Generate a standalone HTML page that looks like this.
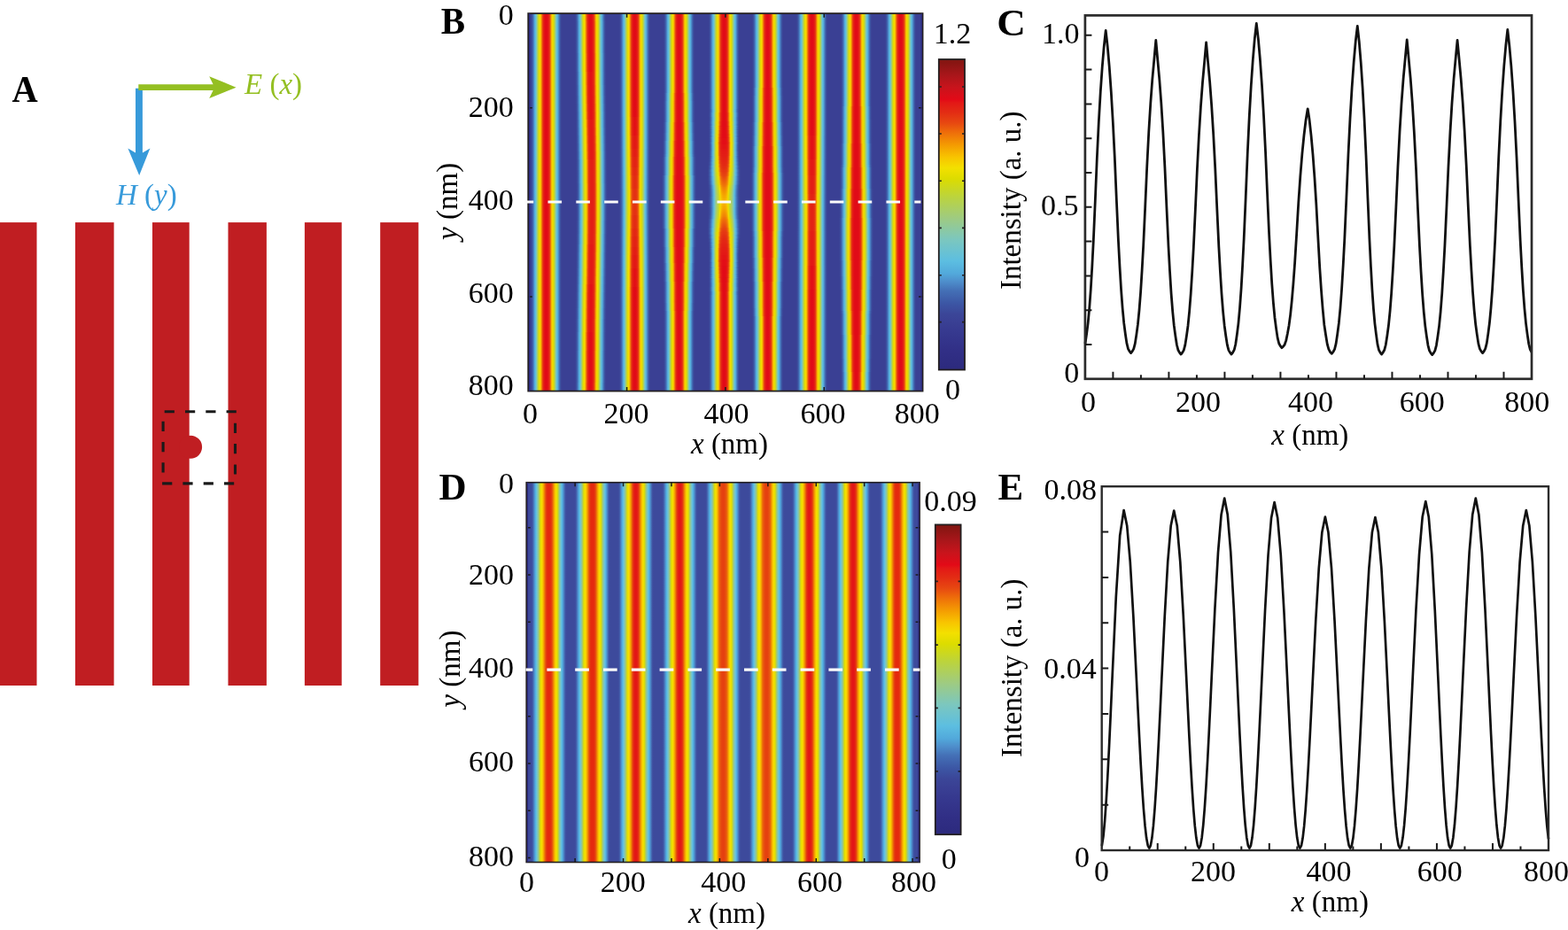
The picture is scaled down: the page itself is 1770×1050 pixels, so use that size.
<!DOCTYPE html>
<html><head><meta charset="utf-8"><title>Figure</title>
<style>html,body{margin:0;padding:0;background:#fff;width:1770px;height:1050px;overflow:hidden}
svg{display:block}
text{font-family:"Liberation Serif","Times New Roman",serif}</style></head>
<body><svg width="1770" height="1050" viewBox="0 0 1770 1050">
<defs><linearGradient id="b0"><stop offset="0.000" stop-color="#3a4094"/><stop offset="0.033" stop-color="#3b4597"/><stop offset="0.067" stop-color="#3c58a5"/><stop offset="0.100" stop-color="#4779bd"/><stop offset="0.133" stop-color="#52a7da"/><stop offset="0.167" stop-color="#61bfdc"/><stop offset="0.200" stop-color="#88c8a8"/><stop offset="0.233" stop-color="#b2d153"/><stop offset="0.267" stop-color="#d9db05"/><stop offset="0.300" stop-color="#f4dd00"/><stop offset="0.333" stop-color="#f7ba00"/><stop offset="0.367" stop-color="#ee6b0a"/><stop offset="0.400" stop-color="#e32d14"/><stop offset="0.433" stop-color="#e31916"/><stop offset="0.467" stop-color="#e30a17"/><stop offset="0.500" stop-color="#e00b18"/><stop offset="0.533" stop-color="#e30a17"/><stop offset="0.567" stop-color="#e31916"/><stop offset="0.600" stop-color="#e32d14"/><stop offset="0.633" stop-color="#ee6b0a"/><stop offset="0.667" stop-color="#f7ba00"/><stop offset="0.700" stop-color="#f4dd00"/><stop offset="0.733" stop-color="#d9db05"/><stop offset="0.767" stop-color="#b2d153"/><stop offset="0.800" stop-color="#88c8a8"/><stop offset="0.833" stop-color="#61bfdc"/><stop offset="0.867" stop-color="#52a7da"/><stop offset="0.900" stop-color="#4779bd"/><stop offset="0.933" stop-color="#3c58a5"/><stop offset="0.967" stop-color="#3b4597"/><stop offset="1.000" stop-color="#3a4094"/></linearGradient><linearGradient id="b1"><stop offset="0.000" stop-color="#3a4094"/><stop offset="0.033" stop-color="#3b4597"/><stop offset="0.067" stop-color="#3c57a5"/><stop offset="0.100" stop-color="#4778bc"/><stop offset="0.133" stop-color="#51a5d9"/><stop offset="0.167" stop-color="#60bfdd"/><stop offset="0.200" stop-color="#87c8aa"/><stop offset="0.233" stop-color="#b1d057"/><stop offset="0.267" stop-color="#d7db0a"/><stop offset="0.300" stop-color="#f2e000"/><stop offset="0.333" stop-color="#f8bf00"/><stop offset="0.367" stop-color="#ef7209"/><stop offset="0.400" stop-color="#e43213"/><stop offset="0.433" stop-color="#e31d15"/><stop offset="0.467" stop-color="#e31316"/><stop offset="0.500" stop-color="#e30d17"/><stop offset="0.533" stop-color="#e31316"/><stop offset="0.567" stop-color="#e31d15"/><stop offset="0.600" stop-color="#e43213"/><stop offset="0.633" stop-color="#ef7209"/><stop offset="0.667" stop-color="#f8bf00"/><stop offset="0.700" stop-color="#f2e000"/><stop offset="0.733" stop-color="#d7db0a"/><stop offset="0.767" stop-color="#b1d057"/><stop offset="0.800" stop-color="#87c8aa"/><stop offset="0.833" stop-color="#60bfdd"/><stop offset="0.867" stop-color="#51a5d9"/><stop offset="0.900" stop-color="#4778bc"/><stop offset="0.933" stop-color="#3c57a5"/><stop offset="0.967" stop-color="#3b4597"/><stop offset="1.000" stop-color="#3a4094"/></linearGradient><linearGradient id="b2"><stop offset="0.000" stop-color="#3a4094"/><stop offset="0.033" stop-color="#3b4597"/><stop offset="0.067" stop-color="#3c57a5"/><stop offset="0.100" stop-color="#4677bb"/><stop offset="0.133" stop-color="#51a4d8"/><stop offset="0.167" stop-color="#5fbfde"/><stop offset="0.200" stop-color="#86c8ad"/><stop offset="0.233" stop-color="#afd05b"/><stop offset="0.267" stop-color="#d4da0f"/><stop offset="0.300" stop-color="#efdf00"/><stop offset="0.333" stop-color="#f8c500"/><stop offset="0.367" stop-color="#f07908"/><stop offset="0.400" stop-color="#e53813"/><stop offset="0.433" stop-color="#e32215"/><stop offset="0.467" stop-color="#e31a16"/><stop offset="0.500" stop-color="#e31716"/><stop offset="0.533" stop-color="#e31a16"/><stop offset="0.567" stop-color="#e32215"/><stop offset="0.600" stop-color="#e53813"/><stop offset="0.633" stop-color="#f07908"/><stop offset="0.667" stop-color="#f8c500"/><stop offset="0.700" stop-color="#efdf00"/><stop offset="0.733" stop-color="#d4da0f"/><stop offset="0.767" stop-color="#afd05b"/><stop offset="0.800" stop-color="#86c8ad"/><stop offset="0.833" stop-color="#5fbfde"/><stop offset="0.867" stop-color="#51a4d8"/><stop offset="0.900" stop-color="#4677bb"/><stop offset="0.933" stop-color="#3c57a5"/><stop offset="0.967" stop-color="#3b4597"/><stop offset="1.000" stop-color="#3a4094"/></linearGradient><linearGradient id="b3"><stop offset="0.000" stop-color="#3a4094"/><stop offset="0.033" stop-color="#3b4597"/><stop offset="0.067" stop-color="#3c57a5"/><stop offset="0.100" stop-color="#4676ba"/><stop offset="0.133" stop-color="#51a2d7"/><stop offset="0.167" stop-color="#5ebedf"/><stop offset="0.200" stop-color="#84c8b0"/><stop offset="0.233" stop-color="#adcf5e"/><stop offset="0.267" stop-color="#d1d914"/><stop offset="0.300" stop-color="#ecdf00"/><stop offset="0.333" stop-color="#f7c900"/><stop offset="0.367" stop-color="#f07f07"/><stop offset="0.400" stop-color="#e53d12"/><stop offset="0.433" stop-color="#e32715"/><stop offset="0.467" stop-color="#e31f15"/><stop offset="0.500" stop-color="#e31c16"/><stop offset="0.533" stop-color="#e31f15"/><stop offset="0.567" stop-color="#e32715"/><stop offset="0.600" stop-color="#e53d12"/><stop offset="0.633" stop-color="#f07f07"/><stop offset="0.667" stop-color="#f7c900"/><stop offset="0.700" stop-color="#ecdf00"/><stop offset="0.733" stop-color="#d1d914"/><stop offset="0.767" stop-color="#adcf5e"/><stop offset="0.800" stop-color="#84c8b0"/><stop offset="0.833" stop-color="#5ebedf"/><stop offset="0.867" stop-color="#51a2d7"/><stop offset="0.900" stop-color="#4676ba"/><stop offset="0.933" stop-color="#3c57a5"/><stop offset="0.967" stop-color="#3b4597"/><stop offset="1.000" stop-color="#3a4094"/></linearGradient><linearGradient id="b4"><stop offset="0.000" stop-color="#3a4094"/><stop offset="0.033" stop-color="#3b4597"/><stop offset="0.067" stop-color="#3c56a4"/><stop offset="0.100" stop-color="#4675b9"/><stop offset="0.133" stop-color="#51a1d6"/><stop offset="0.167" stop-color="#5dbee0"/><stop offset="0.200" stop-color="#83c8b2"/><stop offset="0.233" stop-color="#accf62"/><stop offset="0.267" stop-color="#cfd918"/><stop offset="0.300" stop-color="#e9de00"/><stop offset="0.333" stop-color="#f6cd00"/><stop offset="0.367" stop-color="#f18606"/><stop offset="0.400" stop-color="#e64212"/><stop offset="0.433" stop-color="#e32b14"/><stop offset="0.467" stop-color="#e32415"/><stop offset="0.500" stop-color="#e32115"/><stop offset="0.533" stop-color="#e32415"/><stop offset="0.567" stop-color="#e32b14"/><stop offset="0.600" stop-color="#e64212"/><stop offset="0.633" stop-color="#f18606"/><stop offset="0.667" stop-color="#f6cd00"/><stop offset="0.700" stop-color="#e9de00"/><stop offset="0.733" stop-color="#cfd918"/><stop offset="0.767" stop-color="#accf62"/><stop offset="0.800" stop-color="#83c8b2"/><stop offset="0.833" stop-color="#5dbee0"/><stop offset="0.867" stop-color="#51a1d6"/><stop offset="0.900" stop-color="#4675b9"/><stop offset="0.933" stop-color="#3c56a4"/><stop offset="0.967" stop-color="#3b4597"/><stop offset="1.000" stop-color="#3a4094"/></linearGradient><linearGradient id="b5"><stop offset="0.000" stop-color="#3a4094"/><stop offset="0.033" stop-color="#3b4597"/><stop offset="0.067" stop-color="#3c56a4"/><stop offset="0.100" stop-color="#4574b9"/><stop offset="0.133" stop-color="#509fd5"/><stop offset="0.167" stop-color="#5cbee1"/><stop offset="0.200" stop-color="#81c8b5"/><stop offset="0.233" stop-color="#aace66"/><stop offset="0.267" stop-color="#ccd81d"/><stop offset="0.300" stop-color="#e5de00"/><stop offset="0.333" stop-color="#f6d200"/><stop offset="0.367" stop-color="#f28d04"/><stop offset="0.400" stop-color="#e74811"/><stop offset="0.433" stop-color="#e43113"/><stop offset="0.467" stop-color="#e32914"/><stop offset="0.500" stop-color="#e32615"/><stop offset="0.533" stop-color="#e32914"/><stop offset="0.567" stop-color="#e43113"/><stop offset="0.600" stop-color="#e74811"/><stop offset="0.633" stop-color="#f28d04"/><stop offset="0.667" stop-color="#f6d200"/><stop offset="0.700" stop-color="#e5de00"/><stop offset="0.733" stop-color="#ccd81d"/><stop offset="0.767" stop-color="#aace66"/><stop offset="0.800" stop-color="#81c8b5"/><stop offset="0.833" stop-color="#5cbee1"/><stop offset="0.867" stop-color="#509fd5"/><stop offset="0.900" stop-color="#4574b9"/><stop offset="0.933" stop-color="#3c56a4"/><stop offset="0.967" stop-color="#3b4597"/><stop offset="1.000" stop-color="#3a4094"/></linearGradient><linearGradient id="b6"><stop offset="0.000" stop-color="#3a4094"/><stop offset="0.033" stop-color="#3b4597"/><stop offset="0.067" stop-color="#3c56a4"/><stop offset="0.100" stop-color="#4573b8"/><stop offset="0.133" stop-color="#509dd4"/><stop offset="0.167" stop-color="#5bbde1"/><stop offset="0.200" stop-color="#80c7b7"/><stop offset="0.233" stop-color="#a9ce6a"/><stop offset="0.267" stop-color="#cad722"/><stop offset="0.300" stop-color="#e2dd00"/><stop offset="0.333" stop-color="#f5d600"/><stop offset="0.367" stop-color="#f39403"/><stop offset="0.400" stop-color="#e9500f"/><stop offset="0.433" stop-color="#e53713"/><stop offset="0.467" stop-color="#e32e14"/><stop offset="0.500" stop-color="#e32b14"/><stop offset="0.533" stop-color="#e32e14"/><stop offset="0.567" stop-color="#e53713"/><stop offset="0.600" stop-color="#e9500f"/><stop offset="0.633" stop-color="#f39403"/><stop offset="0.667" stop-color="#f5d600"/><stop offset="0.700" stop-color="#e2dd00"/><stop offset="0.733" stop-color="#cad722"/><stop offset="0.767" stop-color="#a9ce6a"/><stop offset="0.800" stop-color="#80c7b7"/><stop offset="0.833" stop-color="#5bbde1"/><stop offset="0.867" stop-color="#509dd4"/><stop offset="0.900" stop-color="#4573b8"/><stop offset="0.933" stop-color="#3c56a4"/><stop offset="0.967" stop-color="#3b4597"/><stop offset="1.000" stop-color="#3a4094"/></linearGradient><linearGradient id="b7"><stop offset="0.000" stop-color="#3a4094"/><stop offset="0.033" stop-color="#3b4597"/><stop offset="0.067" stop-color="#3c55a4"/><stop offset="0.100" stop-color="#4471b7"/><stop offset="0.133" stop-color="#509cd3"/><stop offset="0.167" stop-color="#5bbce0"/><stop offset="0.200" stop-color="#7ec7ba"/><stop offset="0.233" stop-color="#a7cd6e"/><stop offset="0.267" stop-color="#c7d727"/><stop offset="0.300" stop-color="#dfdc00"/><stop offset="0.333" stop-color="#f4da00"/><stop offset="0.367" stop-color="#f49b02"/><stop offset="0.400" stop-color="#ea580e"/><stop offset="0.433" stop-color="#e53c12"/><stop offset="0.467" stop-color="#e43413"/><stop offset="0.500" stop-color="#e43014"/><stop offset="0.533" stop-color="#e43413"/><stop offset="0.567" stop-color="#e53c12"/><stop offset="0.600" stop-color="#ea580e"/><stop offset="0.633" stop-color="#f49b02"/><stop offset="0.667" stop-color="#f4da00"/><stop offset="0.700" stop-color="#dfdc00"/><stop offset="0.733" stop-color="#c7d727"/><stop offset="0.767" stop-color="#a7cd6e"/><stop offset="0.800" stop-color="#7ec7ba"/><stop offset="0.833" stop-color="#5bbce0"/><stop offset="0.867" stop-color="#509cd3"/><stop offset="0.900" stop-color="#4471b7"/><stop offset="0.933" stop-color="#3c55a4"/><stop offset="0.967" stop-color="#3b4597"/><stop offset="1.000" stop-color="#3a4094"/></linearGradient><linearGradient id="b8"><stop offset="0.000" stop-color="#3a4094"/><stop offset="0.033" stop-color="#3b4597"/><stop offset="0.067" stop-color="#3c58a6"/><stop offset="0.100" stop-color="#487bbe"/><stop offset="0.133" stop-color="#52a9db"/><stop offset="0.167" stop-color="#63c0d9"/><stop offset="0.200" stop-color="#8cc9a1"/><stop offset="0.233" stop-color="#b6d24a"/><stop offset="0.267" stop-color="#dddc00"/><stop offset="0.300" stop-color="#f4d900"/><stop offset="0.333" stop-color="#f6af01"/><stop offset="0.367" stop-color="#eb5d0d"/><stop offset="0.400" stop-color="#e32814"/><stop offset="0.433" stop-color="#e31516"/><stop offset="0.467" stop-color="#e20b17"/><stop offset="0.500" stop-color="#e00b18"/><stop offset="0.533" stop-color="#e20b17"/><stop offset="0.567" stop-color="#e31516"/><stop offset="0.600" stop-color="#e32814"/><stop offset="0.633" stop-color="#eb5d0d"/><stop offset="0.667" stop-color="#f6af01"/><stop offset="0.700" stop-color="#f4d900"/><stop offset="0.733" stop-color="#dddc00"/><stop offset="0.767" stop-color="#b6d24a"/><stop offset="0.800" stop-color="#8cc9a1"/><stop offset="0.833" stop-color="#63c0d9"/><stop offset="0.867" stop-color="#52a9db"/><stop offset="0.900" stop-color="#487bbe"/><stop offset="0.933" stop-color="#3c58a6"/><stop offset="0.967" stop-color="#3b4597"/><stop offset="1.000" stop-color="#3a4094"/></linearGradient><linearGradient id="b9"><stop offset="0.000" stop-color="#3a4094"/><stop offset="0.033" stop-color="#3b4597"/><stop offset="0.067" stop-color="#3c58a6"/><stop offset="0.100" stop-color="#487bbe"/><stop offset="0.133" stop-color="#52a9db"/><stop offset="0.167" stop-color="#63c0d9"/><stop offset="0.200" stop-color="#8cc9a1"/><stop offset="0.233" stop-color="#b6d24a"/><stop offset="0.267" stop-color="#dddc00"/><stop offset="0.300" stop-color="#f4d900"/><stop offset="0.333" stop-color="#f6af01"/><stop offset="0.367" stop-color="#eb5d0d"/><stop offset="0.400" stop-color="#e32814"/><stop offset="0.433" stop-color="#e31516"/><stop offset="0.467" stop-color="#e20b17"/><stop offset="0.500" stop-color="#e00b18"/><stop offset="0.533" stop-color="#e20b17"/><stop offset="0.567" stop-color="#e31516"/><stop offset="0.600" stop-color="#e32814"/><stop offset="0.633" stop-color="#eb5d0d"/><stop offset="0.667" stop-color="#f6af01"/><stop offset="0.700" stop-color="#f4d900"/><stop offset="0.733" stop-color="#dddc00"/><stop offset="0.767" stop-color="#b6d24a"/><stop offset="0.800" stop-color="#8cc9a1"/><stop offset="0.833" stop-color="#63c0d9"/><stop offset="0.867" stop-color="#52a9db"/><stop offset="0.900" stop-color="#487bbe"/><stop offset="0.933" stop-color="#3c58a6"/><stop offset="0.967" stop-color="#3b4597"/><stop offset="1.000" stop-color="#3a4094"/></linearGradient><linearGradient id="b10"><stop offset="0.000" stop-color="#3a4094"/><stop offset="0.033" stop-color="#3b4598"/><stop offset="0.067" stop-color="#3d59a7"/><stop offset="0.100" stop-color="#487dc0"/><stop offset="0.133" stop-color="#53aadb"/><stop offset="0.167" stop-color="#66c1d6"/><stop offset="0.200" stop-color="#90c99b"/><stop offset="0.233" stop-color="#bad342"/><stop offset="0.267" stop-color="#e1dd00"/><stop offset="0.300" stop-color="#f5d500"/><stop offset="0.333" stop-color="#f5a501"/><stop offset="0.367" stop-color="#e85010"/><stop offset="0.400" stop-color="#e32315"/><stop offset="0.433" stop-color="#e31117"/><stop offset="0.467" stop-color="#e10b17"/><stop offset="0.500" stop-color="#e00b18"/><stop offset="0.533" stop-color="#e10b17"/><stop offset="0.567" stop-color="#e31117"/><stop offset="0.600" stop-color="#e32315"/><stop offset="0.633" stop-color="#e85010"/><stop offset="0.667" stop-color="#f5a501"/><stop offset="0.700" stop-color="#f5d500"/><stop offset="0.733" stop-color="#e1dd00"/><stop offset="0.767" stop-color="#bad342"/><stop offset="0.800" stop-color="#90c99b"/><stop offset="0.833" stop-color="#66c1d6"/><stop offset="0.867" stop-color="#53aadb"/><stop offset="0.900" stop-color="#487dc0"/><stop offset="0.933" stop-color="#3d59a7"/><stop offset="0.967" stop-color="#3b4598"/><stop offset="1.000" stop-color="#3a4094"/></linearGradient><linearGradient id="b11"><stop offset="0.000" stop-color="#3a4094"/><stop offset="0.033" stop-color="#3b4598"/><stop offset="0.067" stop-color="#3d59a7"/><stop offset="0.100" stop-color="#487dbf"/><stop offset="0.133" stop-color="#53aadb"/><stop offset="0.167" stop-color="#66c1d6"/><stop offset="0.200" stop-color="#90c99b"/><stop offset="0.233" stop-color="#bad342"/><stop offset="0.267" stop-color="#e1dd00"/><stop offset="0.300" stop-color="#f5d500"/><stop offset="0.333" stop-color="#f5a501"/><stop offset="0.367" stop-color="#e9500f"/><stop offset="0.400" stop-color="#e32415"/><stop offset="0.433" stop-color="#e31117"/><stop offset="0.467" stop-color="#e10b17"/><stop offset="0.500" stop-color="#e00b18"/><stop offset="0.533" stop-color="#e10b17"/><stop offset="0.567" stop-color="#e31117"/><stop offset="0.600" stop-color="#e32415"/><stop offset="0.633" stop-color="#e9500f"/><stop offset="0.667" stop-color="#f5a501"/><stop offset="0.700" stop-color="#f5d500"/><stop offset="0.733" stop-color="#e1dd00"/><stop offset="0.767" stop-color="#bad342"/><stop offset="0.800" stop-color="#90c99b"/><stop offset="0.833" stop-color="#66c1d6"/><stop offset="0.867" stop-color="#53aadb"/><stop offset="0.900" stop-color="#487dbf"/><stop offset="0.933" stop-color="#3d59a7"/><stop offset="0.967" stop-color="#3b4598"/><stop offset="1.000" stop-color="#3a4094"/></linearGradient><linearGradient id="b12"><stop offset="0.000" stop-color="#3a4094"/><stop offset="0.033" stop-color="#3b4598"/><stop offset="0.067" stop-color="#3d5aa7"/><stop offset="0.100" stop-color="#497fc1"/><stop offset="0.133" stop-color="#53acdc"/><stop offset="0.167" stop-color="#68c1d3"/><stop offset="0.200" stop-color="#94ca94"/><stop offset="0.233" stop-color="#bdd439"/><stop offset="0.267" stop-color="#e6de00"/><stop offset="0.300" stop-color="#f6d100"/><stop offset="0.333" stop-color="#f49b02"/><stop offset="0.367" stop-color="#e74511"/><stop offset="0.400" stop-color="#e31f15"/><stop offset="0.433" stop-color="#e30f17"/><stop offset="0.467" stop-color="#e10b17"/><stop offset="0.500" stop-color="#e00b18"/><stop offset="0.533" stop-color="#e10b17"/><stop offset="0.567" stop-color="#e30f17"/><stop offset="0.600" stop-color="#e31f15"/><stop offset="0.633" stop-color="#e74511"/><stop offset="0.667" stop-color="#f49b02"/><stop offset="0.700" stop-color="#f6d100"/><stop offset="0.733" stop-color="#e6de00"/><stop offset="0.767" stop-color="#bdd439"/><stop offset="0.800" stop-color="#94ca94"/><stop offset="0.833" stop-color="#68c1d3"/><stop offset="0.867" stop-color="#53acdc"/><stop offset="0.900" stop-color="#497fc1"/><stop offset="0.933" stop-color="#3d5aa7"/><stop offset="0.967" stop-color="#3b4598"/><stop offset="1.000" stop-color="#3a4094"/></linearGradient><linearGradient id="b13"><stop offset="0.000" stop-color="#3a4094"/><stop offset="0.033" stop-color="#3b4598"/><stop offset="0.067" stop-color="#3d5aa7"/><stop offset="0.100" stop-color="#497fc1"/><stop offset="0.133" stop-color="#53acdc"/><stop offset="0.167" stop-color="#68c1d4"/><stop offset="0.200" stop-color="#93ca95"/><stop offset="0.233" stop-color="#bdd439"/><stop offset="0.267" stop-color="#e5de00"/><stop offset="0.300" stop-color="#f6d100"/><stop offset="0.333" stop-color="#f49b02"/><stop offset="0.367" stop-color="#e74511"/><stop offset="0.400" stop-color="#e31f15"/><stop offset="0.433" stop-color="#e30f17"/><stop offset="0.467" stop-color="#e10b17"/><stop offset="0.500" stop-color="#e00b18"/><stop offset="0.533" stop-color="#e10b17"/><stop offset="0.567" stop-color="#e30f17"/><stop offset="0.600" stop-color="#e31f15"/><stop offset="0.633" stop-color="#e74511"/><stop offset="0.667" stop-color="#f49b02"/><stop offset="0.700" stop-color="#f6d100"/><stop offset="0.733" stop-color="#e5de00"/><stop offset="0.767" stop-color="#bdd439"/><stop offset="0.800" stop-color="#93ca95"/><stop offset="0.833" stop-color="#68c1d4"/><stop offset="0.867" stop-color="#53acdc"/><stop offset="0.900" stop-color="#497fc1"/><stop offset="0.933" stop-color="#3d5aa7"/><stop offset="0.967" stop-color="#3b4598"/><stop offset="1.000" stop-color="#3a4094"/></linearGradient><linearGradient id="b14"><stop offset="0.000" stop-color="#3a4094"/><stop offset="0.033" stop-color="#3b4698"/><stop offset="0.067" stop-color="#3d5ba8"/><stop offset="0.100" stop-color="#4a81c2"/><stop offset="0.133" stop-color="#54addc"/><stop offset="0.167" stop-color="#6bc2d1"/><stop offset="0.200" stop-color="#97ca8e"/><stop offset="0.233" stop-color="#c2d531"/><stop offset="0.267" stop-color="#e8de00"/><stop offset="0.300" stop-color="#f6cd00"/><stop offset="0.333" stop-color="#f39004"/><stop offset="0.367" stop-color="#e53c12"/><stop offset="0.400" stop-color="#e31d16"/><stop offset="0.433" stop-color="#e30d17"/><stop offset="0.467" stop-color="#e00b18"/><stop offset="0.500" stop-color="#e00b18"/><stop offset="0.533" stop-color="#e00b18"/><stop offset="0.567" stop-color="#e30d17"/><stop offset="0.600" stop-color="#e31d16"/><stop offset="0.633" stop-color="#e53c12"/><stop offset="0.667" stop-color="#f39004"/><stop offset="0.700" stop-color="#f6cd00"/><stop offset="0.733" stop-color="#e8de00"/><stop offset="0.767" stop-color="#c2d531"/><stop offset="0.800" stop-color="#97ca8e"/><stop offset="0.833" stop-color="#6bc2d1"/><stop offset="0.867" stop-color="#54addc"/><stop offset="0.900" stop-color="#4a81c2"/><stop offset="0.933" stop-color="#3d5ba8"/><stop offset="0.967" stop-color="#3b4698"/><stop offset="1.000" stop-color="#3a4094"/></linearGradient><linearGradient id="b15"><stop offset="0.000" stop-color="#3a4094"/><stop offset="0.033" stop-color="#3b4698"/><stop offset="0.067" stop-color="#3d5ca8"/><stop offset="0.100" stop-color="#4a83c4"/><stop offset="0.133" stop-color="#55aedd"/><stop offset="0.167" stop-color="#6dc3ce"/><stop offset="0.200" stop-color="#9bca88"/><stop offset="0.233" stop-color="#c7d628"/><stop offset="0.267" stop-color="#ebdf00"/><stop offset="0.300" stop-color="#f7c900"/><stop offset="0.333" stop-color="#f18606"/><stop offset="0.367" stop-color="#e43613"/><stop offset="0.400" stop-color="#e31b16"/><stop offset="0.433" stop-color="#e30b17"/><stop offset="0.467" stop-color="#e00b18"/><stop offset="0.500" stop-color="#e00b18"/><stop offset="0.533" stop-color="#e00b18"/><stop offset="0.567" stop-color="#e30b17"/><stop offset="0.600" stop-color="#e31b16"/><stop offset="0.633" stop-color="#e43613"/><stop offset="0.667" stop-color="#f18606"/><stop offset="0.700" stop-color="#f7c900"/><stop offset="0.733" stop-color="#ebdf00"/><stop offset="0.767" stop-color="#c7d628"/><stop offset="0.800" stop-color="#9bca88"/><stop offset="0.833" stop-color="#6dc3ce"/><stop offset="0.867" stop-color="#55aedd"/><stop offset="0.900" stop-color="#4a83c4"/><stop offset="0.933" stop-color="#3d5ca8"/><stop offset="0.967" stop-color="#3b4698"/><stop offset="1.000" stop-color="#3a4094"/></linearGradient><linearGradient id="b16"><stop offset="0.000" stop-color="#3a4094"/><stop offset="0.033" stop-color="#3b4597"/><stop offset="0.067" stop-color="#3c58a5"/><stop offset="0.100" stop-color="#4779bd"/><stop offset="0.133" stop-color="#52a7da"/><stop offset="0.167" stop-color="#61bfdc"/><stop offset="0.200" stop-color="#88c8a8"/><stop offset="0.233" stop-color="#b2d153"/><stop offset="0.267" stop-color="#d9db05"/><stop offset="0.300" stop-color="#f4dd00"/><stop offset="0.333" stop-color="#f7ba00"/><stop offset="0.367" stop-color="#ee6b0a"/><stop offset="0.400" stop-color="#e32d14"/><stop offset="0.433" stop-color="#e31916"/><stop offset="0.467" stop-color="#e30a17"/><stop offset="0.500" stop-color="#e00b18"/><stop offset="0.533" stop-color="#e30a17"/><stop offset="0.567" stop-color="#e31916"/><stop offset="0.600" stop-color="#e32d14"/><stop offset="0.633" stop-color="#ee6b0a"/><stop offset="0.667" stop-color="#f7b901"/><stop offset="0.700" stop-color="#f4dd00"/><stop offset="0.733" stop-color="#d9db05"/><stop offset="0.767" stop-color="#b2d153"/><stop offset="0.800" stop-color="#88c8a8"/><stop offset="0.833" stop-color="#61bfdc"/><stop offset="0.867" stop-color="#52a7da"/><stop offset="0.900" stop-color="#4779bd"/><stop offset="0.933" stop-color="#3c58a5"/><stop offset="0.967" stop-color="#3b4597"/><stop offset="1.000" stop-color="#3a4094"/></linearGradient><linearGradient id="b17"><stop offset="0.000" stop-color="#3a4094"/><stop offset="0.033" stop-color="#3b4597"/><stop offset="0.067" stop-color="#3c58a6"/><stop offset="0.100" stop-color="#487bbe"/><stop offset="0.133" stop-color="#52a9db"/><stop offset="0.167" stop-color="#63c0d9"/><stop offset="0.200" stop-color="#8cc9a1"/><stop offset="0.233" stop-color="#b6d24a"/><stop offset="0.267" stop-color="#dddc00"/><stop offset="0.300" stop-color="#f4d900"/><stop offset="0.333" stop-color="#f6af01"/><stop offset="0.367" stop-color="#eb5d0d"/><stop offset="0.400" stop-color="#e32814"/><stop offset="0.433" stop-color="#e31516"/><stop offset="0.467" stop-color="#e20b17"/><stop offset="0.500" stop-color="#e00b18"/><stop offset="0.533" stop-color="#e20b17"/><stop offset="0.567" stop-color="#e31516"/><stop offset="0.600" stop-color="#e32814"/><stop offset="0.633" stop-color="#eb5d0d"/><stop offset="0.667" stop-color="#f6af01"/><stop offset="0.700" stop-color="#f4d900"/><stop offset="0.733" stop-color="#dddc00"/><stop offset="0.767" stop-color="#b6d24a"/><stop offset="0.800" stop-color="#8cc9a1"/><stop offset="0.833" stop-color="#63c0d9"/><stop offset="0.867" stop-color="#52a9db"/><stop offset="0.900" stop-color="#487bbe"/><stop offset="0.933" stop-color="#3c58a6"/><stop offset="0.967" stop-color="#3b4597"/><stop offset="1.000" stop-color="#3a4094"/></linearGradient><linearGradient id="b18"><stop offset="0.000" stop-color="#3a4094"/><stop offset="0.033" stop-color="#3b4597"/><stop offset="0.067" stop-color="#3c58a6"/><stop offset="0.100" stop-color="#487bbe"/><stop offset="0.133" stop-color="#52a9db"/><stop offset="0.167" stop-color="#63c0d9"/><stop offset="0.200" stop-color="#8cc9a1"/><stop offset="0.233" stop-color="#b6d24a"/><stop offset="0.267" stop-color="#dddc00"/><stop offset="0.300" stop-color="#f4d900"/><stop offset="0.333" stop-color="#f6af01"/><stop offset="0.367" stop-color="#eb5d0d"/><stop offset="0.400" stop-color="#e32814"/><stop offset="0.433" stop-color="#e31516"/><stop offset="0.467" stop-color="#e20b17"/><stop offset="0.500" stop-color="#e00b18"/><stop offset="0.533" stop-color="#e20b17"/><stop offset="0.567" stop-color="#e31516"/><stop offset="0.600" stop-color="#e32814"/><stop offset="0.633" stop-color="#eb5d0d"/><stop offset="0.667" stop-color="#f6af01"/><stop offset="0.700" stop-color="#f4d900"/><stop offset="0.733" stop-color="#dddc00"/><stop offset="0.767" stop-color="#b6d24a"/><stop offset="0.800" stop-color="#8cc9a1"/><stop offset="0.833" stop-color="#63c0d9"/><stop offset="0.867" stop-color="#52a9db"/><stop offset="0.900" stop-color="#487bbe"/><stop offset="0.933" stop-color="#3c58a6"/><stop offset="0.967" stop-color="#3b4597"/><stop offset="1.000" stop-color="#3a4094"/></linearGradient><linearGradient id="b19"><stop offset="0.000" stop-color="#3a4094"/><stop offset="0.033" stop-color="#3b4598"/><stop offset="0.067" stop-color="#3d59a7"/><stop offset="0.100" stop-color="#487ec0"/><stop offset="0.133" stop-color="#53aadb"/><stop offset="0.167" stop-color="#66c1d6"/><stop offset="0.200" stop-color="#90c99a"/><stop offset="0.233" stop-color="#bad341"/><stop offset="0.267" stop-color="#e2dd00"/><stop offset="0.300" stop-color="#f5d500"/><stop offset="0.333" stop-color="#f5a402"/><stop offset="0.367" stop-color="#e84f10"/><stop offset="0.400" stop-color="#e32315"/><stop offset="0.433" stop-color="#e31117"/><stop offset="0.467" stop-color="#e10b17"/><stop offset="0.500" stop-color="#e00b18"/><stop offset="0.533" stop-color="#e10b17"/><stop offset="0.567" stop-color="#e31117"/><stop offset="0.600" stop-color="#e32315"/><stop offset="0.633" stop-color="#e84f10"/><stop offset="0.667" stop-color="#f5a402"/><stop offset="0.700" stop-color="#f5d500"/><stop offset="0.733" stop-color="#e2dd00"/><stop offset="0.767" stop-color="#bad341"/><stop offset="0.800" stop-color="#90c99a"/><stop offset="0.833" stop-color="#66c1d6"/><stop offset="0.867" stop-color="#53aadb"/><stop offset="0.900" stop-color="#487ec0"/><stop offset="0.933" stop-color="#3d59a7"/><stop offset="0.967" stop-color="#3b4598"/><stop offset="1.000" stop-color="#3a4094"/></linearGradient><linearGradient id="b20"><stop offset="0.000" stop-color="#3a4094"/><stop offset="0.033" stop-color="#3b4598"/><stop offset="0.067" stop-color="#3d59a7"/><stop offset="0.100" stop-color="#487ec0"/><stop offset="0.133" stop-color="#53abdb"/><stop offset="0.167" stop-color="#66c1d6"/><stop offset="0.200" stop-color="#90c99a"/><stop offset="0.233" stop-color="#bad341"/><stop offset="0.267" stop-color="#e2dd00"/><stop offset="0.300" stop-color="#f5d500"/><stop offset="0.333" stop-color="#f5a402"/><stop offset="0.367" stop-color="#e84e10"/><stop offset="0.400" stop-color="#e32315"/><stop offset="0.433" stop-color="#e31017"/><stop offset="0.467" stop-color="#e10b17"/><stop offset="0.500" stop-color="#e00b18"/><stop offset="0.533" stop-color="#e10b17"/><stop offset="0.567" stop-color="#e31017"/><stop offset="0.600" stop-color="#e32315"/><stop offset="0.633" stop-color="#e84e10"/><stop offset="0.667" stop-color="#f5a402"/><stop offset="0.700" stop-color="#f5d500"/><stop offset="0.733" stop-color="#e2dd00"/><stop offset="0.767" stop-color="#bad341"/><stop offset="0.800" stop-color="#90c99a"/><stop offset="0.833" stop-color="#66c1d6"/><stop offset="0.867" stop-color="#53abdb"/><stop offset="0.900" stop-color="#487ec0"/><stop offset="0.933" stop-color="#3d59a7"/><stop offset="0.967" stop-color="#3b4598"/><stop offset="1.000" stop-color="#3a4094"/></linearGradient><linearGradient id="b21"><stop offset="0.000" stop-color="#3a4094"/><stop offset="0.033" stop-color="#3b4598"/><stop offset="0.067" stop-color="#3d5aa7"/><stop offset="0.100" stop-color="#4980c1"/><stop offset="0.133" stop-color="#53acdc"/><stop offset="0.167" stop-color="#69c2d3"/><stop offset="0.200" stop-color="#94ca93"/><stop offset="0.233" stop-color="#bed438"/><stop offset="0.267" stop-color="#e6de00"/><stop offset="0.300" stop-color="#f6d000"/><stop offset="0.333" stop-color="#f49902"/><stop offset="0.367" stop-color="#e64312"/><stop offset="0.400" stop-color="#e31e15"/><stop offset="0.433" stop-color="#e30e17"/><stop offset="0.467" stop-color="#e10b17"/><stop offset="0.500" stop-color="#e00b18"/><stop offset="0.533" stop-color="#e10b17"/><stop offset="0.567" stop-color="#e30e17"/><stop offset="0.600" stop-color="#e31e15"/><stop offset="0.633" stop-color="#e64312"/><stop offset="0.667" stop-color="#f49902"/><stop offset="0.700" stop-color="#f6d000"/><stop offset="0.733" stop-color="#e6de00"/><stop offset="0.767" stop-color="#bed438"/><stop offset="0.800" stop-color="#94ca93"/><stop offset="0.833" stop-color="#69c2d3"/><stop offset="0.867" stop-color="#53acdc"/><stop offset="0.900" stop-color="#4980c1"/><stop offset="0.933" stop-color="#3d5aa7"/><stop offset="0.967" stop-color="#3b4598"/><stop offset="1.000" stop-color="#3a4094"/></linearGradient><linearGradient id="b22"><stop offset="0.000" stop-color="#3a4094"/><stop offset="0.033" stop-color="#3b4598"/><stop offset="0.067" stop-color="#3d5aa7"/><stop offset="0.100" stop-color="#497fc1"/><stop offset="0.133" stop-color="#53abdc"/><stop offset="0.167" stop-color="#68c2d3"/><stop offset="0.200" stop-color="#94ca94"/><stop offset="0.233" stop-color="#bdd439"/><stop offset="0.267" stop-color="#e5de00"/><stop offset="0.300" stop-color="#f5d200"/><stop offset="0.333" stop-color="#f49b02"/><stop offset="0.367" stop-color="#e74511"/><stop offset="0.400" stop-color="#e32115"/><stop offset="0.433" stop-color="#e31316"/><stop offset="0.467" stop-color="#e30a17"/><stop offset="0.500" stop-color="#e20a17"/><stop offset="0.533" stop-color="#e30a17"/><stop offset="0.567" stop-color="#e31316"/><stop offset="0.600" stop-color="#e32115"/><stop offset="0.633" stop-color="#e74511"/><stop offset="0.667" stop-color="#f49b02"/><stop offset="0.700" stop-color="#f5d200"/><stop offset="0.733" stop-color="#e5de00"/><stop offset="0.767" stop-color="#bdd439"/><stop offset="0.800" stop-color="#94ca94"/><stop offset="0.833" stop-color="#68c2d3"/><stop offset="0.867" stop-color="#53abdc"/><stop offset="0.900" stop-color="#497fc1"/><stop offset="0.933" stop-color="#3d5aa7"/><stop offset="0.967" stop-color="#3b4598"/><stop offset="1.000" stop-color="#3a4094"/></linearGradient><linearGradient id="b23"><stop offset="0.000" stop-color="#3a4094"/><stop offset="0.033" stop-color="#3b4598"/><stop offset="0.067" stop-color="#3d5aa7"/><stop offset="0.100" stop-color="#497fc1"/><stop offset="0.133" stop-color="#53acdc"/><stop offset="0.167" stop-color="#69c2d3"/><stop offset="0.200" stop-color="#94ca94"/><stop offset="0.233" stop-color="#bdd439"/><stop offset="0.267" stop-color="#e5de00"/><stop offset="0.300" stop-color="#f5d200"/><stop offset="0.333" stop-color="#f49b02"/><stop offset="0.367" stop-color="#e74511"/><stop offset="0.400" stop-color="#e32115"/><stop offset="0.433" stop-color="#e31316"/><stop offset="0.467" stop-color="#e30a17"/><stop offset="0.500" stop-color="#e20a17"/><stop offset="0.533" stop-color="#e30a17"/><stop offset="0.567" stop-color="#e31316"/><stop offset="0.600" stop-color="#e32115"/><stop offset="0.633" stop-color="#e74511"/><stop offset="0.667" stop-color="#f49b02"/><stop offset="0.700" stop-color="#f5d200"/><stop offset="0.733" stop-color="#e5de00"/><stop offset="0.767" stop-color="#bdd439"/><stop offset="0.800" stop-color="#94ca94"/><stop offset="0.833" stop-color="#69c2d3"/><stop offset="0.867" stop-color="#53acdc"/><stop offset="0.900" stop-color="#497fc1"/><stop offset="0.933" stop-color="#3d5aa7"/><stop offset="0.967" stop-color="#3b4598"/><stop offset="1.000" stop-color="#3a4094"/></linearGradient><linearGradient id="b24"><stop offset="0.000" stop-color="#3a4094"/><stop offset="0.033" stop-color="#3b4698"/><stop offset="0.067" stop-color="#3d5ba8"/><stop offset="0.100" stop-color="#4a81c2"/><stop offset="0.133" stop-color="#54addc"/><stop offset="0.167" stop-color="#6bc2d0"/><stop offset="0.200" stop-color="#98ca8d"/><stop offset="0.233" stop-color="#c3d52f"/><stop offset="0.267" stop-color="#e8de00"/><stop offset="0.300" stop-color="#f6ce00"/><stop offset="0.333" stop-color="#f38f04"/><stop offset="0.367" stop-color="#e53c12"/><stop offset="0.400" stop-color="#e31e15"/><stop offset="0.433" stop-color="#e31117"/><stop offset="0.467" stop-color="#e20a17"/><stop offset="0.500" stop-color="#e20a17"/><stop offset="0.533" stop-color="#e20a17"/><stop offset="0.567" stop-color="#e31117"/><stop offset="0.600" stop-color="#e31e15"/><stop offset="0.633" stop-color="#e53c12"/><stop offset="0.667" stop-color="#f38f04"/><stop offset="0.700" stop-color="#f6ce00"/><stop offset="0.733" stop-color="#e8de00"/><stop offset="0.767" stop-color="#c3d52f"/><stop offset="0.800" stop-color="#98ca8d"/><stop offset="0.833" stop-color="#6bc2d0"/><stop offset="0.867" stop-color="#54addc"/><stop offset="0.900" stop-color="#4a81c2"/><stop offset="0.933" stop-color="#3d5ba8"/><stop offset="0.967" stop-color="#3b4698"/><stop offset="1.000" stop-color="#3a4094"/></linearGradient><linearGradient id="b25"><stop offset="0.000" stop-color="#3a4094"/><stop offset="0.033" stop-color="#3b4698"/><stop offset="0.067" stop-color="#3d5ba8"/><stop offset="0.100" stop-color="#4a82c2"/><stop offset="0.133" stop-color="#54addc"/><stop offset="0.167" stop-color="#6cc2d0"/><stop offset="0.200" stop-color="#98ca8d"/><stop offset="0.233" stop-color="#c3d62f"/><stop offset="0.267" stop-color="#e8de00"/><stop offset="0.300" stop-color="#f6ce00"/><stop offset="0.333" stop-color="#f28f04"/><stop offset="0.367" stop-color="#e53b12"/><stop offset="0.400" stop-color="#e31e15"/><stop offset="0.433" stop-color="#e31117"/><stop offset="0.467" stop-color="#e20a17"/><stop offset="0.500" stop-color="#e20a17"/><stop offset="0.533" stop-color="#e20a17"/><stop offset="0.567" stop-color="#e31117"/><stop offset="0.600" stop-color="#e31e15"/><stop offset="0.633" stop-color="#e53b12"/><stop offset="0.667" stop-color="#f28f04"/><stop offset="0.700" stop-color="#f6ce00"/><stop offset="0.733" stop-color="#e8de00"/><stop offset="0.767" stop-color="#c3d62f"/><stop offset="0.800" stop-color="#98ca8d"/><stop offset="0.833" stop-color="#6cc2d0"/><stop offset="0.867" stop-color="#54addc"/><stop offset="0.900" stop-color="#4a82c2"/><stop offset="0.933" stop-color="#3d5ba8"/><stop offset="0.967" stop-color="#3b4698"/><stop offset="1.000" stop-color="#3a4094"/></linearGradient><linearGradient id="b26"><stop offset="0.000" stop-color="#3a4094"/><stop offset="0.033" stop-color="#3b4698"/><stop offset="0.067" stop-color="#3e5ca8"/><stop offset="0.100" stop-color="#4a84c4"/><stop offset="0.133" stop-color="#55afdd"/><stop offset="0.167" stop-color="#6fc3cd"/><stop offset="0.200" stop-color="#9ccb85"/><stop offset="0.233" stop-color="#c8d725"/><stop offset="0.267" stop-color="#ebdf00"/><stop offset="0.300" stop-color="#f7c900"/><stop offset="0.333" stop-color="#f18206"/><stop offset="0.367" stop-color="#e43513"/><stop offset="0.400" stop-color="#e31c16"/><stop offset="0.433" stop-color="#e30e17"/><stop offset="0.467" stop-color="#e20a17"/><stop offset="0.500" stop-color="#e20a17"/><stop offset="0.533" stop-color="#e20a17"/><stop offset="0.567" stop-color="#e30e17"/><stop offset="0.600" stop-color="#e31c16"/><stop offset="0.633" stop-color="#e43513"/><stop offset="0.667" stop-color="#f18206"/><stop offset="0.700" stop-color="#f7c900"/><stop offset="0.733" stop-color="#ebdf00"/><stop offset="0.767" stop-color="#c8d725"/><stop offset="0.800" stop-color="#9ccb85"/><stop offset="0.833" stop-color="#6fc3cd"/><stop offset="0.867" stop-color="#55afdd"/><stop offset="0.900" stop-color="#4a84c4"/><stop offset="0.933" stop-color="#3e5ca8"/><stop offset="0.967" stop-color="#3b4698"/><stop offset="1.000" stop-color="#3a4094"/></linearGradient><linearGradient id="b27"><stop offset="0.000" stop-color="#3a4094"/><stop offset="0.033" stop-color="#3b4698"/><stop offset="0.067" stop-color="#3e5ca8"/><stop offset="0.100" stop-color="#4a84c4"/><stop offset="0.133" stop-color="#55afdd"/><stop offset="0.167" stop-color="#6fc3cd"/><stop offset="0.200" stop-color="#9ccb85"/><stop offset="0.233" stop-color="#c8d725"/><stop offset="0.267" stop-color="#ebdf00"/><stop offset="0.300" stop-color="#f7c900"/><stop offset="0.333" stop-color="#f18106"/><stop offset="0.367" stop-color="#e43513"/><stop offset="0.400" stop-color="#e31c16"/><stop offset="0.433" stop-color="#e30e17"/><stop offset="0.467" stop-color="#e20a17"/><stop offset="0.500" stop-color="#e20a17"/><stop offset="0.533" stop-color="#e20a17"/><stop offset="0.567" stop-color="#e30e17"/><stop offset="0.600" stop-color="#e31c16"/><stop offset="0.633" stop-color="#e43513"/><stop offset="0.667" stop-color="#f18106"/><stop offset="0.700" stop-color="#f7c900"/><stop offset="0.733" stop-color="#ebdf00"/><stop offset="0.767" stop-color="#c8d725"/><stop offset="0.800" stop-color="#9ccb85"/><stop offset="0.833" stop-color="#6fc3cd"/><stop offset="0.867" stop-color="#55afdd"/><stop offset="0.900" stop-color="#4a84c4"/><stop offset="0.933" stop-color="#3e5ca8"/><stop offset="0.967" stop-color="#3b4698"/><stop offset="1.000" stop-color="#3a4094"/></linearGradient><linearGradient id="b28"><stop offset="0.000" stop-color="#3a4094"/><stop offset="0.033" stop-color="#3b4698"/><stop offset="0.067" stop-color="#3e5da9"/><stop offset="0.100" stop-color="#4b86c6"/><stop offset="0.133" stop-color="#56b1dd"/><stop offset="0.167" stop-color="#72c4c9"/><stop offset="0.200" stop-color="#a0cb7d"/><stop offset="0.233" stop-color="#ccd81e"/><stop offset="0.267" stop-color="#eedf00"/><stop offset="0.300" stop-color="#f8c400"/><stop offset="0.333" stop-color="#ef7509"/><stop offset="0.367" stop-color="#e32f14"/><stop offset="0.400" stop-color="#e31a16"/><stop offset="0.433" stop-color="#e30c17"/><stop offset="0.467" stop-color="#e20a17"/><stop offset="0.500" stop-color="#e20a17"/><stop offset="0.533" stop-color="#e20a17"/><stop offset="0.567" stop-color="#e30c17"/><stop offset="0.600" stop-color="#e31a16"/><stop offset="0.633" stop-color="#e32f14"/><stop offset="0.667" stop-color="#ef7509"/><stop offset="0.700" stop-color="#f8c400"/><stop offset="0.733" stop-color="#eedf00"/><stop offset="0.767" stop-color="#ccd81e"/><stop offset="0.800" stop-color="#a0cb7d"/><stop offset="0.833" stop-color="#72c4c9"/><stop offset="0.867" stop-color="#56b1dd"/><stop offset="0.900" stop-color="#4b86c6"/><stop offset="0.933" stop-color="#3e5da9"/><stop offset="0.967" stop-color="#3b4698"/><stop offset="1.000" stop-color="#3a4094"/></linearGradient><linearGradient id="b29"><stop offset="0.000" stop-color="#3a4094"/><stop offset="0.033" stop-color="#3b4698"/><stop offset="0.067" stop-color="#3e5da9"/><stop offset="0.100" stop-color="#4b86c5"/><stop offset="0.133" stop-color="#56b1dd"/><stop offset="0.167" stop-color="#71c4ca"/><stop offset="0.200" stop-color="#a0cb7e"/><stop offset="0.233" stop-color="#cbd820"/><stop offset="0.267" stop-color="#ecdf00"/><stop offset="0.300" stop-color="#f8c600"/><stop offset="0.333" stop-color="#ef7808"/><stop offset="0.367" stop-color="#e43213"/><stop offset="0.400" stop-color="#e31c16"/><stop offset="0.433" stop-color="#e31116"/><stop offset="0.467" stop-color="#e30d17"/><stop offset="0.500" stop-color="#e30d17"/><stop offset="0.533" stop-color="#e30d17"/><stop offset="0.567" stop-color="#e31116"/><stop offset="0.600" stop-color="#e31c16"/><stop offset="0.633" stop-color="#e43213"/><stop offset="0.667" stop-color="#ef7808"/><stop offset="0.700" stop-color="#f8c600"/><stop offset="0.733" stop-color="#ecdf00"/><stop offset="0.767" stop-color="#cbd820"/><stop offset="0.800" stop-color="#a0cb7e"/><stop offset="0.833" stop-color="#71c4ca"/><stop offset="0.867" stop-color="#56b1dd"/><stop offset="0.900" stop-color="#4b86c5"/><stop offset="0.933" stop-color="#3e5da9"/><stop offset="0.967" stop-color="#3b4698"/><stop offset="1.000" stop-color="#3a4094"/></linearGradient><linearGradient id="b30"><stop offset="0.000" stop-color="#3a4094"/><stop offset="0.033" stop-color="#3b4698"/><stop offset="0.067" stop-color="#3e5da9"/><stop offset="0.100" stop-color="#4b86c6"/><stop offset="0.133" stop-color="#56b1dd"/><stop offset="0.167" stop-color="#71c4ca"/><stop offset="0.200" stop-color="#a0cb7e"/><stop offset="0.233" stop-color="#cbd820"/><stop offset="0.267" stop-color="#ecdf00"/><stop offset="0.300" stop-color="#f8c600"/><stop offset="0.333" stop-color="#ef7708"/><stop offset="0.367" stop-color="#e43113"/><stop offset="0.400" stop-color="#e31c16"/><stop offset="0.433" stop-color="#e31117"/><stop offset="0.467" stop-color="#e30d17"/><stop offset="0.500" stop-color="#e30d17"/><stop offset="0.533" stop-color="#e30d17"/><stop offset="0.567" stop-color="#e31117"/><stop offset="0.600" stop-color="#e31c16"/><stop offset="0.633" stop-color="#e43113"/><stop offset="0.667" stop-color="#ef7708"/><stop offset="0.700" stop-color="#f8c600"/><stop offset="0.733" stop-color="#ecdf00"/><stop offset="0.767" stop-color="#cbd820"/><stop offset="0.800" stop-color="#a0cb7e"/><stop offset="0.833" stop-color="#71c4ca"/><stop offset="0.867" stop-color="#56b1dd"/><stop offset="0.900" stop-color="#4b86c6"/><stop offset="0.933" stop-color="#3e5da9"/><stop offset="0.967" stop-color="#3b4698"/><stop offset="1.000" stop-color="#3a4094"/></linearGradient><linearGradient id="b31"><stop offset="0.000" stop-color="#3a4094"/><stop offset="0.033" stop-color="#3b4698"/><stop offset="0.067" stop-color="#3e5eaa"/><stop offset="0.100" stop-color="#4c88c7"/><stop offset="0.133" stop-color="#56b2de"/><stop offset="0.167" stop-color="#74c5c6"/><stop offset="0.200" stop-color="#a3cc76"/><stop offset="0.233" stop-color="#cfd919"/><stop offset="0.267" stop-color="#efdf00"/><stop offset="0.300" stop-color="#f8c000"/><stop offset="0.333" stop-color="#ed6a0b"/><stop offset="0.367" stop-color="#e32c14"/><stop offset="0.400" stop-color="#e31a16"/><stop offset="0.433" stop-color="#e31017"/><stop offset="0.467" stop-color="#e30d17"/><stop offset="0.500" stop-color="#e30d17"/><stop offset="0.533" stop-color="#e30d17"/><stop offset="0.567" stop-color="#e31017"/><stop offset="0.600" stop-color="#e31a16"/><stop offset="0.633" stop-color="#e32c14"/><stop offset="0.667" stop-color="#ed6a0b"/><stop offset="0.700" stop-color="#f8c000"/><stop offset="0.733" stop-color="#efdf00"/><stop offset="0.767" stop-color="#cfd919"/><stop offset="0.800" stop-color="#a3cc76"/><stop offset="0.833" stop-color="#74c5c6"/><stop offset="0.867" stop-color="#56b2de"/><stop offset="0.900" stop-color="#4c88c7"/><stop offset="0.933" stop-color="#3e5eaa"/><stop offset="0.967" stop-color="#3b4698"/><stop offset="1.000" stop-color="#3a4094"/></linearGradient><linearGradient id="b32"><stop offset="0.000" stop-color="#3a4094"/><stop offset="0.033" stop-color="#3b4698"/><stop offset="0.067" stop-color="#3e5ea9"/><stop offset="0.100" stop-color="#4c88c7"/><stop offset="0.133" stop-color="#56b2de"/><stop offset="0.167" stop-color="#74c5c7"/><stop offset="0.200" stop-color="#a3cc77"/><stop offset="0.233" stop-color="#ced81b"/><stop offset="0.267" stop-color="#eedf00"/><stop offset="0.300" stop-color="#f8c200"/><stop offset="0.333" stop-color="#ee6d0a"/><stop offset="0.367" stop-color="#e32e14"/><stop offset="0.400" stop-color="#e31c16"/><stop offset="0.433" stop-color="#e31516"/><stop offset="0.467" stop-color="#e31216"/><stop offset="0.500" stop-color="#e31216"/><stop offset="0.533" stop-color="#e31216"/><stop offset="0.567" stop-color="#e31516"/><stop offset="0.600" stop-color="#e31c16"/><stop offset="0.633" stop-color="#e32e14"/><stop offset="0.667" stop-color="#ee6d0a"/><stop offset="0.700" stop-color="#f8c200"/><stop offset="0.733" stop-color="#eedf00"/><stop offset="0.767" stop-color="#ced81b"/><stop offset="0.800" stop-color="#a3cc77"/><stop offset="0.833" stop-color="#74c5c7"/><stop offset="0.867" stop-color="#56b2de"/><stop offset="0.900" stop-color="#4c88c7"/><stop offset="0.933" stop-color="#3e5ea9"/><stop offset="0.967" stop-color="#3b4698"/><stop offset="1.000" stop-color="#3a4094"/></linearGradient><linearGradient id="b33"><stop offset="0.000" stop-color="#3a4094"/><stop offset="0.033" stop-color="#3b4698"/><stop offset="0.067" stop-color="#3e5da9"/><stop offset="0.100" stop-color="#4b87c6"/><stop offset="0.133" stop-color="#56b2dd"/><stop offset="0.167" stop-color="#73c5c7"/><stop offset="0.200" stop-color="#a2cc78"/><stop offset="0.233" stop-color="#cdd81d"/><stop offset="0.267" stop-color="#ecdf00"/><stop offset="0.300" stop-color="#f8c500"/><stop offset="0.333" stop-color="#ee7009"/><stop offset="0.367" stop-color="#e43014"/><stop offset="0.400" stop-color="#e31e15"/><stop offset="0.433" stop-color="#e31916"/><stop offset="0.467" stop-color="#e31716"/><stop offset="0.500" stop-color="#e31716"/><stop offset="0.533" stop-color="#e31716"/><stop offset="0.567" stop-color="#e31916"/><stop offset="0.600" stop-color="#e31e15"/><stop offset="0.633" stop-color="#e43014"/><stop offset="0.667" stop-color="#ee7009"/><stop offset="0.700" stop-color="#f8c500"/><stop offset="0.733" stop-color="#ecdf00"/><stop offset="0.767" stop-color="#cdd81d"/><stop offset="0.800" stop-color="#a2cc78"/><stop offset="0.833" stop-color="#73c5c7"/><stop offset="0.867" stop-color="#56b2dd"/><stop offset="0.900" stop-color="#4b87c6"/><stop offset="0.933" stop-color="#3e5da9"/><stop offset="0.967" stop-color="#3b4698"/><stop offset="1.000" stop-color="#3a4094"/></linearGradient><linearGradient id="b34"><stop offset="0.000" stop-color="#3a4094"/><stop offset="0.033" stop-color="#3b4698"/><stop offset="0.067" stop-color="#3e5da9"/><stop offset="0.100" stop-color="#4b86c6"/><stop offset="0.133" stop-color="#56b1dd"/><stop offset="0.167" stop-color="#73c4c8"/><stop offset="0.200" stop-color="#a1cc7b"/><stop offset="0.233" stop-color="#cbd820"/><stop offset="0.267" stop-color="#ebdf00"/><stop offset="0.300" stop-color="#f7c700"/><stop offset="0.333" stop-color="#ef7509"/><stop offset="0.367" stop-color="#e43413"/><stop offset="0.400" stop-color="#e32115"/><stop offset="0.433" stop-color="#e31b16"/><stop offset="0.467" stop-color="#e31a16"/><stop offset="0.500" stop-color="#e31a16"/><stop offset="0.533" stop-color="#e31a16"/><stop offset="0.567" stop-color="#e31b16"/><stop offset="0.600" stop-color="#e32115"/><stop offset="0.633" stop-color="#e43413"/><stop offset="0.667" stop-color="#ef7509"/><stop offset="0.700" stop-color="#f7c700"/><stop offset="0.733" stop-color="#ebdf00"/><stop offset="0.767" stop-color="#cbd820"/><stop offset="0.800" stop-color="#a1cc7b"/><stop offset="0.833" stop-color="#73c4c8"/><stop offset="0.867" stop-color="#56b1dd"/><stop offset="0.900" stop-color="#4b86c6"/><stop offset="0.933" stop-color="#3e5da9"/><stop offset="0.967" stop-color="#3b4698"/><stop offset="1.000" stop-color="#3a4094"/></linearGradient><linearGradient id="b35"><stop offset="0.000" stop-color="#3a4094"/><stop offset="0.033" stop-color="#3b4698"/><stop offset="0.067" stop-color="#3e5da9"/><stop offset="0.100" stop-color="#4b86c5"/><stop offset="0.133" stop-color="#56b1dd"/><stop offset="0.167" stop-color="#72c4c9"/><stop offset="0.200" stop-color="#a1cb7c"/><stop offset="0.233" stop-color="#cad722"/><stop offset="0.267" stop-color="#e9de00"/><stop offset="0.300" stop-color="#f7ca00"/><stop offset="0.333" stop-color="#ef7808"/><stop offset="0.367" stop-color="#e43613"/><stop offset="0.400" stop-color="#e32315"/><stop offset="0.433" stop-color="#e31e15"/><stop offset="0.467" stop-color="#e31c16"/><stop offset="0.500" stop-color="#e31c16"/><stop offset="0.533" stop-color="#e31c16"/><stop offset="0.567" stop-color="#e31e15"/><stop offset="0.600" stop-color="#e32315"/><stop offset="0.633" stop-color="#e43613"/><stop offset="0.667" stop-color="#ef7808"/><stop offset="0.700" stop-color="#f7ca00"/><stop offset="0.733" stop-color="#e9de00"/><stop offset="0.767" stop-color="#cad722"/><stop offset="0.800" stop-color="#a1cb7c"/><stop offset="0.833" stop-color="#72c4c9"/><stop offset="0.867" stop-color="#56b1dd"/><stop offset="0.900" stop-color="#4b86c5"/><stop offset="0.933" stop-color="#3e5da9"/><stop offset="0.967" stop-color="#3b4698"/><stop offset="1.000" stop-color="#3a4094"/></linearGradient><linearGradient id="b36"><stop offset="0.000" stop-color="#3a4094"/><stop offset="0.033" stop-color="#3b4698"/><stop offset="0.067" stop-color="#3e5da9"/><stop offset="0.100" stop-color="#4b86c5"/><stop offset="0.133" stop-color="#56b0dd"/><stop offset="0.167" stop-color="#72c4c9"/><stop offset="0.200" stop-color="#a0cb7d"/><stop offset="0.233" stop-color="#c9d723"/><stop offset="0.267" stop-color="#e9de00"/><stop offset="0.300" stop-color="#f7ca00"/><stop offset="0.333" stop-color="#f07908"/><stop offset="0.367" stop-color="#e53713"/><stop offset="0.400" stop-color="#e32315"/><stop offset="0.433" stop-color="#e31e15"/><stop offset="0.467" stop-color="#e31c16"/><stop offset="0.500" stop-color="#e31c16"/><stop offset="0.533" stop-color="#e31c16"/><stop offset="0.567" stop-color="#e31e15"/><stop offset="0.600" stop-color="#e32315"/><stop offset="0.633" stop-color="#e53713"/><stop offset="0.667" stop-color="#f07908"/><stop offset="0.700" stop-color="#f7ca00"/><stop offset="0.733" stop-color="#e9de00"/><stop offset="0.767" stop-color="#c9d723"/><stop offset="0.800" stop-color="#a0cb7d"/><stop offset="0.833" stop-color="#72c4c9"/><stop offset="0.867" stop-color="#56b0dd"/><stop offset="0.900" stop-color="#4b86c5"/><stop offset="0.933" stop-color="#3e5da9"/><stop offset="0.967" stop-color="#3b4698"/><stop offset="1.000" stop-color="#3a4094"/></linearGradient><linearGradient id="b37"><stop offset="0.000" stop-color="#3a4094"/><stop offset="0.033" stop-color="#3b4698"/><stop offset="0.067" stop-color="#3e5ca8"/><stop offset="0.100" stop-color="#4a83c4"/><stop offset="0.133" stop-color="#55afdd"/><stop offset="0.167" stop-color="#6fc3cc"/><stop offset="0.200" stop-color="#9ccb85"/><stop offset="0.233" stop-color="#c6d629"/><stop offset="0.267" stop-color="#e6de00"/><stop offset="0.300" stop-color="#f6ce00"/><stop offset="0.333" stop-color="#f18506"/><stop offset="0.367" stop-color="#e53c12"/><stop offset="0.400" stop-color="#e32515"/><stop offset="0.433" stop-color="#e31e15"/><stop offset="0.467" stop-color="#e31c16"/><stop offset="0.500" stop-color="#e31c16"/><stop offset="0.533" stop-color="#e31c16"/><stop offset="0.567" stop-color="#e31e15"/><stop offset="0.600" stop-color="#e32515"/><stop offset="0.633" stop-color="#e53c12"/><stop offset="0.667" stop-color="#f18506"/><stop offset="0.700" stop-color="#f6ce00"/><stop offset="0.733" stop-color="#e6de00"/><stop offset="0.767" stop-color="#c6d629"/><stop offset="0.800" stop-color="#9ccb85"/><stop offset="0.833" stop-color="#6fc3cc"/><stop offset="0.867" stop-color="#55afdd"/><stop offset="0.900" stop-color="#4a83c4"/><stop offset="0.933" stop-color="#3e5ca8"/><stop offset="0.967" stop-color="#3b4698"/><stop offset="1.000" stop-color="#3a4094"/></linearGradient><linearGradient id="b38"><stop offset="0.000" stop-color="#3a4094"/><stop offset="0.033" stop-color="#3b4698"/><stop offset="0.067" stop-color="#3d5ca8"/><stop offset="0.100" stop-color="#4a83c3"/><stop offset="0.133" stop-color="#54aedc"/><stop offset="0.167" stop-color="#6ec3cd"/><stop offset="0.200" stop-color="#9bcb87"/><stop offset="0.233" stop-color="#c4d62c"/><stop offset="0.267" stop-color="#e4dd00"/><stop offset="0.300" stop-color="#f6d100"/><stop offset="0.333" stop-color="#f28905"/><stop offset="0.367" stop-color="#e63f12"/><stop offset="0.400" stop-color="#e32814"/><stop offset="0.433" stop-color="#e32115"/><stop offset="0.467" stop-color="#e31f15"/><stop offset="0.500" stop-color="#e31f15"/><stop offset="0.533" stop-color="#e31f15"/><stop offset="0.567" stop-color="#e32115"/><stop offset="0.600" stop-color="#e32814"/><stop offset="0.633" stop-color="#e63f12"/><stop offset="0.667" stop-color="#f28905"/><stop offset="0.700" stop-color="#f6d100"/><stop offset="0.733" stop-color="#e4dd00"/><stop offset="0.767" stop-color="#c4d62c"/><stop offset="0.800" stop-color="#9bcb87"/><stop offset="0.833" stop-color="#6ec3cd"/><stop offset="0.867" stop-color="#54aedc"/><stop offset="0.900" stop-color="#4a83c3"/><stop offset="0.933" stop-color="#3d5ca8"/><stop offset="0.967" stop-color="#3b4698"/><stop offset="1.000" stop-color="#3a4094"/></linearGradient><linearGradient id="b39"><stop offset="0.000" stop-color="#3a4094"/><stop offset="0.033" stop-color="#3b4698"/><stop offset="0.067" stop-color="#3d5ba8"/><stop offset="0.100" stop-color="#4a82c3"/><stop offset="0.133" stop-color="#54aedc"/><stop offset="0.167" stop-color="#6ec3ce"/><stop offset="0.200" stop-color="#9aca89"/><stop offset="0.233" stop-color="#c3d62f"/><stop offset="0.267" stop-color="#e2dd00"/><stop offset="0.300" stop-color="#f5d300"/><stop offset="0.333" stop-color="#f28e04"/><stop offset="0.367" stop-color="#e64212"/><stop offset="0.400" stop-color="#e32a14"/><stop offset="0.433" stop-color="#e32315"/><stop offset="0.467" stop-color="#e32115"/><stop offset="0.500" stop-color="#e32115"/><stop offset="0.533" stop-color="#e32115"/><stop offset="0.567" stop-color="#e32315"/><stop offset="0.600" stop-color="#e32a14"/><stop offset="0.633" stop-color="#e64212"/><stop offset="0.667" stop-color="#f28e04"/><stop offset="0.700" stop-color="#f5d300"/><stop offset="0.733" stop-color="#e2dd00"/><stop offset="0.767" stop-color="#c3d62f"/><stop offset="0.800" stop-color="#9aca89"/><stop offset="0.833" stop-color="#6ec3ce"/><stop offset="0.867" stop-color="#54aedc"/><stop offset="0.900" stop-color="#4a82c3"/><stop offset="0.933" stop-color="#3d5ba8"/><stop offset="0.967" stop-color="#3b4698"/><stop offset="1.000" stop-color="#3a4094"/></linearGradient><linearGradient id="b40"><stop offset="0.000" stop-color="#3a4094"/><stop offset="0.033" stop-color="#3b4598"/><stop offset="0.067" stop-color="#3d5aa7"/><stop offset="0.100" stop-color="#497fc1"/><stop offset="0.133" stop-color="#53abdc"/><stop offset="0.167" stop-color="#6ac2d2"/><stop offset="0.200" stop-color="#95ca91"/><stop offset="0.233" stop-color="#bed438"/><stop offset="0.267" stop-color="#dedc00"/><stop offset="0.300" stop-color="#f4da00"/><stop offset="0.333" stop-color="#f49d02"/><stop offset="0.367" stop-color="#e84c10"/><stop offset="0.400" stop-color="#e43014"/><stop offset="0.433" stop-color="#e32715"/><stop offset="0.467" stop-color="#e32415"/><stop offset="0.500" stop-color="#e32415"/><stop offset="0.533" stop-color="#e32415"/><stop offset="0.567" stop-color="#e32715"/><stop offset="0.600" stop-color="#e43014"/><stop offset="0.633" stop-color="#e84c10"/><stop offset="0.667" stop-color="#f49d02"/><stop offset="0.700" stop-color="#f4da00"/><stop offset="0.733" stop-color="#dedc00"/><stop offset="0.767" stop-color="#bed438"/><stop offset="0.800" stop-color="#95ca91"/><stop offset="0.833" stop-color="#6ac2d2"/><stop offset="0.867" stop-color="#53abdc"/><stop offset="0.900" stop-color="#497fc1"/><stop offset="0.933" stop-color="#3d5aa7"/><stop offset="0.967" stop-color="#3b4598"/><stop offset="1.000" stop-color="#3a4094"/></linearGradient><linearGradient id="b41"><stop offset="0.000" stop-color="#3a4094"/><stop offset="0.033" stop-color="#3b4598"/><stop offset="0.067" stop-color="#3d5aa7"/><stop offset="0.100" stop-color="#497fc0"/><stop offset="0.133" stop-color="#53abdc"/><stop offset="0.167" stop-color="#6ac2d2"/><stop offset="0.200" stop-color="#95ca92"/><stop offset="0.233" stop-color="#bed438"/><stop offset="0.267" stop-color="#dedc00"/><stop offset="0.300" stop-color="#f4da00"/><stop offset="0.333" stop-color="#f49e02"/><stop offset="0.367" stop-color="#e84d10"/><stop offset="0.400" stop-color="#e43014"/><stop offset="0.433" stop-color="#e32715"/><stop offset="0.467" stop-color="#e32415"/><stop offset="0.500" stop-color="#e32415"/><stop offset="0.533" stop-color="#e32415"/><stop offset="0.567" stop-color="#e32715"/><stop offset="0.600" stop-color="#e43014"/><stop offset="0.633" stop-color="#e84d10"/><stop offset="0.667" stop-color="#f49e02"/><stop offset="0.700" stop-color="#f4da00"/><stop offset="0.733" stop-color="#dedc00"/><stop offset="0.767" stop-color="#bed438"/><stop offset="0.800" stop-color="#95ca92"/><stop offset="0.833" stop-color="#6ac2d2"/><stop offset="0.867" stop-color="#53abdc"/><stop offset="0.900" stop-color="#497fc0"/><stop offset="0.933" stop-color="#3d5aa7"/><stop offset="0.967" stop-color="#3b4598"/><stop offset="1.000" stop-color="#3a4094"/></linearGradient><linearGradient id="b42"><stop offset="0.000" stop-color="#3a4094"/><stop offset="0.033" stop-color="#3b4598"/><stop offset="0.067" stop-color="#3d5aa7"/><stop offset="0.100" stop-color="#497ec0"/><stop offset="0.133" stop-color="#53abdc"/><stop offset="0.167" stop-color="#69c2d3"/><stop offset="0.200" stop-color="#94ca93"/><stop offset="0.233" stop-color="#bdd43b"/><stop offset="0.267" stop-color="#dcdc00"/><stop offset="0.300" stop-color="#f4dd00"/><stop offset="0.333" stop-color="#f5a102"/><stop offset="0.367" stop-color="#e9510f"/><stop offset="0.400" stop-color="#e43313"/><stop offset="0.433" stop-color="#e32914"/><stop offset="0.467" stop-color="#e32615"/><stop offset="0.500" stop-color="#e32615"/><stop offset="0.533" stop-color="#e32615"/><stop offset="0.567" stop-color="#e32914"/><stop offset="0.600" stop-color="#e43313"/><stop offset="0.633" stop-color="#e9510f"/><stop offset="0.667" stop-color="#f5a102"/><stop offset="0.700" stop-color="#f4dd00"/><stop offset="0.733" stop-color="#dcdc00"/><stop offset="0.767" stop-color="#bdd43b"/><stop offset="0.800" stop-color="#94ca93"/><stop offset="0.833" stop-color="#69c2d3"/><stop offset="0.867" stop-color="#53abdc"/><stop offset="0.900" stop-color="#497ec0"/><stop offset="0.933" stop-color="#3d5aa7"/><stop offset="0.967" stop-color="#3b4598"/><stop offset="1.000" stop-color="#3a4094"/></linearGradient><linearGradient id="b43"><stop offset="0.000" stop-color="#3a4094"/><stop offset="0.033" stop-color="#3b4597"/><stop offset="0.067" stop-color="#3d59a6"/><stop offset="0.100" stop-color="#487bbe"/><stop offset="0.133" stop-color="#52a8db"/><stop offset="0.167" stop-color="#66c1d6"/><stop offset="0.200" stop-color="#8fc99c"/><stop offset="0.233" stop-color="#b8d345"/><stop offset="0.267" stop-color="#d8db07"/><stop offset="0.300" stop-color="#f1e000"/><stop offset="0.333" stop-color="#f6af01"/><stop offset="0.367" stop-color="#eb5f0d"/><stop offset="0.400" stop-color="#e53813"/><stop offset="0.433" stop-color="#e32d14"/><stop offset="0.467" stop-color="#e32914"/><stop offset="0.500" stop-color="#e32814"/><stop offset="0.533" stop-color="#e32914"/><stop offset="0.567" stop-color="#e32d14"/><stop offset="0.600" stop-color="#e53813"/><stop offset="0.633" stop-color="#eb5f0d"/><stop offset="0.667" stop-color="#f6af01"/><stop offset="0.700" stop-color="#f1e000"/><stop offset="0.733" stop-color="#d8db07"/><stop offset="0.767" stop-color="#b8d345"/><stop offset="0.800" stop-color="#8fc99c"/><stop offset="0.833" stop-color="#66c1d6"/><stop offset="0.867" stop-color="#52a8db"/><stop offset="0.900" stop-color="#487bbe"/><stop offset="0.933" stop-color="#3d59a6"/><stop offset="0.967" stop-color="#3b4597"/><stop offset="1.000" stop-color="#3a4094"/></linearGradient><linearGradient id="b44"><stop offset="0.000" stop-color="#3a4094"/><stop offset="0.033" stop-color="#3b4597"/><stop offset="0.067" stop-color="#3d59a6"/><stop offset="0.100" stop-color="#487bbe"/><stop offset="0.133" stop-color="#52a8db"/><stop offset="0.167" stop-color="#66c1d6"/><stop offset="0.200" stop-color="#8fc99c"/><stop offset="0.233" stop-color="#b8d246"/><stop offset="0.267" stop-color="#d8db07"/><stop offset="0.300" stop-color="#f0e000"/><stop offset="0.333" stop-color="#f6b001"/><stop offset="0.367" stop-color="#eb5f0d"/><stop offset="0.400" stop-color="#e53813"/><stop offset="0.433" stop-color="#e32d14"/><stop offset="0.467" stop-color="#e32914"/><stop offset="0.500" stop-color="#e32814"/><stop offset="0.533" stop-color="#e32914"/><stop offset="0.567" stop-color="#e32d14"/><stop offset="0.600" stop-color="#e53813"/><stop offset="0.633" stop-color="#eb5f0d"/><stop offset="0.667" stop-color="#f6b001"/><stop offset="0.700" stop-color="#f0e000"/><stop offset="0.733" stop-color="#d8db07"/><stop offset="0.767" stop-color="#b8d246"/><stop offset="0.800" stop-color="#8fc99c"/><stop offset="0.833" stop-color="#66c1d6"/><stop offset="0.867" stop-color="#52a8db"/><stop offset="0.900" stop-color="#487bbe"/><stop offset="0.933" stop-color="#3d59a6"/><stop offset="0.967" stop-color="#3b4597"/><stop offset="1.000" stop-color="#3a4094"/></linearGradient><linearGradient id="b45"><stop offset="0.000" stop-color="#3a4094"/><stop offset="0.033" stop-color="#3b4597"/><stop offset="0.067" stop-color="#3c59a6"/><stop offset="0.100" stop-color="#477abd"/><stop offset="0.133" stop-color="#52a7da"/><stop offset="0.167" stop-color="#65c1d7"/><stop offset="0.200" stop-color="#8ec99e"/><stop offset="0.233" stop-color="#b7d248"/><stop offset="0.267" stop-color="#d7db0a"/><stop offset="0.300" stop-color="#efdf00"/><stop offset="0.333" stop-color="#f6b301"/><stop offset="0.367" stop-color="#ec640c"/><stop offset="0.400" stop-color="#e53b12"/><stop offset="0.433" stop-color="#e43014"/><stop offset="0.467" stop-color="#e32b14"/><stop offset="0.500" stop-color="#e32b14"/><stop offset="0.533" stop-color="#e32b14"/><stop offset="0.567" stop-color="#e43014"/><stop offset="0.600" stop-color="#e53b12"/><stop offset="0.633" stop-color="#ec640c"/><stop offset="0.667" stop-color="#f6b301"/><stop offset="0.700" stop-color="#efdf00"/><stop offset="0.733" stop-color="#d7db0a"/><stop offset="0.767" stop-color="#b7d248"/><stop offset="0.800" stop-color="#8ec99e"/><stop offset="0.833" stop-color="#65c1d7"/><stop offset="0.867" stop-color="#52a7da"/><stop offset="0.900" stop-color="#477abd"/><stop offset="0.933" stop-color="#3c59a6"/><stop offset="0.967" stop-color="#3b4597"/><stop offset="1.000" stop-color="#3a4094"/></linearGradient><linearGradient id="b46"><stop offset="0.000" stop-color="#3a4094"/><stop offset="0.033" stop-color="#3b4597"/><stop offset="0.067" stop-color="#3c58a6"/><stop offset="0.100" stop-color="#477abd"/><stop offset="0.133" stop-color="#52a6da"/><stop offset="0.167" stop-color="#65c0d8"/><stop offset="0.200" stop-color="#8dc99f"/><stop offset="0.233" stop-color="#b6d24b"/><stop offset="0.267" stop-color="#d5da0d"/><stop offset="0.300" stop-color="#eddf00"/><stop offset="0.333" stop-color="#f7b701"/><stop offset="0.367" stop-color="#ed680b"/><stop offset="0.400" stop-color="#e63e12"/><stop offset="0.433" stop-color="#e43213"/><stop offset="0.467" stop-color="#e32e14"/><stop offset="0.500" stop-color="#e32d14"/><stop offset="0.533" stop-color="#e32e14"/><stop offset="0.567" stop-color="#e43213"/><stop offset="0.600" stop-color="#e63e12"/><stop offset="0.633" stop-color="#ed680b"/><stop offset="0.667" stop-color="#f7b701"/><stop offset="0.700" stop-color="#eddf00"/><stop offset="0.733" stop-color="#d5da0d"/><stop offset="0.767" stop-color="#b6d24b"/><stop offset="0.800" stop-color="#8dc99f"/><stop offset="0.833" stop-color="#65c0d8"/><stop offset="0.867" stop-color="#52a6da"/><stop offset="0.900" stop-color="#477abd"/><stop offset="0.933" stop-color="#3c58a6"/><stop offset="0.967" stop-color="#3b4597"/><stop offset="1.000" stop-color="#3a4094"/></linearGradient><linearGradient id="b47"><stop offset="0.000" stop-color="#3a4094"/><stop offset="0.033" stop-color="#3b4597"/><stop offset="0.067" stop-color="#3c58a5"/><stop offset="0.100" stop-color="#4778bc"/><stop offset="0.133" stop-color="#51a3d8"/><stop offset="0.167" stop-color="#62c0da"/><stop offset="0.200" stop-color="#8ac9a6"/><stop offset="0.233" stop-color="#b2d153"/><stop offset="0.267" stop-color="#d3da11"/><stop offset="0.300" stop-color="#e9de00"/><stop offset="0.333" stop-color="#f8c100"/><stop offset="0.367" stop-color="#ef7409"/><stop offset="0.400" stop-color="#e64012"/><stop offset="0.433" stop-color="#e43413"/><stop offset="0.467" stop-color="#e32f14"/><stop offset="0.500" stop-color="#e32d14"/><stop offset="0.533" stop-color="#e32f14"/><stop offset="0.567" stop-color="#e43413"/><stop offset="0.600" stop-color="#e64012"/><stop offset="0.633" stop-color="#ef7409"/><stop offset="0.667" stop-color="#f8c100"/><stop offset="0.700" stop-color="#e9de00"/><stop offset="0.733" stop-color="#d3da11"/><stop offset="0.767" stop-color="#b2d153"/><stop offset="0.800" stop-color="#8ac9a6"/><stop offset="0.833" stop-color="#62c0da"/><stop offset="0.867" stop-color="#51a3d8"/><stop offset="0.900" stop-color="#4778bc"/><stop offset="0.933" stop-color="#3c58a5"/><stop offset="0.967" stop-color="#3b4597"/><stop offset="1.000" stop-color="#3a4094"/></linearGradient><linearGradient id="b48"><stop offset="0.000" stop-color="#3a4094"/><stop offset="0.033" stop-color="#3b4597"/><stop offset="0.067" stop-color="#3c57a5"/><stop offset="0.100" stop-color="#4677bb"/><stop offset="0.133" stop-color="#51a3d7"/><stop offset="0.167" stop-color="#61c0db"/><stop offset="0.200" stop-color="#89c8a7"/><stop offset="0.233" stop-color="#b1d155"/><stop offset="0.267" stop-color="#d2d913"/><stop offset="0.300" stop-color="#e8de00"/><stop offset="0.333" stop-color="#f8c400"/><stop offset="0.367" stop-color="#f07808"/><stop offset="0.400" stop-color="#e64312"/><stop offset="0.433" stop-color="#e43613"/><stop offset="0.467" stop-color="#e43113"/><stop offset="0.500" stop-color="#e43014"/><stop offset="0.533" stop-color="#e43113"/><stop offset="0.567" stop-color="#e43613"/><stop offset="0.600" stop-color="#e64312"/><stop offset="0.633" stop-color="#f07808"/><stop offset="0.667" stop-color="#f8c400"/><stop offset="0.700" stop-color="#e8de00"/><stop offset="0.733" stop-color="#d2d913"/><stop offset="0.767" stop-color="#b1d155"/><stop offset="0.800" stop-color="#89c8a7"/><stop offset="0.833" stop-color="#61c0db"/><stop offset="0.867" stop-color="#51a3d7"/><stop offset="0.900" stop-color="#4677bb"/><stop offset="0.933" stop-color="#3c57a5"/><stop offset="0.967" stop-color="#3b4597"/><stop offset="1.000" stop-color="#3a4094"/></linearGradient><linearGradient id="b49"><stop offset="0.000" stop-color="#3a4094"/><stop offset="0.033" stop-color="#3b4597"/><stop offset="0.067" stop-color="#3c57a5"/><stop offset="0.100" stop-color="#4677bb"/><stop offset="0.133" stop-color="#51a2d7"/><stop offset="0.167" stop-color="#61bfdc"/><stop offset="0.200" stop-color="#88c8a9"/><stop offset="0.233" stop-color="#b0d057"/><stop offset="0.267" stop-color="#d0d916"/><stop offset="0.300" stop-color="#e6de00"/><stop offset="0.333" stop-color="#f8c600"/><stop offset="0.367" stop-color="#f07c07"/><stop offset="0.400" stop-color="#e74611"/><stop offset="0.433" stop-color="#e53913"/><stop offset="0.467" stop-color="#e43413"/><stop offset="0.500" stop-color="#e43313"/><stop offset="0.533" stop-color="#e43413"/><stop offset="0.567" stop-color="#e53913"/><stop offset="0.600" stop-color="#e74611"/><stop offset="0.633" stop-color="#f07c07"/><stop offset="0.667" stop-color="#f8c600"/><stop offset="0.700" stop-color="#e6de00"/><stop offset="0.733" stop-color="#d0d916"/><stop offset="0.767" stop-color="#b0d057"/><stop offset="0.800" stop-color="#88c8a9"/><stop offset="0.833" stop-color="#61bfdc"/><stop offset="0.867" stop-color="#51a2d7"/><stop offset="0.900" stop-color="#4677bb"/><stop offset="0.933" stop-color="#3c57a5"/><stop offset="0.967" stop-color="#3b4597"/><stop offset="1.000" stop-color="#3a4094"/></linearGradient><linearGradient id="b50"><stop offset="0.000" stop-color="#3a4094"/><stop offset="0.033" stop-color="#3b4597"/><stop offset="0.067" stop-color="#3c57a5"/><stop offset="0.100" stop-color="#4676ba"/><stop offset="0.133" stop-color="#51a1d6"/><stop offset="0.167" stop-color="#60bfdc"/><stop offset="0.200" stop-color="#87c8aa"/><stop offset="0.233" stop-color="#afd05a"/><stop offset="0.267" stop-color="#cfd919"/><stop offset="0.300" stop-color="#e4dd00"/><stop offset="0.333" stop-color="#f7c900"/><stop offset="0.367" stop-color="#f18007"/><stop offset="0.400" stop-color="#e74911"/><stop offset="0.433" stop-color="#e53c12"/><stop offset="0.467" stop-color="#e53713"/><stop offset="0.500" stop-color="#e43613"/><stop offset="0.533" stop-color="#e53713"/><stop offset="0.567" stop-color="#e53c12"/><stop offset="0.600" stop-color="#e74911"/><stop offset="0.633" stop-color="#f18007"/><stop offset="0.667" stop-color="#f7c900"/><stop offset="0.700" stop-color="#e4dd00"/><stop offset="0.733" stop-color="#cfd919"/><stop offset="0.767" stop-color="#afd05a"/><stop offset="0.800" stop-color="#87c8aa"/><stop offset="0.833" stop-color="#60bfdc"/><stop offset="0.867" stop-color="#51a1d6"/><stop offset="0.900" stop-color="#4676ba"/><stop offset="0.933" stop-color="#3c57a5"/><stop offset="0.967" stop-color="#3b4597"/><stop offset="1.000" stop-color="#3a4094"/></linearGradient><linearGradient id="b51"><stop offset="0.000" stop-color="#3a4094"/><stop offset="0.033" stop-color="#3b4597"/><stop offset="0.067" stop-color="#3c56a4"/><stop offset="0.100" stop-color="#4573b8"/><stop offset="0.133" stop-color="#509ed4"/><stop offset="0.167" stop-color="#5dbee0"/><stop offset="0.200" stop-color="#83c8b2"/><stop offset="0.233" stop-color="#abcf64"/><stop offset="0.267" stop-color="#cad722"/><stop offset="0.300" stop-color="#dfdd00"/><stop offset="0.333" stop-color="#f5d300"/><stop offset="0.367" stop-color="#f38f04"/><stop offset="0.400" stop-color="#ea550e"/><stop offset="0.433" stop-color="#e64012"/><stop offset="0.467" stop-color="#e53b12"/><stop offset="0.500" stop-color="#e53913"/><stop offset="0.533" stop-color="#e53b12"/><stop offset="0.567" stop-color="#e64012"/><stop offset="0.600" stop-color="#ea550e"/><stop offset="0.633" stop-color="#f38f04"/><stop offset="0.667" stop-color="#f5d300"/><stop offset="0.700" stop-color="#dfdd00"/><stop offset="0.733" stop-color="#cad722"/><stop offset="0.767" stop-color="#abcf64"/><stop offset="0.800" stop-color="#83c8b2"/><stop offset="0.833" stop-color="#5dbee0"/><stop offset="0.867" stop-color="#509ed4"/><stop offset="0.900" stop-color="#4573b8"/><stop offset="0.933" stop-color="#3c56a4"/><stop offset="0.967" stop-color="#3b4597"/><stop offset="1.000" stop-color="#3a4094"/></linearGradient><linearGradient id="b52"><stop offset="0.000" stop-color="#3a4094"/><stop offset="0.033" stop-color="#3b4597"/><stop offset="0.067" stop-color="#3c56a4"/><stop offset="0.100" stop-color="#4573b8"/><stop offset="0.133" stop-color="#509dd4"/><stop offset="0.167" stop-color="#5dbee0"/><stop offset="0.200" stop-color="#82c8b3"/><stop offset="0.233" stop-color="#aace66"/><stop offset="0.267" stop-color="#c9d724"/><stop offset="0.300" stop-color="#dedc00"/><stop offset="0.333" stop-color="#f5d500"/><stop offset="0.367" stop-color="#f39303"/><stop offset="0.400" stop-color="#ea5a0e"/><stop offset="0.433" stop-color="#e64312"/><stop offset="0.467" stop-color="#e53d12"/><stop offset="0.500" stop-color="#e53c12"/><stop offset="0.533" stop-color="#e53d12"/><stop offset="0.567" stop-color="#e64312"/><stop offset="0.600" stop-color="#ea5a0e"/><stop offset="0.633" stop-color="#f39303"/><stop offset="0.667" stop-color="#f5d500"/><stop offset="0.700" stop-color="#dedc00"/><stop offset="0.733" stop-color="#c9d724"/><stop offset="0.767" stop-color="#aace66"/><stop offset="0.800" stop-color="#82c8b3"/><stop offset="0.833" stop-color="#5dbee0"/><stop offset="0.867" stop-color="#509dd4"/><stop offset="0.900" stop-color="#4573b8"/><stop offset="0.933" stop-color="#3c56a4"/><stop offset="0.967" stop-color="#3b4597"/><stop offset="1.000" stop-color="#3a4094"/></linearGradient><linearGradient id="b53"><stop offset="0.000" stop-color="#3a4094"/><stop offset="0.033" stop-color="#3b4597"/><stop offset="0.067" stop-color="#3c56a4"/><stop offset="0.100" stop-color="#4572b8"/><stop offset="0.133" stop-color="#509cd4"/><stop offset="0.167" stop-color="#5cbee1"/><stop offset="0.200" stop-color="#81c8b5"/><stop offset="0.233" stop-color="#a9ce68"/><stop offset="0.267" stop-color="#c7d727"/><stop offset="0.300" stop-color="#dcdc00"/><stop offset="0.333" stop-color="#f5d700"/><stop offset="0.367" stop-color="#f49703"/><stop offset="0.400" stop-color="#eb5e0d"/><stop offset="0.433" stop-color="#e74611"/><stop offset="0.467" stop-color="#e64012"/><stop offset="0.500" stop-color="#e63f12"/><stop offset="0.533" stop-color="#e64012"/><stop offset="0.567" stop-color="#e74611"/><stop offset="0.600" stop-color="#eb5e0d"/><stop offset="0.633" stop-color="#f49703"/><stop offset="0.667" stop-color="#f5d700"/><stop offset="0.700" stop-color="#dcdc00"/><stop offset="0.733" stop-color="#c7d727"/><stop offset="0.767" stop-color="#a9ce68"/><stop offset="0.800" stop-color="#81c8b5"/><stop offset="0.833" stop-color="#5cbee1"/><stop offset="0.867" stop-color="#509cd4"/><stop offset="0.900" stop-color="#4572b8"/><stop offset="0.933" stop-color="#3c56a4"/><stop offset="0.967" stop-color="#3b4597"/><stop offset="1.000" stop-color="#3a4094"/></linearGradient><linearGradient id="b54"><stop offset="0.000" stop-color="#3a4094"/><stop offset="0.033" stop-color="#3b4597"/><stop offset="0.067" stop-color="#3c56a4"/><stop offset="0.100" stop-color="#4572b7"/><stop offset="0.133" stop-color="#509bd3"/><stop offset="0.167" stop-color="#5cbee1"/><stop offset="0.200" stop-color="#80c8b6"/><stop offset="0.233" stop-color="#a8ce6a"/><stop offset="0.267" stop-color="#c6d629"/><stop offset="0.300" stop-color="#dadc03"/><stop offset="0.333" stop-color="#f4d900"/><stop offset="0.367" stop-color="#f49a02"/><stop offset="0.400" stop-color="#ec620c"/><stop offset="0.433" stop-color="#e74911"/><stop offset="0.467" stop-color="#e64312"/><stop offset="0.500" stop-color="#e64212"/><stop offset="0.533" stop-color="#e64312"/><stop offset="0.567" stop-color="#e74911"/><stop offset="0.600" stop-color="#ec620c"/><stop offset="0.633" stop-color="#f49a02"/><stop offset="0.667" stop-color="#f4d900"/><stop offset="0.700" stop-color="#dadc03"/><stop offset="0.733" stop-color="#c6d629"/><stop offset="0.767" stop-color="#a8ce6a"/><stop offset="0.800" stop-color="#80c8b6"/><stop offset="0.833" stop-color="#5cbee1"/><stop offset="0.867" stop-color="#509bd3"/><stop offset="0.900" stop-color="#4572b7"/><stop offset="0.933" stop-color="#3c56a4"/><stop offset="0.967" stop-color="#3b4597"/><stop offset="1.000" stop-color="#3a4094"/></linearGradient><linearGradient id="b55"><stop offset="0.000" stop-color="#3a4094"/><stop offset="0.033" stop-color="#3b4597"/><stop offset="0.067" stop-color="#3c55a4"/><stop offset="0.100" stop-color="#4471b7"/><stop offset="0.133" stop-color="#509ad3"/><stop offset="0.167" stop-color="#5cbde1"/><stop offset="0.200" stop-color="#80c7b7"/><stop offset="0.233" stop-color="#a8ce6c"/><stop offset="0.267" stop-color="#c5d62c"/><stop offset="0.300" stop-color="#d9db06"/><stop offset="0.333" stop-color="#f4dc00"/><stop offset="0.367" stop-color="#f49d02"/><stop offset="0.400" stop-color="#ed660b"/><stop offset="0.433" stop-color="#e84d10"/><stop offset="0.467" stop-color="#e74611"/><stop offset="0.500" stop-color="#e64411"/><stop offset="0.533" stop-color="#e74611"/><stop offset="0.567" stop-color="#e84d10"/><stop offset="0.600" stop-color="#ed660b"/><stop offset="0.633" stop-color="#f49d02"/><stop offset="0.667" stop-color="#f4dc00"/><stop offset="0.700" stop-color="#d9db06"/><stop offset="0.733" stop-color="#c5d62c"/><stop offset="0.767" stop-color="#a8ce6c"/><stop offset="0.800" stop-color="#80c7b7"/><stop offset="0.833" stop-color="#5cbde1"/><stop offset="0.867" stop-color="#509ad3"/><stop offset="0.900" stop-color="#4471b7"/><stop offset="0.933" stop-color="#3c55a4"/><stop offset="0.967" stop-color="#3b4597"/><stop offset="1.000" stop-color="#3a4094"/></linearGradient><linearGradient id="b56"><stop offset="0.000" stop-color="#3a4094"/><stop offset="0.033" stop-color="#3b4597"/><stop offset="0.067" stop-color="#3c55a3"/><stop offset="0.100" stop-color="#446fb5"/><stop offset="0.133" stop-color="#4f97d1"/><stop offset="0.167" stop-color="#5abae0"/><stop offset="0.200" stop-color="#7cc7be"/><stop offset="0.233" stop-color="#a4cc75"/><stop offset="0.267" stop-color="#c0d534"/><stop offset="0.300" stop-color="#d5da0d"/><stop offset="0.333" stop-color="#efdf00"/><stop offset="0.367" stop-color="#f6ab01"/><stop offset="0.400" stop-color="#ef7209"/><stop offset="0.433" stop-color="#e9550f"/><stop offset="0.467" stop-color="#e74a11"/><stop offset="0.500" stop-color="#e74711"/><stop offset="0.533" stop-color="#e74a11"/><stop offset="0.567" stop-color="#e9550f"/><stop offset="0.600" stop-color="#ef7209"/><stop offset="0.633" stop-color="#f6ab01"/><stop offset="0.667" stop-color="#efdf00"/><stop offset="0.700" stop-color="#d5da0d"/><stop offset="0.733" stop-color="#c0d534"/><stop offset="0.767" stop-color="#a4cc75"/><stop offset="0.800" stop-color="#7cc7be"/><stop offset="0.833" stop-color="#5abae0"/><stop offset="0.867" stop-color="#4f97d1"/><stop offset="0.900" stop-color="#446fb5"/><stop offset="0.933" stop-color="#3c55a3"/><stop offset="0.967" stop-color="#3b4597"/><stop offset="1.000" stop-color="#3a4094"/></linearGradient><linearGradient id="b57"><stop offset="0.000" stop-color="#3a4094"/><stop offset="0.033" stop-color="#3b4597"/><stop offset="0.067" stop-color="#3c55a3"/><stop offset="0.100" stop-color="#446fb5"/><stop offset="0.133" stop-color="#4f97d0"/><stop offset="0.167" stop-color="#5ab9e0"/><stop offset="0.200" stop-color="#7bc7bf"/><stop offset="0.233" stop-color="#a3cc77"/><stop offset="0.267" stop-color="#bfd437"/><stop offset="0.300" stop-color="#d4da0f"/><stop offset="0.333" stop-color="#eddf00"/><stop offset="0.367" stop-color="#f6ae01"/><stop offset="0.400" stop-color="#ef7608"/><stop offset="0.433" stop-color="#ea5a0e"/><stop offset="0.467" stop-color="#e84f10"/><stop offset="0.500" stop-color="#e84b10"/><stop offset="0.533" stop-color="#e84f10"/><stop offset="0.567" stop-color="#ea5a0e"/><stop offset="0.600" stop-color="#ef7608"/><stop offset="0.633" stop-color="#f6ae01"/><stop offset="0.667" stop-color="#eddf00"/><stop offset="0.700" stop-color="#d4da0f"/><stop offset="0.733" stop-color="#bfd437"/><stop offset="0.767" stop-color="#a3cc77"/><stop offset="0.800" stop-color="#7bc7bf"/><stop offset="0.833" stop-color="#5ab9e0"/><stop offset="0.867" stop-color="#4f97d0"/><stop offset="0.900" stop-color="#446fb5"/><stop offset="0.933" stop-color="#3c55a3"/><stop offset="0.967" stop-color="#3b4597"/><stop offset="1.000" stop-color="#3a4094"/></linearGradient><linearGradient id="b58"><stop offset="0.000" stop-color="#3a4094"/><stop offset="0.033" stop-color="#3b4597"/><stop offset="0.067" stop-color="#3c54a3"/><stop offset="0.100" stop-color="#446eb5"/><stop offset="0.133" stop-color="#4f96d0"/><stop offset="0.167" stop-color="#5ab9e0"/><stop offset="0.200" stop-color="#7ac7c0"/><stop offset="0.233" stop-color="#a2cc79"/><stop offset="0.267" stop-color="#bed439"/><stop offset="0.300" stop-color="#d2da12"/><stop offset="0.333" stop-color="#ebdf00"/><stop offset="0.367" stop-color="#f6b101"/><stop offset="0.400" stop-color="#f07908"/><stop offset="0.433" stop-color="#eb5e0d"/><stop offset="0.467" stop-color="#e9530f"/><stop offset="0.500" stop-color="#e85010"/><stop offset="0.533" stop-color="#e9530f"/><stop offset="0.567" stop-color="#eb5e0d"/><stop offset="0.600" stop-color="#f07908"/><stop offset="0.633" stop-color="#f6b101"/><stop offset="0.667" stop-color="#ebdf00"/><stop offset="0.700" stop-color="#d2da12"/><stop offset="0.733" stop-color="#bed439"/><stop offset="0.767" stop-color="#a2cc79"/><stop offset="0.800" stop-color="#7ac7c0"/><stop offset="0.833" stop-color="#5ab9e0"/><stop offset="0.867" stop-color="#4f96d0"/><stop offset="0.900" stop-color="#446eb5"/><stop offset="0.933" stop-color="#3c54a3"/><stop offset="0.967" stop-color="#3b4597"/><stop offset="1.000" stop-color="#3a4094"/></linearGradient><linearGradient id="b59"><stop offset="0.000" stop-color="#3a4094"/><stop offset="0.033" stop-color="#3b4597"/><stop offset="0.067" stop-color="#3c54a3"/><stop offset="0.100" stop-color="#436eb5"/><stop offset="0.133" stop-color="#4f95cf"/><stop offset="0.167" stop-color="#59b8df"/><stop offset="0.200" stop-color="#7ac6c1"/><stop offset="0.233" stop-color="#a1cc7b"/><stop offset="0.267" stop-color="#bcd43b"/><stop offset="0.300" stop-color="#d1d915"/><stop offset="0.333" stop-color="#eade00"/><stop offset="0.367" stop-color="#f7b501"/><stop offset="0.400" stop-color="#f07d07"/><stop offset="0.433" stop-color="#ec620c"/><stop offset="0.467" stop-color="#ea570e"/><stop offset="0.500" stop-color="#e9540f"/><stop offset="0.533" stop-color="#ea570e"/><stop offset="0.567" stop-color="#ec620c"/><stop offset="0.600" stop-color="#f07d07"/><stop offset="0.633" stop-color="#f7b501"/><stop offset="0.667" stop-color="#eade00"/><stop offset="0.700" stop-color="#d1d915"/><stop offset="0.733" stop-color="#bcd43b"/><stop offset="0.767" stop-color="#a1cc7b"/><stop offset="0.800" stop-color="#7ac6c0"/><stop offset="0.833" stop-color="#59b8df"/><stop offset="0.867" stop-color="#4f95cf"/><stop offset="0.900" stop-color="#436eb5"/><stop offset="0.933" stop-color="#3c54a3"/><stop offset="0.967" stop-color="#3b4597"/><stop offset="1.000" stop-color="#3a4094"/></linearGradient><linearGradient id="b60"><stop offset="0.000" stop-color="#3a4094"/><stop offset="0.033" stop-color="#3b4497"/><stop offset="0.067" stop-color="#3c54a3"/><stop offset="0.100" stop-color="#436eb5"/><stop offset="0.133" stop-color="#4f94cf"/><stop offset="0.167" stop-color="#59b8df"/><stop offset="0.200" stop-color="#79c6c1"/><stop offset="0.233" stop-color="#a0cb7d"/><stop offset="0.267" stop-color="#bbd43e"/><stop offset="0.300" stop-color="#d0d917"/><stop offset="0.333" stop-color="#e8de00"/><stop offset="0.367" stop-color="#f7b801"/><stop offset="0.400" stop-color="#f18106"/><stop offset="0.433" stop-color="#ed670b"/><stop offset="0.467" stop-color="#eb5c0d"/><stop offset="0.500" stop-color="#ea590e"/><stop offset="0.533" stop-color="#eb5c0d"/><stop offset="0.567" stop-color="#ed670b"/><stop offset="0.600" stop-color="#f18106"/><stop offset="0.633" stop-color="#f7b801"/><stop offset="0.667" stop-color="#e8de00"/><stop offset="0.700" stop-color="#d0d917"/><stop offset="0.733" stop-color="#bbd43e"/><stop offset="0.767" stop-color="#a0cb7d"/><stop offset="0.800" stop-color="#79c6c1"/><stop offset="0.833" stop-color="#59b8df"/><stop offset="0.867" stop-color="#4f94cf"/><stop offset="0.900" stop-color="#436eb5"/><stop offset="0.933" stop-color="#3c54a3"/><stop offset="0.967" stop-color="#3b4497"/><stop offset="1.000" stop-color="#3a4094"/></linearGradient><linearGradient id="b61"><stop offset="0.000" stop-color="#3a4094"/><stop offset="0.033" stop-color="#3b4497"/><stop offset="0.067" stop-color="#3c54a3"/><stop offset="0.100" stop-color="#436db4"/><stop offset="0.133" stop-color="#4f93cf"/><stop offset="0.167" stop-color="#59b7df"/><stop offset="0.200" stop-color="#78c6c2"/><stop offset="0.233" stop-color="#9fcb7f"/><stop offset="0.267" stop-color="#bad340"/><stop offset="0.300" stop-color="#ced81a"/><stop offset="0.333" stop-color="#e6de00"/><stop offset="0.367" stop-color="#f7bb00"/><stop offset="0.400" stop-color="#f18506"/><stop offset="0.433" stop-color="#ee6b0a"/><stop offset="0.467" stop-color="#ec600c"/><stop offset="0.500" stop-color="#eb5d0d"/><stop offset="0.533" stop-color="#ec600c"/><stop offset="0.567" stop-color="#ee6b0a"/><stop offset="0.600" stop-color="#f18506"/><stop offset="0.633" stop-color="#f7bb00"/><stop offset="0.667" stop-color="#e6de00"/><stop offset="0.700" stop-color="#ced81a"/><stop offset="0.733" stop-color="#bad340"/><stop offset="0.767" stop-color="#9fcb7f"/><stop offset="0.800" stop-color="#78c6c2"/><stop offset="0.833" stop-color="#59b7df"/><stop offset="0.867" stop-color="#4f93cf"/><stop offset="0.900" stop-color="#436db4"/><stop offset="0.933" stop-color="#3c54a3"/><stop offset="0.967" stop-color="#3b4497"/><stop offset="1.000" stop-color="#3a4094"/></linearGradient><linearGradient id="b62"><stop offset="0.000" stop-color="#3a4094"/><stop offset="0.033" stop-color="#3b4497"/><stop offset="0.067" stop-color="#3c54a3"/><stop offset="0.100" stop-color="#436db4"/><stop offset="0.133" stop-color="#4f93ce"/><stop offset="0.167" stop-color="#59b7df"/><stop offset="0.200" stop-color="#78c6c3"/><stop offset="0.233" stop-color="#9fcb81"/><stop offset="0.267" stop-color="#b9d342"/><stop offset="0.300" stop-color="#cdd81d"/><stop offset="0.333" stop-color="#e4dd00"/><stop offset="0.367" stop-color="#f7be00"/><stop offset="0.400" stop-color="#f28905"/><stop offset="0.433" stop-color="#ee6f0a"/><stop offset="0.467" stop-color="#ec650c"/><stop offset="0.500" stop-color="#ec620c"/><stop offset="0.533" stop-color="#ec650c"/><stop offset="0.567" stop-color="#ee6f0a"/><stop offset="0.600" stop-color="#f28905"/><stop offset="0.633" stop-color="#f7be00"/><stop offset="0.667" stop-color="#e4dd00"/><stop offset="0.700" stop-color="#cdd81d"/><stop offset="0.733" stop-color="#b9d342"/><stop offset="0.767" stop-color="#9fcb81"/><stop offset="0.800" stop-color="#78c6c3"/><stop offset="0.833" stop-color="#59b7df"/><stop offset="0.867" stop-color="#4f93ce"/><stop offset="0.900" stop-color="#436db4"/><stop offset="0.933" stop-color="#3c54a3"/><stop offset="0.967" stop-color="#3b4497"/><stop offset="1.000" stop-color="#3a4094"/></linearGradient><linearGradient id="b63"><stop offset="0.000" stop-color="#3a4094"/><stop offset="0.033" stop-color="#3b4497"/><stop offset="0.067" stop-color="#3c54a2"/><stop offset="0.100" stop-color="#436db4"/><stop offset="0.133" stop-color="#4e92ce"/><stop offset="0.167" stop-color="#58b6df"/><stop offset="0.200" stop-color="#77c6c3"/><stop offset="0.233" stop-color="#9ecb83"/><stop offset="0.267" stop-color="#b9d344"/><stop offset="0.300" stop-color="#cbd81f"/><stop offset="0.333" stop-color="#e3dd00"/><stop offset="0.367" stop-color="#f8c200"/><stop offset="0.400" stop-color="#f28c04"/><stop offset="0.433" stop-color="#ef7309"/><stop offset="0.467" stop-color="#ed690b"/><stop offset="0.500" stop-color="#ed660b"/><stop offset="0.533" stop-color="#ed690b"/><stop offset="0.567" stop-color="#ef7309"/><stop offset="0.600" stop-color="#f28c04"/><stop offset="0.633" stop-color="#f8c200"/><stop offset="0.667" stop-color="#e3dd00"/><stop offset="0.700" stop-color="#cbd81f"/><stop offset="0.733" stop-color="#b9d344"/><stop offset="0.767" stop-color="#9ecb83"/><stop offset="0.800" stop-color="#77c6c3"/><stop offset="0.833" stop-color="#58b6df"/><stop offset="0.867" stop-color="#4e92ce"/><stop offset="0.900" stop-color="#436db4"/><stop offset="0.933" stop-color="#3c54a2"/><stop offset="0.967" stop-color="#3b4497"/><stop offset="1.000" stop-color="#3a4094"/></linearGradient><linearGradient id="b64"><stop offset="0.000" stop-color="#3a4094"/><stop offset="0.033" stop-color="#3b4497"/><stop offset="0.067" stop-color="#3c54a2"/><stop offset="0.100" stop-color="#436cb4"/><stop offset="0.133" stop-color="#4e91cd"/><stop offset="0.167" stop-color="#58b6df"/><stop offset="0.200" stop-color="#76c5c4"/><stop offset="0.233" stop-color="#9dcb84"/><stop offset="0.267" stop-color="#b8d247"/><stop offset="0.300" stop-color="#cad722"/><stop offset="0.333" stop-color="#e1dd00"/><stop offset="0.367" stop-color="#f8c500"/><stop offset="0.400" stop-color="#f39004"/><stop offset="0.433" stop-color="#ef7708"/><stop offset="0.467" stop-color="#ee6e0a"/><stop offset="0.500" stop-color="#ee6b0a"/><stop offset="0.533" stop-color="#ee6e0a"/><stop offset="0.567" stop-color="#ef7708"/><stop offset="0.600" stop-color="#f39004"/><stop offset="0.633" stop-color="#f8c500"/><stop offset="0.667" stop-color="#e1dd00"/><stop offset="0.700" stop-color="#cad722"/><stop offset="0.733" stop-color="#b8d247"/><stop offset="0.767" stop-color="#9dcb84"/><stop offset="0.800" stop-color="#76c5c4"/><stop offset="0.833" stop-color="#58b6df"/><stop offset="0.867" stop-color="#4e91cd"/><stop offset="0.900" stop-color="#436cb4"/><stop offset="0.933" stop-color="#3c54a2"/><stop offset="0.967" stop-color="#3b4497"/><stop offset="1.000" stop-color="#3a4094"/></linearGradient><linearGradient id="b65"><stop offset="0.000" stop-color="#3a4094"/><stop offset="0.033" stop-color="#3b4497"/><stop offset="0.067" stop-color="#3c53a2"/><stop offset="0.100" stop-color="#436cb3"/><stop offset="0.133" stop-color="#4e90cd"/><stop offset="0.167" stop-color="#58b5de"/><stop offset="0.200" stop-color="#76c5c5"/><stop offset="0.233" stop-color="#9ccb86"/><stop offset="0.267" stop-color="#b7d249"/><stop offset="0.300" stop-color="#c8d725"/><stop offset="0.333" stop-color="#dfdd00"/><stop offset="0.367" stop-color="#f7c700"/><stop offset="0.400" stop-color="#f39403"/><stop offset="0.433" stop-color="#f07b08"/><stop offset="0.467" stop-color="#ef7209"/><stop offset="0.500" stop-color="#ee6f0a"/><stop offset="0.533" stop-color="#ef7209"/><stop offset="0.567" stop-color="#f07b08"/><stop offset="0.600" stop-color="#f39403"/><stop offset="0.633" stop-color="#f7c700"/><stop offset="0.667" stop-color="#dfdd00"/><stop offset="0.700" stop-color="#c8d725"/><stop offset="0.733" stop-color="#b7d249"/><stop offset="0.767" stop-color="#9ccb86"/><stop offset="0.800" stop-color="#76c5c5"/><stop offset="0.833" stop-color="#58b5de"/><stop offset="0.867" stop-color="#4e90cd"/><stop offset="0.900" stop-color="#436cb3"/><stop offset="0.933" stop-color="#3c53a2"/><stop offset="0.967" stop-color="#3b4497"/><stop offset="1.000" stop-color="#3a4094"/></linearGradient><linearGradient id="b66"><stop offset="0.000" stop-color="#3a4094"/><stop offset="0.033" stop-color="#3b4497"/><stop offset="0.067" stop-color="#3c53a2"/><stop offset="0.100" stop-color="#426bb2"/><stop offset="0.133" stop-color="#4e8dcb"/><stop offset="0.167" stop-color="#56b2de"/><stop offset="0.200" stop-color="#72c4c9"/><stop offset="0.233" stop-color="#97ca8e"/><stop offset="0.267" stop-color="#b3d151"/><stop offset="0.300" stop-color="#c5d62b"/><stop offset="0.333" stop-color="#d8db07"/><stop offset="0.367" stop-color="#f6d100"/><stop offset="0.400" stop-color="#f49e02"/><stop offset="0.433" stop-color="#f18206"/><stop offset="0.467" stop-color="#ef7708"/><stop offset="0.500" stop-color="#ef7309"/><stop offset="0.533" stop-color="#ef7708"/><stop offset="0.567" stop-color="#f18206"/><stop offset="0.600" stop-color="#f49e02"/><stop offset="0.633" stop-color="#f6d100"/><stop offset="0.667" stop-color="#d8db07"/><stop offset="0.700" stop-color="#c5d62b"/><stop offset="0.733" stop-color="#b3d151"/><stop offset="0.767" stop-color="#97ca8e"/><stop offset="0.800" stop-color="#72c4c9"/><stop offset="0.833" stop-color="#56b2de"/><stop offset="0.867" stop-color="#4e8dcb"/><stop offset="0.900" stop-color="#426bb2"/><stop offset="0.933" stop-color="#3c53a2"/><stop offset="0.967" stop-color="#3b4497"/><stop offset="1.000" stop-color="#3a4094"/></linearGradient><linearGradient id="b67"><stop offset="0.000" stop-color="#3a4094"/><stop offset="0.033" stop-color="#3b4497"/><stop offset="0.067" stop-color="#3c53a2"/><stop offset="0.100" stop-color="#426ab2"/><stop offset="0.133" stop-color="#4d8dca"/><stop offset="0.167" stop-color="#56b1dd"/><stop offset="0.200" stop-color="#72c4c9"/><stop offset="0.233" stop-color="#96ca90"/><stop offset="0.267" stop-color="#b2d153"/><stop offset="0.300" stop-color="#c4d62e"/><stop offset="0.333" stop-color="#d7db0a"/><stop offset="0.367" stop-color="#f5d300"/><stop offset="0.400" stop-color="#f5a202"/><stop offset="0.433" stop-color="#f18606"/><stop offset="0.467" stop-color="#f07b08"/><stop offset="0.500" stop-color="#ef7708"/><stop offset="0.533" stop-color="#f07b08"/><stop offset="0.567" stop-color="#f18606"/><stop offset="0.600" stop-color="#f5a202"/><stop offset="0.633" stop-color="#f5d300"/><stop offset="0.667" stop-color="#d7db0a"/><stop offset="0.700" stop-color="#c4d62e"/><stop offset="0.733" stop-color="#b2d153"/><stop offset="0.767" stop-color="#96ca90"/><stop offset="0.800" stop-color="#72c4c9"/><stop offset="0.833" stop-color="#56b1dd"/><stop offset="0.867" stop-color="#4d8dca"/><stop offset="0.900" stop-color="#426ab2"/><stop offset="0.933" stop-color="#3c53a2"/><stop offset="0.967" stop-color="#3b4497"/><stop offset="1.000" stop-color="#3a4094"/></linearGradient><linearGradient id="b68"><stop offset="0.000" stop-color="#3a4094"/><stop offset="0.033" stop-color="#3b4497"/><stop offset="0.067" stop-color="#3c52a1"/><stop offset="0.100" stop-color="#426ab2"/><stop offset="0.133" stop-color="#4d8bc9"/><stop offset="0.167" stop-color="#56b0dd"/><stop offset="0.200" stop-color="#70c4cb"/><stop offset="0.233" stop-color="#94ca93"/><stop offset="0.267" stop-color="#b0d058"/><stop offset="0.300" stop-color="#c1d533"/><stop offset="0.333" stop-color="#d4da0f"/><stop offset="0.367" stop-color="#f4d800"/><stop offset="0.400" stop-color="#f5a901"/><stop offset="0.433" stop-color="#f28e04"/><stop offset="0.467" stop-color="#f18306"/><stop offset="0.500" stop-color="#f07f07"/><stop offset="0.533" stop-color="#f18306"/><stop offset="0.567" stop-color="#f28e04"/><stop offset="0.600" stop-color="#f5a901"/><stop offset="0.633" stop-color="#f4d800"/><stop offset="0.667" stop-color="#d4da0f"/><stop offset="0.700" stop-color="#c1d533"/><stop offset="0.733" stop-color="#b0d058"/><stop offset="0.767" stop-color="#94ca93"/><stop offset="0.800" stop-color="#70c4cb"/><stop offset="0.833" stop-color="#56b0dd"/><stop offset="0.867" stop-color="#4d8bc9"/><stop offset="0.900" stop-color="#426ab2"/><stop offset="0.933" stop-color="#3c52a1"/><stop offset="0.967" stop-color="#3b4497"/><stop offset="1.000" stop-color="#3a4094"/></linearGradient><linearGradient id="b69"><stop offset="0.000" stop-color="#3a4094"/><stop offset="0.033" stop-color="#3b4497"/><stop offset="0.067" stop-color="#3c52a1"/><stop offset="0.100" stop-color="#4269b1"/><stop offset="0.133" stop-color="#4c8ac9"/><stop offset="0.167" stop-color="#55b0dd"/><stop offset="0.200" stop-color="#70c4cc"/><stop offset="0.233" stop-color="#93ca95"/><stop offset="0.267" stop-color="#afd05a"/><stop offset="0.300" stop-color="#bfd536"/><stop offset="0.333" stop-color="#d2d912"/><stop offset="0.367" stop-color="#f4db00"/><stop offset="0.400" stop-color="#f6ac01"/><stop offset="0.433" stop-color="#f39203"/><stop offset="0.467" stop-color="#f18705"/><stop offset="0.500" stop-color="#f18306"/><stop offset="0.533" stop-color="#f18705"/><stop offset="0.567" stop-color="#f39203"/><stop offset="0.600" stop-color="#f6ac01"/><stop offset="0.633" stop-color="#f4db00"/><stop offset="0.667" stop-color="#d2d912"/><stop offset="0.700" stop-color="#bfd536"/><stop offset="0.733" stop-color="#afd05a"/><stop offset="0.767" stop-color="#93ca95"/><stop offset="0.800" stop-color="#70c4cc"/><stop offset="0.833" stop-color="#55b0dd"/><stop offset="0.867" stop-color="#4c8ac9"/><stop offset="0.900" stop-color="#4269b1"/><stop offset="0.933" stop-color="#3c52a1"/><stop offset="0.967" stop-color="#3b4497"/><stop offset="1.000" stop-color="#3a4094"/></linearGradient><linearGradient id="b70"><stop offset="0.000" stop-color="#3a4094"/><stop offset="0.033" stop-color="#3b4497"/><stop offset="0.067" stop-color="#3c52a1"/><stop offset="0.100" stop-color="#4269b1"/><stop offset="0.133" stop-color="#4c8ac8"/><stop offset="0.167" stop-color="#55afdd"/><stop offset="0.200" stop-color="#6fc3cc"/><stop offset="0.233" stop-color="#92ca96"/><stop offset="0.267" stop-color="#aed05c"/><stop offset="0.300" stop-color="#bed438"/><stop offset="0.333" stop-color="#d1d915"/><stop offset="0.367" stop-color="#f4dd00"/><stop offset="0.400" stop-color="#f6b001"/><stop offset="0.433" stop-color="#f39603"/><stop offset="0.467" stop-color="#f28b05"/><stop offset="0.500" stop-color="#f18705"/><stop offset="0.533" stop-color="#f28b05"/><stop offset="0.567" stop-color="#f39603"/><stop offset="0.600" stop-color="#f6b001"/><stop offset="0.633" stop-color="#f4dd00"/><stop offset="0.667" stop-color="#d1d915"/><stop offset="0.700" stop-color="#bed438"/><stop offset="0.733" stop-color="#aed05c"/><stop offset="0.767" stop-color="#92ca96"/><stop offset="0.800" stop-color="#6fc3cc"/><stop offset="0.833" stop-color="#55afdd"/><stop offset="0.867" stop-color="#4c8ac8"/><stop offset="0.900" stop-color="#4269b1"/><stop offset="0.933" stop-color="#3c52a1"/><stop offset="0.967" stop-color="#3b4497"/><stop offset="1.000" stop-color="#3a4094"/></linearGradient><linearGradient id="b71"><stop offset="0.000" stop-color="#3a4094"/><stop offset="0.033" stop-color="#3b4497"/><stop offset="0.067" stop-color="#3c52a1"/><stop offset="0.100" stop-color="#4269b1"/><stop offset="0.133" stop-color="#4c89c8"/><stop offset="0.167" stop-color="#55afdd"/><stop offset="0.200" stop-color="#6ec3cd"/><stop offset="0.233" stop-color="#91c998"/><stop offset="0.267" stop-color="#adcf5e"/><stop offset="0.300" stop-color="#bdd43b"/><stop offset="0.333" stop-color="#cfd918"/><stop offset="0.367" stop-color="#f3df00"/><stop offset="0.400" stop-color="#f6b301"/><stop offset="0.433" stop-color="#f49a02"/><stop offset="0.467" stop-color="#f38f04"/><stop offset="0.500" stop-color="#f28b05"/><stop offset="0.533" stop-color="#f38f04"/><stop offset="0.567" stop-color="#f49a02"/><stop offset="0.600" stop-color="#f6b301"/><stop offset="0.633" stop-color="#f3df00"/><stop offset="0.667" stop-color="#cfd918"/><stop offset="0.700" stop-color="#bdd43b"/><stop offset="0.733" stop-color="#adcf5e"/><stop offset="0.767" stop-color="#91c998"/><stop offset="0.800" stop-color="#6ec3cd"/><stop offset="0.833" stop-color="#55afdd"/><stop offset="0.867" stop-color="#4c89c8"/><stop offset="0.900" stop-color="#4269b1"/><stop offset="0.933" stop-color="#3c52a1"/><stop offset="0.967" stop-color="#3b4497"/><stop offset="1.000" stop-color="#3a4094"/></linearGradient><linearGradient id="b72"><stop offset="0.000" stop-color="#3a4094"/><stop offset="0.033" stop-color="#3b4497"/><stop offset="0.067" stop-color="#3c52a1"/><stop offset="0.100" stop-color="#4268b1"/><stop offset="0.133" stop-color="#4c88c7"/><stop offset="0.167" stop-color="#55aedd"/><stop offset="0.200" stop-color="#6ec3ce"/><stop offset="0.233" stop-color="#90c99a"/><stop offset="0.267" stop-color="#accf61"/><stop offset="0.300" stop-color="#bcd43d"/><stop offset="0.333" stop-color="#ced81b"/><stop offset="0.367" stop-color="#f1e000"/><stop offset="0.400" stop-color="#f7b701"/><stop offset="0.433" stop-color="#f49d02"/><stop offset="0.467" stop-color="#f39303"/><stop offset="0.500" stop-color="#f38f04"/><stop offset="0.533" stop-color="#f39303"/><stop offset="0.567" stop-color="#f49d02"/><stop offset="0.600" stop-color="#f7b701"/><stop offset="0.633" stop-color="#f1e000"/><stop offset="0.667" stop-color="#ced81b"/><stop offset="0.700" stop-color="#bcd43d"/><stop offset="0.733" stop-color="#accf61"/><stop offset="0.767" stop-color="#90c99a"/><stop offset="0.800" stop-color="#6ec3ce"/><stop offset="0.833" stop-color="#55aedd"/><stop offset="0.867" stop-color="#4c88c7"/><stop offset="0.900" stop-color="#4268b1"/><stop offset="0.933" stop-color="#3c52a1"/><stop offset="0.967" stop-color="#3b4497"/><stop offset="1.000" stop-color="#3a4094"/></linearGradient><linearGradient id="b73"><stop offset="0.000" stop-color="#3a4094"/><stop offset="0.033" stop-color="#3b4497"/><stop offset="0.067" stop-color="#3c52a1"/><stop offset="0.100" stop-color="#4168b1"/><stop offset="0.133" stop-color="#4b87c6"/><stop offset="0.167" stop-color="#54aedc"/><stop offset="0.200" stop-color="#6dc3ce"/><stop offset="0.233" stop-color="#90c99b"/><stop offset="0.267" stop-color="#abcf63"/><stop offset="0.300" stop-color="#bbd340"/><stop offset="0.333" stop-color="#ccd81e"/><stop offset="0.367" stop-color="#efdf00"/><stop offset="0.400" stop-color="#f7ba00"/><stop offset="0.433" stop-color="#f5a102"/><stop offset="0.467" stop-color="#f49702"/><stop offset="0.500" stop-color="#f39303"/><stop offset="0.533" stop-color="#f49702"/><stop offset="0.567" stop-color="#f5a102"/><stop offset="0.600" stop-color="#f7ba00"/><stop offset="0.633" stop-color="#efdf00"/><stop offset="0.667" stop-color="#ccd81e"/><stop offset="0.700" stop-color="#bbd340"/><stop offset="0.733" stop-color="#abcf63"/><stop offset="0.767" stop-color="#90c99b"/><stop offset="0.800" stop-color="#6dc3ce"/><stop offset="0.833" stop-color="#54aedc"/><stop offset="0.867" stop-color="#4b87c6"/><stop offset="0.900" stop-color="#4168b1"/><stop offset="0.933" stop-color="#3c52a1"/><stop offset="0.967" stop-color="#3b4497"/><stop offset="1.000" stop-color="#3a4094"/></linearGradient><linearGradient id="b74"><stop offset="0.000" stop-color="#3a4094"/><stop offset="0.033" stop-color="#3b4497"/><stop offset="0.067" stop-color="#3c51a1"/><stop offset="0.100" stop-color="#4168b0"/><stop offset="0.133" stop-color="#4b86c6"/><stop offset="0.167" stop-color="#54addc"/><stop offset="0.200" stop-color="#6cc3cf"/><stop offset="0.233" stop-color="#8fc99d"/><stop offset="0.267" stop-color="#aace65"/><stop offset="0.300" stop-color="#b9d342"/><stop offset="0.333" stop-color="#cbd820"/><stop offset="0.367" stop-color="#eddf00"/><stop offset="0.400" stop-color="#f7be00"/><stop offset="0.433" stop-color="#f5a501"/><stop offset="0.467" stop-color="#f49b02"/><stop offset="0.500" stop-color="#f49702"/><stop offset="0.533" stop-color="#f49b02"/><stop offset="0.567" stop-color="#f5a501"/><stop offset="0.600" stop-color="#f7be00"/><stop offset="0.633" stop-color="#eddf00"/><stop offset="0.667" stop-color="#cbd820"/><stop offset="0.700" stop-color="#b9d342"/><stop offset="0.733" stop-color="#aace65"/><stop offset="0.767" stop-color="#8fc99d"/><stop offset="0.800" stop-color="#6cc3cf"/><stop offset="0.833" stop-color="#54addc"/><stop offset="0.867" stop-color="#4b86c6"/><stop offset="0.900" stop-color="#4168b0"/><stop offset="0.933" stop-color="#3c51a1"/><stop offset="0.967" stop-color="#3b4497"/><stop offset="1.000" stop-color="#3a4094"/></linearGradient><linearGradient id="b75"><stop offset="0.000" stop-color="#3a4094"/><stop offset="0.033" stop-color="#3b4497"/><stop offset="0.067" stop-color="#3c51a1"/><stop offset="0.100" stop-color="#4167b0"/><stop offset="0.133" stop-color="#4b86c5"/><stop offset="0.167" stop-color="#54addc"/><stop offset="0.200" stop-color="#6cc2d0"/><stop offset="0.233" stop-color="#8ec99f"/><stop offset="0.267" stop-color="#a9ce68"/><stop offset="0.300" stop-color="#b8d345"/><stop offset="0.333" stop-color="#c9d723"/><stop offset="0.367" stop-color="#ebdf00"/><stop offset="0.400" stop-color="#f8c100"/><stop offset="0.433" stop-color="#f5a901"/><stop offset="0.467" stop-color="#f49f02"/><stop offset="0.500" stop-color="#f49b02"/><stop offset="0.533" stop-color="#f49f02"/><stop offset="0.567" stop-color="#f5a901"/><stop offset="0.600" stop-color="#f8c100"/><stop offset="0.633" stop-color="#ebdf00"/><stop offset="0.667" stop-color="#c9d723"/><stop offset="0.700" stop-color="#b8d345"/><stop offset="0.733" stop-color="#a9ce68"/><stop offset="0.767" stop-color="#8ec99f"/><stop offset="0.800" stop-color="#6cc2d0"/><stop offset="0.833" stop-color="#54addc"/><stop offset="0.867" stop-color="#4b86c5"/><stop offset="0.900" stop-color="#4167b0"/><stop offset="0.933" stop-color="#3c51a1"/><stop offset="0.967" stop-color="#3b4497"/><stop offset="1.000" stop-color="#3a4094"/></linearGradient><linearGradient id="b76"><stop offset="0.000" stop-color="#3a4094"/><stop offset="0.033" stop-color="#3b4497"/><stop offset="0.067" stop-color="#3c51a1"/><stop offset="0.100" stop-color="#4167b0"/><stop offset="0.133" stop-color="#4b85c5"/><stop offset="0.167" stop-color="#53acdc"/><stop offset="0.200" stop-color="#6bc2d1"/><stop offset="0.233" stop-color="#8dc9a1"/><stop offset="0.267" stop-color="#a9ce6a"/><stop offset="0.300" stop-color="#b7d247"/><stop offset="0.333" stop-color="#c8d726"/><stop offset="0.367" stop-color="#e9de00"/><stop offset="0.400" stop-color="#f8c500"/><stop offset="0.433" stop-color="#f6ac01"/><stop offset="0.467" stop-color="#f5a302"/><stop offset="0.500" stop-color="#f49f02"/><stop offset="0.533" stop-color="#f5a302"/><stop offset="0.567" stop-color="#f6ac01"/><stop offset="0.600" stop-color="#f8c500"/><stop offset="0.633" stop-color="#e9de00"/><stop offset="0.667" stop-color="#c8d726"/><stop offset="0.700" stop-color="#b7d247"/><stop offset="0.733" stop-color="#a9ce6a"/><stop offset="0.767" stop-color="#8dc9a1"/><stop offset="0.800" stop-color="#6bc2d1"/><stop offset="0.833" stop-color="#53acdc"/><stop offset="0.867" stop-color="#4b85c5"/><stop offset="0.900" stop-color="#4167b0"/><stop offset="0.933" stop-color="#3c51a1"/><stop offset="0.967" stop-color="#3b4497"/><stop offset="1.000" stop-color="#3a4094"/></linearGradient><linearGradient id="b77"><stop offset="0.000" stop-color="#3a4094"/><stop offset="0.033" stop-color="#3b4497"/><stop offset="0.067" stop-color="#3c51a0"/><stop offset="0.100" stop-color="#4167b0"/><stop offset="0.133" stop-color="#4a84c4"/><stop offset="0.167" stop-color="#53acdc"/><stop offset="0.200" stop-color="#6ac2d1"/><stop offset="0.233" stop-color="#8cc9a2"/><stop offset="0.267" stop-color="#a8ce6c"/><stop offset="0.300" stop-color="#b6d24a"/><stop offset="0.333" stop-color="#c6d629"/><stop offset="0.367" stop-color="#e7de00"/><stop offset="0.400" stop-color="#f7c700"/><stop offset="0.433" stop-color="#f6b001"/><stop offset="0.467" stop-color="#f5a601"/><stop offset="0.500" stop-color="#f5a302"/><stop offset="0.533" stop-color="#f5a601"/><stop offset="0.567" stop-color="#f6b001"/><stop offset="0.600" stop-color="#f7c700"/><stop offset="0.633" stop-color="#e7de00"/><stop offset="0.667" stop-color="#c6d629"/><stop offset="0.700" stop-color="#b6d24a"/><stop offset="0.733" stop-color="#a8ce6c"/><stop offset="0.767" stop-color="#8cc9a2"/><stop offset="0.800" stop-color="#6ac2d1"/><stop offset="0.833" stop-color="#53acdc"/><stop offset="0.867" stop-color="#4a84c4"/><stop offset="0.900" stop-color="#4167b0"/><stop offset="0.933" stop-color="#3c51a0"/><stop offset="0.967" stop-color="#3b4497"/><stop offset="1.000" stop-color="#3a4094"/></linearGradient><linearGradient id="b78"><stop offset="0.000" stop-color="#3a4094"/><stop offset="0.033" stop-color="#3b4497"/><stop offset="0.067" stop-color="#3c51a0"/><stop offset="0.100" stop-color="#4166af"/><stop offset="0.133" stop-color="#4a83c4"/><stop offset="0.167" stop-color="#53abdc"/><stop offset="0.200" stop-color="#6ac2d2"/><stop offset="0.233" stop-color="#8bc9a4"/><stop offset="0.267" stop-color="#a7cd6e"/><stop offset="0.300" stop-color="#b5d24c"/><stop offset="0.333" stop-color="#c5d62c"/><stop offset="0.367" stop-color="#e5de00"/><stop offset="0.400" stop-color="#f7ca00"/><stop offset="0.433" stop-color="#f6b401"/><stop offset="0.467" stop-color="#f6aa01"/><stop offset="0.500" stop-color="#f5a701"/><stop offset="0.533" stop-color="#f6aa01"/><stop offset="0.567" stop-color="#f6b401"/><stop offset="0.600" stop-color="#f7ca00"/><stop offset="0.633" stop-color="#e5de00"/><stop offset="0.667" stop-color="#c5d62c"/><stop offset="0.700" stop-color="#b5d24c"/><stop offset="0.733" stop-color="#a7cd6e"/><stop offset="0.767" stop-color="#8bc9a4"/><stop offset="0.800" stop-color="#6ac2d2"/><stop offset="0.833" stop-color="#53abdc"/><stop offset="0.867" stop-color="#4a83c4"/><stop offset="0.900" stop-color="#4166af"/><stop offset="0.933" stop-color="#3c51a0"/><stop offset="0.967" stop-color="#3b4497"/><stop offset="1.000" stop-color="#3a4094"/></linearGradient><linearGradient id="b79"><stop offset="0.000" stop-color="#3a4094"/><stop offset="0.033" stop-color="#3b4497"/><stop offset="0.067" stop-color="#3c51a0"/><stop offset="0.100" stop-color="#4166af"/><stop offset="0.133" stop-color="#4a83c4"/><stop offset="0.167" stop-color="#53abdc"/><stop offset="0.200" stop-color="#6ac2d2"/><stop offset="0.233" stop-color="#8bc9a4"/><stop offset="0.267" stop-color="#a7cd6e"/><stop offset="0.300" stop-color="#b5d24c"/><stop offset="0.333" stop-color="#c5d62c"/><stop offset="0.367" stop-color="#e5de00"/><stop offset="0.400" stop-color="#f7ca00"/><stop offset="0.433" stop-color="#f6b401"/><stop offset="0.467" stop-color="#f6aa01"/><stop offset="0.500" stop-color="#f5a701"/><stop offset="0.533" stop-color="#f6aa01"/><stop offset="0.567" stop-color="#f6b401"/><stop offset="0.600" stop-color="#f7ca00"/><stop offset="0.633" stop-color="#e5de00"/><stop offset="0.667" stop-color="#c5d62c"/><stop offset="0.700" stop-color="#b5d24c"/><stop offset="0.733" stop-color="#a7cd6e"/><stop offset="0.767" stop-color="#8bc9a4"/><stop offset="0.800" stop-color="#6ac2d2"/><stop offset="0.833" stop-color="#53abdc"/><stop offset="0.867" stop-color="#4a83c4"/><stop offset="0.900" stop-color="#4166af"/><stop offset="0.933" stop-color="#3c51a0"/><stop offset="0.967" stop-color="#3b4497"/><stop offset="1.000" stop-color="#3a4094"/></linearGradient><linearGradient id="b80"><stop offset="0.000" stop-color="#3a4094"/><stop offset="0.033" stop-color="#3b4497"/><stop offset="0.067" stop-color="#3c51a0"/><stop offset="0.100" stop-color="#4166af"/><stop offset="0.133" stop-color="#4a82c3"/><stop offset="0.167" stop-color="#53aadb"/><stop offset="0.200" stop-color="#69c2d3"/><stop offset="0.233" stop-color="#8ac9a6"/><stop offset="0.267" stop-color="#a6cd71"/><stop offset="0.300" stop-color="#b4d14f"/><stop offset="0.333" stop-color="#c3d62f"/><stop offset="0.367" stop-color="#e3dd00"/><stop offset="0.400" stop-color="#f6cd00"/><stop offset="0.433" stop-color="#f7b701"/><stop offset="0.467" stop-color="#f6ae01"/><stop offset="0.500" stop-color="#f6aa01"/><stop offset="0.533" stop-color="#f6ae01"/><stop offset="0.567" stop-color="#f7b701"/><stop offset="0.600" stop-color="#f6cd00"/><stop offset="0.633" stop-color="#e3dd00"/><stop offset="0.667" stop-color="#c3d62f"/><stop offset="0.700" stop-color="#b4d14f"/><stop offset="0.733" stop-color="#a6cd71"/><stop offset="0.767" stop-color="#8ac9a6"/><stop offset="0.800" stop-color="#69c2d3"/><stop offset="0.833" stop-color="#53aadb"/><stop offset="0.867" stop-color="#4a82c3"/><stop offset="0.900" stop-color="#4166af"/><stop offset="0.933" stop-color="#3c51a0"/><stop offset="0.967" stop-color="#3b4497"/><stop offset="1.000" stop-color="#3a4094"/></linearGradient><linearGradient id="b81"><stop offset="0.000" stop-color="#3a4094"/><stop offset="0.033" stop-color="#3b4497"/><stop offset="0.067" stop-color="#3c51a0"/><stop offset="0.100" stop-color="#4166af"/><stop offset="0.133" stop-color="#4a82c2"/><stop offset="0.167" stop-color="#52aadb"/><stop offset="0.200" stop-color="#68c1d4"/><stop offset="0.233" stop-color="#89c8a7"/><stop offset="0.267" stop-color="#a5cd73"/><stop offset="0.300" stop-color="#b3d151"/><stop offset="0.333" stop-color="#c2d531"/><stop offset="0.367" stop-color="#e1dd00"/><stop offset="0.400" stop-color="#f6d000"/><stop offset="0.433" stop-color="#f7bb00"/><stop offset="0.467" stop-color="#f6b201"/><stop offset="0.500" stop-color="#f6ae01"/><stop offset="0.533" stop-color="#f6b201"/><stop offset="0.567" stop-color="#f7bb00"/><stop offset="0.600" stop-color="#f6d000"/><stop offset="0.633" stop-color="#e1dd00"/><stop offset="0.667" stop-color="#c2d531"/><stop offset="0.700" stop-color="#b3d151"/><stop offset="0.733" stop-color="#a5cd73"/><stop offset="0.767" stop-color="#89c8a7"/><stop offset="0.800" stop-color="#68c1d4"/><stop offset="0.833" stop-color="#52aadb"/><stop offset="0.867" stop-color="#4a82c2"/><stop offset="0.900" stop-color="#4166af"/><stop offset="0.933" stop-color="#3c51a0"/><stop offset="0.967" stop-color="#3b4497"/><stop offset="1.000" stop-color="#3a4094"/></linearGradient><linearGradient id="b82"><stop offset="0.000" stop-color="#3a4094"/><stop offset="0.033" stop-color="#3b4497"/><stop offset="0.067" stop-color="#3c50a0"/><stop offset="0.100" stop-color="#4165af"/><stop offset="0.133" stop-color="#4981c2"/><stop offset="0.167" stop-color="#52a9db"/><stop offset="0.200" stop-color="#68c1d4"/><stop offset="0.233" stop-color="#88c8a9"/><stop offset="0.267" stop-color="#a4cc75"/><stop offset="0.300" stop-color="#b2d154"/><stop offset="0.333" stop-color="#c0d534"/><stop offset="0.367" stop-color="#dfdd00"/><stop offset="0.400" stop-color="#f5d200"/><stop offset="0.433" stop-color="#f7bf00"/><stop offset="0.467" stop-color="#f7b501"/><stop offset="0.500" stop-color="#f6b201"/><stop offset="0.533" stop-color="#f7b501"/><stop offset="0.567" stop-color="#f7bf00"/><stop offset="0.600" stop-color="#f5d200"/><stop offset="0.633" stop-color="#dfdd00"/><stop offset="0.667" stop-color="#c0d534"/><stop offset="0.700" stop-color="#b2d154"/><stop offset="0.733" stop-color="#a4cc75"/><stop offset="0.767" stop-color="#88c8a9"/><stop offset="0.800" stop-color="#68c1d4"/><stop offset="0.833" stop-color="#52a9db"/><stop offset="0.867" stop-color="#4981c2"/><stop offset="0.900" stop-color="#4165af"/><stop offset="0.933" stop-color="#3c50a0"/><stop offset="0.967" stop-color="#3b4497"/><stop offset="1.000" stop-color="#3a4094"/></linearGradient><linearGradient id="b83"><stop offset="0.000" stop-color="#3a4094"/><stop offset="0.033" stop-color="#3b4698"/><stop offset="0.067" stop-color="#3d5ba8"/><stop offset="0.100" stop-color="#4a81c2"/><stop offset="0.133" stop-color="#54addc"/><stop offset="0.167" stop-color="#6bc2d1"/><stop offset="0.200" stop-color="#97ca8e"/><stop offset="0.233" stop-color="#c2d530"/><stop offset="0.267" stop-color="#e8de00"/><stop offset="0.300" stop-color="#f6cd00"/><stop offset="0.333" stop-color="#f39004"/><stop offset="0.367" stop-color="#e53c12"/><stop offset="0.400" stop-color="#e31d16"/><stop offset="0.433" stop-color="#e30d17"/><stop offset="0.467" stop-color="#e00b18"/><stop offset="0.500" stop-color="#e00b18"/><stop offset="0.533" stop-color="#e00b18"/><stop offset="0.567" stop-color="#e30d17"/><stop offset="0.600" stop-color="#e31d16"/><stop offset="0.633" stop-color="#e53c12"/><stop offset="0.667" stop-color="#f39004"/><stop offset="0.700" stop-color="#f6cd00"/><stop offset="0.733" stop-color="#e8de00"/><stop offset="0.767" stop-color="#c2d530"/><stop offset="0.800" stop-color="#97ca8e"/><stop offset="0.833" stop-color="#6bc2d1"/><stop offset="0.867" stop-color="#54addc"/><stop offset="0.900" stop-color="#4a81c2"/><stop offset="0.933" stop-color="#3d5ba8"/><stop offset="0.967" stop-color="#3b4698"/><stop offset="1.000" stop-color="#3a4094"/></linearGradient><linearGradient id="b84"><stop offset="0.000" stop-color="#3a4094"/><stop offset="0.033" stop-color="#3b4698"/><stop offset="0.067" stop-color="#3d5ca8"/><stop offset="0.100" stop-color="#4a83c4"/><stop offset="0.133" stop-color="#55afdd"/><stop offset="0.167" stop-color="#6ec3ce"/><stop offset="0.200" stop-color="#9bcb88"/><stop offset="0.233" stop-color="#c7d728"/><stop offset="0.267" stop-color="#ebdf00"/><stop offset="0.300" stop-color="#f7c900"/><stop offset="0.333" stop-color="#f18506"/><stop offset="0.367" stop-color="#e43513"/><stop offset="0.400" stop-color="#e31b16"/><stop offset="0.433" stop-color="#e30b17"/><stop offset="0.467" stop-color="#e00b18"/><stop offset="0.500" stop-color="#e00b18"/><stop offset="0.533" stop-color="#e00b18"/><stop offset="0.567" stop-color="#e30b17"/><stop offset="0.600" stop-color="#e31b16"/><stop offset="0.633" stop-color="#e43513"/><stop offset="0.667" stop-color="#f18506"/><stop offset="0.700" stop-color="#f7c900"/><stop offset="0.733" stop-color="#ebdf00"/><stop offset="0.767" stop-color="#c7d728"/><stop offset="0.800" stop-color="#9bcb88"/><stop offset="0.833" stop-color="#6ec3ce"/><stop offset="0.867" stop-color="#55afdd"/><stop offset="0.900" stop-color="#4a83c4"/><stop offset="0.933" stop-color="#3d5ca8"/><stop offset="0.967" stop-color="#3b4698"/><stop offset="1.000" stop-color="#3a4094"/></linearGradient><clipPath id="clipB"><rect x="596.25" y="15.15" width="445.30" height="426.40"/></clipPath><linearGradient id="gD"><stop offset="0.0000" stop-color="#3d4a9c"/><stop offset="0.0244" stop-color="#3e4c9e"/><stop offset="0.0488" stop-color="#4056a5"/><stop offset="0.0732" stop-color="#4670b7"/><stop offset="0.0976" stop-color="#4e8dcb"/><stop offset="0.1220" stop-color="#4ea8de"/><stop offset="0.1463" stop-color="#5cbde5"/><stop offset="0.1707" stop-color="#72c4d1"/><stop offset="0.1951" stop-color="#87c6ac"/><stop offset="0.2195" stop-color="#9dc87c"/><stop offset="0.2439" stop-color="#c2d335"/><stop offset="0.2683" stop-color="#e0dd00"/><stop offset="0.2927" stop-color="#f1e200"/><stop offset="0.3171" stop-color="#fad500"/><stop offset="0.3415" stop-color="#f7b800"/><stop offset="0.3659" stop-color="#f19402"/><stop offset="0.3902" stop-color="#eb6c08"/><stop offset="0.4146" stop-color="#e5490f"/><stop offset="0.4390" stop-color="#e4350f"/><stop offset="0.4634" stop-color="#e52a0e"/><stop offset="0.4878" stop-color="#e5290e"/><stop offset="0.5122" stop-color="#e5290e"/><stop offset="0.5366" stop-color="#e52a0e"/><stop offset="0.5610" stop-color="#e4350f"/><stop offset="0.5854" stop-color="#e5490f"/><stop offset="0.6098" stop-color="#eb6c08"/><stop offset="0.6341" stop-color="#f19402"/><stop offset="0.6585" stop-color="#f7b800"/><stop offset="0.6829" stop-color="#fad500"/><stop offset="0.7073" stop-color="#f1e200"/><stop offset="0.7317" stop-color="#e0dd00"/><stop offset="0.7561" stop-color="#c2d335"/><stop offset="0.7805" stop-color="#9dc87c"/><stop offset="0.8049" stop-color="#87c6ac"/><stop offset="0.8293" stop-color="#72c4d1"/><stop offset="0.8537" stop-color="#5cbde5"/><stop offset="0.8780" stop-color="#4ea8de"/><stop offset="0.9024" stop-color="#4e8dcb"/><stop offset="0.9268" stop-color="#4670b7"/><stop offset="0.9512" stop-color="#4056a5"/><stop offset="0.9756" stop-color="#3e4c9e"/><stop offset="1.0000" stop-color="#3d4a9c"/></linearGradient><linearGradient id="gDb"><stop offset="0.0000" stop-color="#3d4a9c"/><stop offset="0.0244" stop-color="#3e4c9e"/><stop offset="0.0488" stop-color="#4056a5"/><stop offset="0.0732" stop-color="#4670b7"/><stop offset="0.0976" stop-color="#4e8dcb"/><stop offset="0.1220" stop-color="#4ea8de"/><stop offset="0.1463" stop-color="#5cbde5"/><stop offset="0.1707" stop-color="#72c4d1"/><stop offset="0.1951" stop-color="#87c6ac"/><stop offset="0.2195" stop-color="#9dc87c"/><stop offset="0.2439" stop-color="#c2d335"/><stop offset="0.2683" stop-color="#e0dd00"/><stop offset="0.2927" stop-color="#f1e200"/><stop offset="0.3171" stop-color="#fad500"/><stop offset="0.3415" stop-color="#f7b800"/><stop offset="0.3659" stop-color="#f19402"/><stop offset="0.3902" stop-color="#eb6c08"/><stop offset="0.4146" stop-color="#e5400f"/><stop offset="0.4390" stop-color="#e42a14"/><stop offset="0.4634" stop-color="#e31b15"/><stop offset="0.4878" stop-color="#e31616"/><stop offset="0.5122" stop-color="#e31616"/><stop offset="0.5366" stop-color="#e31b15"/><stop offset="0.5610" stop-color="#e42a14"/><stop offset="0.5854" stop-color="#e5400f"/><stop offset="0.6098" stop-color="#eb6c08"/><stop offset="0.6341" stop-color="#f19402"/><stop offset="0.6585" stop-color="#f7b800"/><stop offset="0.6829" stop-color="#fad500"/><stop offset="0.7073" stop-color="#f1e200"/><stop offset="0.7317" stop-color="#e0dd00"/><stop offset="0.7561" stop-color="#c2d335"/><stop offset="0.7805" stop-color="#9dc87c"/><stop offset="0.8049" stop-color="#87c6ac"/><stop offset="0.8293" stop-color="#72c4d1"/><stop offset="0.8537" stop-color="#5cbde5"/><stop offset="0.8780" stop-color="#4ea8de"/><stop offset="0.9024" stop-color="#4e8dcb"/><stop offset="0.9268" stop-color="#4670b7"/><stop offset="0.9512" stop-color="#4056a5"/><stop offset="0.9756" stop-color="#3e4c9e"/><stop offset="1.0000" stop-color="#3d4a9c"/></linearGradient><linearGradient id="gDd"><stop offset="0.0000" stop-color="#3d4a9c"/><stop offset="0.0244" stop-color="#3e4c9e"/><stop offset="0.0488" stop-color="#4056a5"/><stop offset="0.0732" stop-color="#4670b7"/><stop offset="0.0976" stop-color="#4e8dcb"/><stop offset="0.1220" stop-color="#4ea8de"/><stop offset="0.1463" stop-color="#5cbde5"/><stop offset="0.1707" stop-color="#72c4d1"/><stop offset="0.1951" stop-color="#87c6ac"/><stop offset="0.2195" stop-color="#9dc87c"/><stop offset="0.2439" stop-color="#c2d335"/><stop offset="0.2683" stop-color="#e0dd00"/><stop offset="0.2927" stop-color="#f1e200"/><stop offset="0.3171" stop-color="#fad500"/><stop offset="0.3415" stop-color="#f7b800"/><stop offset="0.3659" stop-color="#f19402"/><stop offset="0.3902" stop-color="#eb6c08"/><stop offset="0.4146" stop-color="#e8580e"/><stop offset="0.4390" stop-color="#e64c10"/><stop offset="0.4634" stop-color="#e5430f"/><stop offset="0.4878" stop-color="#e5400f"/><stop offset="0.5122" stop-color="#e5400f"/><stop offset="0.5366" stop-color="#e5430f"/><stop offset="0.5610" stop-color="#e64c10"/><stop offset="0.5854" stop-color="#e8580e"/><stop offset="0.6098" stop-color="#eb6c08"/><stop offset="0.6341" stop-color="#f19402"/><stop offset="0.6585" stop-color="#f7b800"/><stop offset="0.6829" stop-color="#fad500"/><stop offset="0.7073" stop-color="#f1e200"/><stop offset="0.7317" stop-color="#e0dd00"/><stop offset="0.7561" stop-color="#c2d335"/><stop offset="0.7805" stop-color="#9dc87c"/><stop offset="0.8049" stop-color="#87c6ac"/><stop offset="0.8293" stop-color="#72c4d1"/><stop offset="0.8537" stop-color="#5cbde5"/><stop offset="0.8780" stop-color="#4ea8de"/><stop offset="0.9024" stop-color="#4e8dcb"/><stop offset="0.9268" stop-color="#4670b7"/><stop offset="0.9512" stop-color="#4056a5"/><stop offset="0.9756" stop-color="#3e4c9e"/><stop offset="1.0000" stop-color="#3d4a9c"/></linearGradient><clipPath id="clipD"><rect x="594.20" y="544.70" width="443.90" height="428.80"/></clipPath><linearGradient id="cbB" x1="0" y1="0" x2="0" y2="1"><stop offset="0.0000" stop-color="#7f1510"/><stop offset="0.0500" stop-color="#a8161a"/><stop offset="0.0900" stop-color="#c8141c"/><stop offset="0.1300" stop-color="#e30a17"/><stop offset="0.1400" stop-color="#e31816"/><stop offset="0.1700" stop-color="#e32c14"/><stop offset="0.2050" stop-color="#e74811"/><stop offset="0.2350" stop-color="#ee6d0a"/><stop offset="0.2750" stop-color="#f49a02"/><stop offset="0.3150" stop-color="#f8c400"/><stop offset="0.3500" stop-color="#f3e000"/><stop offset="0.3850" stop-color="#dcdc00"/><stop offset="0.4400" stop-color="#bdd43a"/><stop offset="0.5100" stop-color="#9fcb80"/><stop offset="0.5800" stop-color="#7cc7be"/><stop offset="0.6500" stop-color="#5cbee1"/><stop offset="0.6900" stop-color="#52a9db"/><stop offset="0.7150" stop-color="#4e8fcc"/><stop offset="0.7450" stop-color="#4470b6"/><stop offset="0.7850" stop-color="#3c57a5"/><stop offset="0.8200" stop-color="#3b4698"/><stop offset="0.8450" stop-color="#3a4094"/><stop offset="0.8800" stop-color="#36398f"/><stop offset="0.9400" stop-color="#312f86"/><stop offset="1.0000" stop-color="#2c2a7d"/></linearGradient><linearGradient id="cbD" x1="0" y1="0" x2="0" y2="1"><stop offset="0.0000" stop-color="#7f1510"/><stop offset="0.0500" stop-color="#a8161a"/><stop offset="0.0900" stop-color="#c8141c"/><stop offset="0.1300" stop-color="#e30a17"/><stop offset="0.1400" stop-color="#e31816"/><stop offset="0.1700" stop-color="#e32c14"/><stop offset="0.2050" stop-color="#e74811"/><stop offset="0.2350" stop-color="#ee6d0a"/><stop offset="0.2750" stop-color="#f49a02"/><stop offset="0.3150" stop-color="#f8c400"/><stop offset="0.3500" stop-color="#f3e000"/><stop offset="0.3850" stop-color="#dcdc00"/><stop offset="0.4400" stop-color="#bdd43a"/><stop offset="0.5100" stop-color="#9fcb80"/><stop offset="0.5800" stop-color="#7cc7be"/><stop offset="0.6500" stop-color="#5cbee1"/><stop offset="0.6900" stop-color="#52a9db"/><stop offset="0.7150" stop-color="#4e8fcc"/><stop offset="0.7450" stop-color="#4470b6"/><stop offset="0.7850" stop-color="#3c57a5"/><stop offset="0.8200" stop-color="#3b4698"/><stop offset="0.8450" stop-color="#3a4094"/><stop offset="0.8800" stop-color="#36398f"/><stop offset="0.9400" stop-color="#312f86"/><stop offset="1.0000" stop-color="#2c2a7d"/></linearGradient></defs>
<rect width="1770" height="1050" fill="#fff"/>
<rect x="0.0" y="251.1" width="41.5" height="522.9" fill="#c01e22"/><rect x="84.9" y="251.1" width="43.7" height="522.9" fill="#c01e22"/><rect x="172.0" y="251.1" width="41.7" height="522.9" fill="#c01e22"/><rect x="257.5" y="251.1" width="43.4" height="522.9" fill="#c01e22"/><rect x="343.9" y="251.1" width="41.8" height="522.9" fill="#c01e22"/><rect x="429.2" y="251.1" width="43.2" height="522.9" fill="#c01e22"/><circle cx="215.1" cy="504.8" r="13.0" fill="#c01e22"/><path d="M185.7 464.7H267M183.1 545.9H266M184.1 475.7V536M265.5 477.8V536" fill="none" stroke="#1a1a1a" stroke-width="3.1" stroke-dasharray="11.2 12.1"/><path d="M153 99.7L153 172.6L144.4 167.6L157.2 197.9L169.4 167.6L160.9 172.4L160.9 99.7Z" fill="#379ada"/><path d="M156.3 95.2L240.6 95.2L236.2 86.2L266.6 98.65L236.2 111.1L240.6 102.1L156.3 102.1Z" fill="#94bf22"/>
<g clip-path="url(#clipB)"><rect x="596.25" y="15.15" width="445.30" height="426.40" fill="#3a4094"/><rect x="598.60" y="15" width="36.00" height="427" fill="url(#b0)"/><rect x="648.60" y="15" width="36.00" height="9" fill="url(#b0)"/><rect x="648.70" y="24" width="36.00" height="36" fill="url(#b0)"/><rect x="648.80" y="60" width="36.00" height="21" fill="url(#b0)"/><rect x="648.90" y="81" width="36.00" height="15" fill="url(#b1)"/><rect x="649.00" y="96" width="36.00" height="12" fill="url(#b1)"/><rect x="649.10" y="108" width="36.00" height="9" fill="url(#b1)"/><rect x="649.20" y="117" width="36.00" height="9" fill="url(#b1)"/><rect x="649.30" y="126" width="36.00" height="9" fill="url(#b1)"/><rect x="649.40" y="135" width="36.00" height="9" fill="url(#b2)"/><rect x="649.50" y="144" width="36.00" height="9" fill="url(#b2)"/><rect x="649.60" y="153" width="36.00" height="9" fill="url(#b2)"/><rect x="649.70" y="162" width="36.00" height="9" fill="url(#b2)"/><rect x="649.80" y="171" width="36.00" height="9" fill="url(#b2)"/><rect x="649.90" y="180" width="36.00" height="12" fill="url(#b3)"/><rect x="650.00" y="192" width="36.00" height="15" fill="url(#b3)"/><rect x="650.10" y="207" width="36.00" height="42" fill="url(#b3)"/><rect x="650.00" y="249" width="36.00" height="15" fill="url(#b3)"/><rect x="649.90" y="264" width="36.00" height="12" fill="url(#b3)"/><rect x="649.80" y="276" width="36.00" height="9" fill="url(#b2)"/><rect x="649.70" y="285" width="36.00" height="9" fill="url(#b2)"/><rect x="649.60" y="294" width="36.00" height="9" fill="url(#b2)"/><rect x="649.50" y="303" width="36.00" height="9" fill="url(#b2)"/><rect x="649.40" y="312" width="36.00" height="9" fill="url(#b2)"/><rect x="649.30" y="321" width="36.00" height="9" fill="url(#b1)"/><rect x="649.20" y="330" width="36.00" height="9" fill="url(#b1)"/><rect x="649.10" y="339" width="36.00" height="9" fill="url(#b1)"/><rect x="649.00" y="348" width="36.00" height="12" fill="url(#b1)"/><rect x="648.90" y="360" width="36.00" height="15" fill="url(#b1)"/><rect x="648.80" y="375" width="36.00" height="21" fill="url(#b0)"/><rect x="648.70" y="396" width="36.00" height="36" fill="url(#b0)"/><rect x="648.60" y="432" width="36.00" height="10" fill="url(#b0)"/><rect x="698.60" y="15" width="36.00" height="117" fill="url(#b0)"/><rect x="698.60" y="132" width="36.00" height="21" fill="url(#b1)"/><rect x="698.60" y="153" width="36.00" height="15" fill="url(#b2)"/><rect x="698.60" y="168" width="36.00" height="9" fill="url(#b3)"/><rect x="698.60" y="177" width="36.00" height="12" fill="url(#b4)"/><rect x="698.60" y="189" width="36.00" height="9" fill="url(#b5)"/><rect x="698.60" y="198" width="36.00" height="15" fill="url(#b6)"/><rect x="698.60" y="213" width="36.00" height="30" fill="url(#b7)"/><rect x="698.60" y="243" width="36.00" height="15" fill="url(#b6)"/><rect x="698.60" y="258" width="36.00" height="9" fill="url(#b5)"/><rect x="698.60" y="267" width="36.00" height="12" fill="url(#b4)"/><rect x="698.60" y="279" width="36.00" height="9" fill="url(#b3)"/><rect x="698.60" y="288" width="36.00" height="15" fill="url(#b2)"/><rect x="698.60" y="303" width="36.00" height="21" fill="url(#b1)"/><rect x="698.60" y="324" width="36.00" height="118" fill="url(#b0)"/><rect x="748.60" y="15" width="36.00" height="90" fill="url(#b0)"/><rect x="748.35" y="105" width="36.50" height="9" fill="url(#b8)"/><rect x="748.17" y="114" width="36.86" height="24" fill="url(#b9)"/><rect x="747.92" y="138" width="37.36" height="12" fill="url(#b10)"/><rect x="747.74" y="150" width="37.72" height="9" fill="url(#b11)"/><rect x="747.49" y="159" width="38.22" height="15" fill="url(#b12)"/><rect x="747.31" y="174" width="38.58" height="3" fill="url(#b13)"/><rect x="747.06" y="177" width="39.08" height="21" fill="url(#b14)"/><rect x="746.63" y="198" width="39.94" height="60" fill="url(#b15)"/><rect x="747.06" y="258" width="39.08" height="21" fill="url(#b14)"/><rect x="747.31" y="279" width="38.58" height="3" fill="url(#b13)"/><rect x="747.49" y="282" width="38.22" height="15" fill="url(#b12)"/><rect x="747.74" y="297" width="37.72" height="9" fill="url(#b11)"/><rect x="747.92" y="306" width="37.36" height="12" fill="url(#b10)"/><rect x="748.17" y="318" width="36.86" height="24" fill="url(#b9)"/><rect x="748.35" y="342" width="36.50" height="9" fill="url(#b8)"/><rect x="748.60" y="351" width="36.00" height="91" fill="url(#b0)"/><rect x="799.40" y="15" width="36.00" height="108" fill="url(#b0)"/><rect x="799.58" y="123" width="35.64" height="4" fill="url(#b16)"/><rect x="799.33" y="127" width="36.14" height="5" fill="url(#b17)"/><rect x="799.51" y="132" width="35.78" height="5" fill="url(#b18)"/><rect x="799.44" y="137" width="35.92" height="3" fill="url(#b19)"/><rect x="799.62" y="140" width="35.56" height="2" fill="url(#b20)"/><rect x="799.37" y="142" width="36.06" height="1" fill="url(#b21)"/><rect x="799.55" y="143" width="35.70" height="3" fill="url(#b22)"/><rect x="799.73" y="146" width="35.34" height="1" fill="url(#b23)"/><rect x="799.48" y="147" width="35.84" height="1" fill="url(#b24)"/><rect x="799.66" y="148" width="35.48" height="3" fill="url(#b25)"/><rect x="799.59" y="151" width="35.62" height="2" fill="url(#b26)"/><rect x="799.77" y="153" width="35.26" height="2" fill="url(#b27)"/><rect x="799.52" y="155" width="35.76" height="1" fill="url(#b28)"/><rect x="799.70" y="156" width="35.40" height="3" fill="url(#b29)"/><rect x="799.88" y="159" width="35.04" height="1" fill="url(#b30)"/><rect x="799.63" y="160" width="35.54" height="3" fill="url(#b31)"/><rect x="799.81" y="163" width="35.18" height="5" fill="url(#b32)"/><rect x="799.81" y="168" width="35.18" height="3" fill="url(#b33)"/><rect x="799.63" y="171" width="35.54" height="3" fill="url(#b34)"/><rect x="799.63" y="174" width="35.54" height="1" fill="url(#b35)"/><rect x="799.45" y="175" width="35.90" height="1" fill="url(#b36)"/><rect x="799.70" y="176" width="35.40" height="1" fill="url(#b37)"/><rect x="799.52" y="177" width="35.76" height="2" fill="url(#b38)"/><rect x="799.34" y="179" width="36.12" height="2" fill="url(#b39)"/><rect x="799.41" y="181" width="35.98" height="1" fill="url(#b40)"/><rect x="799.23" y="182" width="36.34" height="1" fill="url(#b41)"/><rect x="799.05" y="183" width="36.70" height="2" fill="url(#b42)"/><rect x="799.12" y="185" width="36.56" height="1" fill="url(#b43)"/><rect x="798.94" y="186" width="36.92" height="1" fill="url(#b44)"/><rect x="798.76" y="187" width="37.28" height="1" fill="url(#b45)"/><rect x="798.58" y="188" width="37.64" height="1" fill="url(#b46)"/><rect x="798.83" y="189" width="37.14" height="1" fill="url(#b47)"/><rect x="798.65" y="190" width="37.50" height="1" fill="url(#b48)"/><rect x="798.47" y="191" width="37.86" height="1" fill="url(#b49)"/><rect x="798.29" y="192" width="38.22" height="2" fill="url(#b50)"/><rect x="798.36" y="194" width="38.08" height="1" fill="url(#b51)"/><rect x="798.36" y="195" width="38.08" height="1" fill="url(#b52)"/><rect x="798.18" y="196" width="38.44" height="1" fill="url(#b53)"/><rect x="798.18" y="197" width="38.44" height="1" fill="url(#b54)"/><rect x="798.18" y="198" width="38.44" height="1" fill="url(#b55)"/><rect x="798.43" y="199" width="37.94" height="1" fill="url(#b56)"/><rect x="798.25" y="200" width="38.30" height="1" fill="url(#b57)"/><rect x="798.25" y="201" width="38.30" height="1" fill="url(#b58)"/><rect x="798.25" y="202" width="38.30" height="1" fill="url(#b59)"/><rect x="798.25" y="203" width="38.30" height="1" fill="url(#b60)"/><rect x="798.43" y="204" width="37.94" height="1" fill="url(#b61)"/><rect x="798.43" y="205" width="37.94" height="1" fill="url(#b62)"/><rect x="798.43" y="206" width="37.94" height="1" fill="url(#b63)"/><rect x="798.43" y="207" width="37.94" height="1" fill="url(#b64)"/><rect x="798.61" y="208" width="37.58" height="1" fill="url(#b65)"/><rect x="798.86" y="209" width="37.08" height="1" fill="url(#b66)"/><rect x="798.86" y="210" width="37.08" height="1" fill="url(#b67)"/><rect x="798.86" y="211" width="37.08" height="1" fill="url(#b68)"/><rect x="798.86" y="212" width="37.08" height="1" fill="url(#b69)"/><rect x="799.04" y="213" width="36.72" height="1" fill="url(#b70)"/><rect x="799.04" y="214" width="36.72" height="1" fill="url(#b71)"/><rect x="799.04" y="215" width="36.72" height="1" fill="url(#b72)"/><rect x="799.04" y="216" width="36.72" height="1" fill="url(#b73)"/><rect x="799.04" y="217" width="36.72" height="1" fill="url(#b74)"/><rect x="799.04" y="218" width="36.72" height="1" fill="url(#b75)"/><rect x="799.04" y="219" width="36.72" height="1" fill="url(#b76)"/><rect x="799.04" y="220" width="36.72" height="1" fill="url(#b77)"/><rect x="799.04" y="221" width="36.72" height="1" fill="url(#b78)"/><rect x="798.86" y="222" width="37.08" height="1" fill="url(#b79)"/><rect x="798.86" y="223" width="37.08" height="1" fill="url(#b80)"/><rect x="798.86" y="224" width="37.08" height="2" fill="url(#b81)"/><rect x="798.86" y="226" width="37.08" height="4" fill="url(#b82)"/><rect x="798.86" y="230" width="37.08" height="2" fill="url(#b81)"/><rect x="798.86" y="232" width="37.08" height="1" fill="url(#b80)"/><rect x="798.86" y="233" width="37.08" height="1" fill="url(#b79)"/><rect x="799.04" y="234" width="36.72" height="1" fill="url(#b78)"/><rect x="799.04" y="235" width="36.72" height="1" fill="url(#b77)"/><rect x="799.04" y="236" width="36.72" height="1" fill="url(#b76)"/><rect x="799.04" y="237" width="36.72" height="1" fill="url(#b75)"/><rect x="799.04" y="238" width="36.72" height="1" fill="url(#b74)"/><rect x="799.04" y="239" width="36.72" height="1" fill="url(#b73)"/><rect x="799.04" y="240" width="36.72" height="1" fill="url(#b72)"/><rect x="799.04" y="241" width="36.72" height="1" fill="url(#b71)"/><rect x="799.04" y="242" width="36.72" height="1" fill="url(#b70)"/><rect x="798.86" y="243" width="37.08" height="1" fill="url(#b69)"/><rect x="798.86" y="244" width="37.08" height="1" fill="url(#b68)"/><rect x="798.86" y="245" width="37.08" height="1" fill="url(#b67)"/><rect x="798.86" y="246" width="37.08" height="1" fill="url(#b66)"/><rect x="798.61" y="247" width="37.58" height="1" fill="url(#b65)"/><rect x="798.43" y="248" width="37.94" height="1" fill="url(#b64)"/><rect x="798.43" y="249" width="37.94" height="1" fill="url(#b63)"/><rect x="798.43" y="250" width="37.94" height="1" fill="url(#b62)"/><rect x="798.43" y="251" width="37.94" height="1" fill="url(#b61)"/><rect x="798.25" y="252" width="38.30" height="1" fill="url(#b60)"/><rect x="798.25" y="253" width="38.30" height="1" fill="url(#b59)"/><rect x="798.25" y="254" width="38.30" height="1" fill="url(#b58)"/><rect x="798.25" y="255" width="38.30" height="1" fill="url(#b57)"/><rect x="798.43" y="256" width="37.94" height="1" fill="url(#b56)"/><rect x="798.18" y="257" width="38.44" height="1" fill="url(#b55)"/><rect x="798.18" y="258" width="38.44" height="1" fill="url(#b54)"/><rect x="798.18" y="259" width="38.44" height="1" fill="url(#b53)"/><rect x="798.36" y="260" width="38.08" height="1" fill="url(#b52)"/><rect x="798.36" y="261" width="38.08" height="1" fill="url(#b51)"/><rect x="798.29" y="262" width="38.22" height="2" fill="url(#b50)"/><rect x="798.47" y="264" width="37.86" height="1" fill="url(#b49)"/><rect x="798.65" y="265" width="37.50" height="1" fill="url(#b48)"/><rect x="798.83" y="266" width="37.14" height="1" fill="url(#b47)"/><rect x="798.58" y="267" width="37.64" height="1" fill="url(#b46)"/><rect x="798.76" y="268" width="37.28" height="1" fill="url(#b45)"/><rect x="798.94" y="269" width="36.92" height="1" fill="url(#b44)"/><rect x="799.12" y="270" width="36.56" height="1" fill="url(#b43)"/><rect x="799.05" y="271" width="36.70" height="2" fill="url(#b42)"/><rect x="799.23" y="273" width="36.34" height="1" fill="url(#b41)"/><rect x="799.41" y="274" width="35.98" height="1" fill="url(#b40)"/><rect x="799.34" y="275" width="36.12" height="2" fill="url(#b39)"/><rect x="799.52" y="277" width="35.76" height="2" fill="url(#b38)"/><rect x="799.70" y="279" width="35.40" height="1" fill="url(#b37)"/><rect x="799.45" y="280" width="35.90" height="1" fill="url(#b36)"/><rect x="799.63" y="281" width="35.54" height="1" fill="url(#b35)"/><rect x="799.63" y="282" width="35.54" height="3" fill="url(#b34)"/><rect x="799.81" y="285" width="35.18" height="3" fill="url(#b33)"/><rect x="799.81" y="288" width="35.18" height="5" fill="url(#b32)"/><rect x="799.63" y="293" width="35.54" height="3" fill="url(#b31)"/><rect x="799.88" y="296" width="35.04" height="1" fill="url(#b30)"/><rect x="799.70" y="297" width="35.40" height="3" fill="url(#b29)"/><rect x="799.52" y="300" width="35.76" height="1" fill="url(#b28)"/><rect x="799.77" y="301" width="35.26" height="2" fill="url(#b27)"/><rect x="799.59" y="303" width="35.62" height="2" fill="url(#b26)"/><rect x="799.66" y="305" width="35.48" height="3" fill="url(#b25)"/><rect x="799.48" y="308" width="35.84" height="1" fill="url(#b24)"/><rect x="799.73" y="309" width="35.34" height="1" fill="url(#b23)"/><rect x="799.55" y="310" width="35.70" height="3" fill="url(#b22)"/><rect x="799.37" y="313" width="36.06" height="1" fill="url(#b21)"/><rect x="799.62" y="314" width="35.56" height="2" fill="url(#b20)"/><rect x="799.44" y="316" width="35.92" height="3" fill="url(#b19)"/><rect x="799.51" y="319" width="35.78" height="5" fill="url(#b18)"/><rect x="799.33" y="324" width="36.14" height="5" fill="url(#b17)"/><rect x="799.58" y="329" width="35.64" height="4" fill="url(#b16)"/><rect x="799.40" y="333" width="36.00" height="109" fill="url(#b0)"/><rect x="848.60" y="15" width="36.00" height="84" fill="url(#b0)"/><rect x="848.35" y="99" width="36.50" height="9" fill="url(#b8)"/><rect x="848.17" y="108" width="36.86" height="30" fill="url(#b9)"/><rect x="847.92" y="138" width="37.36" height="15" fill="url(#b10)"/><rect x="847.74" y="153" width="37.72" height="12" fill="url(#b11)"/><rect x="847.49" y="165" width="38.22" height="24" fill="url(#b12)"/><rect x="847.31" y="189" width="38.58" height="6" fill="url(#b13)"/><rect x="847.06" y="195" width="39.08" height="66" fill="url(#b14)"/><rect x="847.31" y="261" width="38.58" height="6" fill="url(#b13)"/><rect x="847.49" y="267" width="38.22" height="24" fill="url(#b12)"/><rect x="847.74" y="291" width="37.72" height="12" fill="url(#b11)"/><rect x="847.92" y="303" width="37.36" height="15" fill="url(#b10)"/><rect x="848.17" y="318" width="36.86" height="30" fill="url(#b9)"/><rect x="848.35" y="348" width="36.50" height="9" fill="url(#b8)"/><rect x="848.60" y="357" width="36.00" height="85" fill="url(#b0)"/><rect x="898.60" y="15" width="36.00" height="138" fill="url(#b0)"/><rect x="898.60" y="153" width="36.00" height="27" fill="url(#b1)"/><rect x="898.60" y="180" width="36.00" height="18" fill="url(#b2)"/><rect x="898.60" y="198" width="36.00" height="21" fill="url(#b3)"/><rect x="898.60" y="219" width="36.00" height="42" fill="url(#b4)"/><rect x="898.60" y="261" width="36.00" height="21" fill="url(#b3)"/><rect x="898.60" y="282" width="36.00" height="18" fill="url(#b2)"/><rect x="898.60" y="300" width="36.00" height="27" fill="url(#b1)"/><rect x="898.60" y="327" width="36.00" height="115" fill="url(#b0)"/><rect x="948.60" y="15" width="36.00" height="105" fill="url(#b0)"/><rect x="948.35" y="120" width="36.50" height="15" fill="url(#b8)"/><rect x="948.17" y="135" width="36.86" height="27" fill="url(#b9)"/><rect x="947.92" y="162" width="37.36" height="24" fill="url(#b10)"/><rect x="947.74" y="186" width="37.72" height="3" fill="url(#b11)"/><rect x="947.49" y="189" width="38.22" height="24" fill="url(#b12)"/><rect x="947.24" y="213" width="38.72" height="15" fill="url(#b83)"/><rect x="947.06" y="228" width="39.08" height="18" fill="url(#b14)"/><rect x="946.81" y="246" width="39.58" height="48" fill="url(#b84)"/><rect x="947.06" y="294" width="39.08" height="18" fill="url(#b14)"/><rect x="947.24" y="312" width="38.72" height="15" fill="url(#b83)"/><rect x="947.49" y="327" width="38.22" height="24" fill="url(#b12)"/><rect x="947.74" y="351" width="37.72" height="3" fill="url(#b11)"/><rect x="947.92" y="354" width="37.36" height="24" fill="url(#b10)"/><rect x="948.17" y="378" width="36.86" height="27" fill="url(#b9)"/><rect x="948.35" y="405" width="36.50" height="15" fill="url(#b8)"/><rect x="948.60" y="420" width="36.00" height="22" fill="url(#b0)"/><rect x="998.60" y="15" width="36.00" height="427" fill="url(#b0)"/></g>
<g clip-path="url(#clipD)"><rect x="594.20" y="544.70" width="443.90" height="428.80" fill="#3d4a9c"/><rect x="599.10" y="544.70" width="41" height="428.80" fill="url(#gD)"/><rect x="648.20" y="544.70" width="41" height="428.80" fill="url(#gD)"/><rect x="697.20" y="544.70" width="41" height="428.80" fill="url(#gDb)"/><rect x="746.90" y="544.70" width="41" height="428.80" fill="url(#gDb)"/><rect x="795.80" y="544.70" width="41" height="428.80" fill="url(#gDd)"/><rect x="844.80" y="544.70" width="41" height="428.80" fill="url(#gDd)"/><rect x="893.20" y="544.70" width="41" height="428.80" fill="url(#gDb)"/><rect x="942.50" y="544.70" width="41" height="428.80" fill="url(#gDb)"/><rect x="992.20" y="544.70" width="41" height="428.80" fill="url(#gD)"/></g>
<rect x="596.25" y="15.15" width="445.30" height="426.40" fill="none" stroke="#231f20" stroke-width="1.80"/>
<rect x="594.20" y="544.70" width="443.90" height="428.80" fill="none" stroke="#231f20" stroke-width="1.60"/>
<path d="M707.58 441.55v-4.5M707.58 15.15v4.5M596.25 121.75h4.5M1041.55 121.75h-4.5M818.90 441.55v-4.5M818.90 15.15v4.5M596.25 228.35h4.5M1041.55 228.35h-4.5M930.22 441.55v-4.5M930.22 15.15v4.5M596.25 334.95h4.5M1041.55 334.95h-4.5" stroke="#1a1a1a" stroke-width="1.5" fill="none"/>
<path d="M649.13 973.50v-4.5M649.13 544.70v4.5M703.56 973.50v-4.5M703.56 544.70v4.5M757.99 973.50v-4.5M757.99 544.70v4.5M812.42 973.50v-4.5M812.42 544.70v4.5M866.85 973.50v-4.5M866.85 544.70v4.5M921.28 973.50v-4.5M921.28 544.70v4.5M975.71 973.50v-4.5M975.71 544.70v4.5M1030.14 973.50v-4.5M1030.14 544.70v4.5M594.20 595.70h4.5M1038.10 595.70h-4.5M594.20 648.94h4.5M1038.10 648.94h-4.5M594.20 702.18h4.5M1038.10 702.18h-4.5M594.20 755.42h4.5M1038.10 755.42h-4.5M594.20 808.66h4.5M1038.10 808.66h-4.5M594.20 861.90h4.5M1038.10 861.90h-4.5M594.20 915.14h4.5M1038.10 915.14h-4.5M594.20 968.38h4.5M1038.10 968.38h-4.5" stroke="#1a1a1a" stroke-width="1.5" fill="none"/>
<path d="M597.65 15.15V441.55M1040.15 15.15V441.55" stroke="#2d2a7c" stroke-width="1.2"/>
<path d="M595.50 544.70V973.50M1036.80 544.70V973.50" stroke="#2d2a7c" stroke-width="1.2"/>
<line x1="592.3" y1="228" x2="1039.5" y2="228" stroke="#fafafa" stroke-width="3.0" stroke-dasharray="15.6 16.23" stroke-dashoffset="5.63"/>
<line x1="593.5" y1="756.1" x2="1038.5" y2="756.1" stroke="#fafafa" stroke-width="3.4" stroke-dasharray="15.7 16.1" stroke-dashoffset="7.90"/>
<rect x="1059.80" y="67.00" width="29.20" height="350.50" fill="url(#cbB)" stroke="#231f20" stroke-width="1.8"/><path d="M1059.80 98.00h3M1089.00 98.00h-3M1059.80 151.00h3M1089.00 151.00h-3M1059.80 204.20h3M1089.00 204.20h-3M1059.80 257.40h3M1089.00 257.40h-3M1059.80 310.80h3M1089.00 310.80h-3M1059.80 363.60h3M1089.00 363.60h-3" stroke="#231f20" stroke-width="1.6"/>
<rect x="1055.80" y="592.40" width="28.80" height="349.80" fill="url(#cbD)" stroke="#231f20" stroke-width="1.8"/><path d="M1055.80 656.40h3M1084.60 656.40h-3M1055.80 728.10h3M1084.60 728.10h-3M1055.80 799.40h3M1084.60 799.40h-3M1055.80 870.90h3M1084.60 870.90h-3" stroke="#231f20" stroke-width="1.6"/>
<path d="M1224.90 388.21 L1225.12 387.32 L1226.66 376.63 L1228.19 364.55 L1229.73 347.93 L1231.27 326.95 L1232.81 300.80 L1234.35 271.16 L1236.33 225.95 L1238.31 178.55 L1240.29 137.93 L1242.26 103.82 L1244.24 75.64 L1246.22 52.48 L1248.20 34.50 L1250.23 52.48 L1252.26 75.66 L1254.29 103.84 L1256.31 137.96 L1258.34 178.59 L1260.37 226.01 L1262.40 271.23 L1263.98 300.87 L1265.56 327.03 L1267.13 348.01 L1268.71 364.64 L1270.29 376.72 L1271.87 387.42 L1273.44 393.71 L1275.02 396.59 L1276.60 398.60 L1278.17 396.67 L1279.73 393.93 L1281.30 387.91 L1282.87 377.69 L1284.43 366.14 L1286.00 350.24 L1287.57 330.19 L1289.13 305.19 L1290.70 276.85 L1292.71 233.62 L1294.73 188.30 L1296.74 149.46 L1298.76 116.84 L1300.77 89.91 L1302.79 67.75 L1304.80 45.50 L1306.82 67.82 L1308.84 90.06 L1310.86 117.11 L1312.89 149.86 L1314.91 188.85 L1316.93 234.36 L1318.95 277.76 L1320.52 306.21 L1322.09 331.31 L1323.67 351.45 L1325.24 367.40 L1326.81 379.00 L1328.38 389.27 L1329.96 395.31 L1331.53 398.07 L1333.10 400.00 L1334.68 398.08 L1336.27 395.35 L1337.85 389.36 L1339.43 379.19 L1341.02 367.69 L1342.60 351.87 L1344.18 331.90 L1345.77 307.02 L1347.35 278.81 L1349.39 235.78 L1351.42 190.67 L1353.46 152.01 L1355.49 119.55 L1357.53 92.73 L1359.56 70.68 L1361.60 48.00 L1363.64 70.68 L1365.67 92.73 L1367.71 119.55 L1369.74 152.01 L1371.78 190.67 L1373.81 235.78 L1375.85 278.81 L1377.43 307.02 L1379.02 331.90 L1380.60 351.87 L1382.18 367.69 L1383.77 379.19 L1385.35 389.36 L1386.93 395.35 L1388.52 398.08 L1390.10 400.00 L1391.67 397.93 L1393.23 394.97 L1394.80 388.50 L1396.37 377.50 L1397.93 365.06 L1399.50 347.96 L1401.07 326.38 L1402.63 299.47 L1404.20 268.98 L1406.21 222.46 L1408.23 173.68 L1410.24 131.89 L1412.26 96.78 L1414.27 67.79 L1416.29 43.95 L1418.30 26.50 L1420.34 43.62 L1422.39 66.99 L1424.43 95.42 L1426.47 129.83 L1428.51 170.81 L1430.56 218.63 L1432.60 264.24 L1434.19 294.14 L1435.78 320.52 L1437.37 341.68 L1438.96 358.45 L1440.54 370.64 L1442.13 381.42 L1443.72 387.77 L1445.31 390.67 L1446.90 392.70 L1448.53 391.20 L1450.16 389.07 L1451.78 384.38 L1453.41 376.43 L1455.04 367.44 L1456.67 355.07 L1458.29 339.47 L1459.92 320.01 L1461.55 297.96 L1463.64 264.33 L1465.74 229.06 L1467.83 198.84 L1469.92 173.46 L1472.01 152.50 L1474.11 135.26 L1476.20 122.80 L1478.14 135.56 L1480.07 153.22 L1482.01 174.69 L1483.94 200.69 L1485.88 231.65 L1487.81 267.78 L1489.75 302.24 L1491.44 327.46 L1493.14 348.76 L1494.83 366.75 L1496.53 378.02 L1498.22 388.39 L1499.91 394.38 L1501.61 397.57 L1503.30 399.30 L1504.91 397.25 L1506.52 394.32 L1508.13 387.91 L1509.74 377.02 L1511.36 364.71 L1512.97 347.78 L1514.58 326.41 L1516.19 299.77 L1517.80 269.58 L1519.87 223.52 L1521.94 175.22 L1524.01 133.85 L1526.09 99.09 L1528.16 70.39 L1530.23 46.79 L1532.30 29.50 L1534.24 46.82 L1536.19 70.46 L1538.13 99.22 L1540.07 134.04 L1542.01 175.50 L1543.96 223.88 L1545.90 270.03 L1547.41 300.28 L1548.92 326.97 L1550.43 348.38 L1551.94 365.34 L1553.46 377.68 L1554.97 388.59 L1556.48 395.02 L1557.99 397.94 L1559.50 400.00 L1561.09 398.06 L1562.69 395.30 L1564.28 389.24 L1565.88 378.94 L1567.47 367.31 L1569.07 351.31 L1570.66 331.11 L1572.26 305.94 L1573.85 277.41 L1575.90 233.88 L1577.95 188.24 L1580.00 149.14 L1582.05 116.29 L1584.10 89.17 L1586.15 66.86 L1588.20 45.00 L1590.24 66.89 L1592.27 89.23 L1594.31 116.41 L1596.34 149.31 L1598.38 188.48 L1600.41 234.19 L1602.45 277.80 L1604.03 306.38 L1605.62 331.59 L1607.20 351.83 L1608.78 367.85 L1610.37 379.51 L1611.95 389.82 L1613.53 395.89 L1615.12 398.66 L1616.70 400.60 L1618.28 398.66 L1619.86 395.89 L1621.43 389.82 L1623.01 379.51 L1624.59 367.85 L1626.17 351.83 L1627.74 331.59 L1629.32 306.38 L1630.90 277.80 L1632.93 234.19 L1634.96 188.48 L1636.99 149.31 L1639.01 116.41 L1641.04 89.23 L1643.07 66.89 L1645.10 45.30 L1647.14 66.80 L1649.17 89.01 L1651.21 116.03 L1653.24 148.74 L1655.28 187.69 L1657.31 233.15 L1659.35 276.50 L1660.93 304.92 L1662.52 329.99 L1664.10 350.10 L1665.68 366.04 L1667.27 377.63 L1668.85 387.88 L1670.43 393.92 L1672.02 396.67 L1673.60 398.60 L1675.17 396.58 L1676.73 393.70 L1678.30 387.39 L1679.87 376.66 L1681.43 364.54 L1683.00 347.87 L1684.57 326.83 L1686.13 300.61 L1687.70 270.88 L1689.71 225.53 L1691.73 177.98 L1693.74 137.24 L1695.76 103.03 L1697.77 74.76 L1699.79 51.53 L1701.80 33.50 L1703.85 51.57 L1705.90 74.86 L1707.95 103.19 L1710.00 137.50 L1712.05 178.34 L1714.10 226.00 L1716.15 271.46 L1717.74 301.26 L1719.34 327.55 L1720.93 348.65 L1722.53 365.36 L1724.12 377.51 L1725.72 388.26 L1727.31 394.59 L1728.91 397.48 L1729.00 397.59" fill="none" stroke="#111" stroke-width="2.80" stroke-linejoin="round"/>
<path d="M1243.70 955.19 L1243.85 954.85 L1245.50 944.06 L1247.15 926.52 L1248.80 902.92 L1250.45 874.17 L1252.10 841.36 L1253.75 805.77 L1255.40 768.75 L1259.80 673.88 L1264.20 604.42 L1268.60 576.00 L1272.19 593.41 L1275.77 634.43 L1279.36 695.83 L1282.95 768.25 L1284.54 801.11 L1286.14 832.98 L1287.73 862.88 L1289.33 889.90 L1290.92 913.22 L1292.52 932.15 L1294.11 946.09 L1295.71 954.62 L1297.30 957.50 L1298.85 954.62 L1300.40 946.09 L1301.95 932.15 L1303.50 913.22 L1305.05 889.90 L1306.60 862.88 L1308.15 832.98 L1309.70 801.11 L1311.25 768.25 L1314.74 695.83 L1318.22 634.43 L1321.71 593.41 L1325.20 576.50 L1328.74 593.41 L1332.28 634.43 L1335.81 695.83 L1339.35 768.25 L1340.92 801.11 L1342.49 832.98 L1344.07 862.88 L1345.64 889.90 L1347.21 913.22 L1348.78 932.15 L1350.36 946.09 L1351.93 954.62 L1353.50 957.50 L1355.09 954.53 L1356.69 945.69 L1358.28 931.27 L1359.88 911.70 L1361.47 887.58 L1363.07 859.62 L1364.66 828.70 L1366.26 795.74 L1367.85 761.75 L1371.44 686.84 L1375.03 623.33 L1378.61 580.90 L1382.20 562.50 L1385.73 580.90 L1389.25 623.33 L1392.78 686.84 L1396.30 761.75 L1397.87 795.74 L1399.43 828.70 L1401.00 859.62 L1402.57 887.58 L1404.13 911.70 L1405.70 931.27 L1407.27 945.69 L1408.83 954.53 L1410.40 957.50 L1411.97 954.56 L1413.53 945.82 L1415.10 931.54 L1416.67 912.17 L1418.23 888.29 L1419.80 860.62 L1421.37 830.02 L1422.93 797.39 L1424.50 763.75 L1428.03 689.61 L1431.55 626.75 L1435.07 584.75 L1438.60 567.00 L1442.20 584.75 L1445.80 626.75 L1449.40 689.61 L1453.00 763.75 L1454.60 797.39 L1456.20 830.02 L1457.80 860.62 L1459.40 888.29 L1461.00 912.17 L1462.60 931.54 L1464.20 945.82 L1465.80 954.56 L1467.40 957.50 L1468.98 954.69 L1470.57 946.33 L1472.15 932.68 L1473.73 914.16 L1475.32 891.33 L1476.90 864.88 L1478.48 835.61 L1480.07 804.42 L1481.65 772.25 L1485.21 701.36 L1488.78 641.26 L1492.34 601.10 L1495.90 583.50 L1499.45 601.10 L1503.00 641.26 L1506.55 701.36 L1510.10 772.25 L1511.68 804.42 L1513.26 835.61 L1514.83 864.88 L1516.41 891.33 L1517.99 914.16 L1519.57 932.68 L1521.14 946.33 L1522.72 954.69 L1524.30 957.50 L1525.86 954.69 L1527.42 946.33 L1528.98 932.68 L1530.54 914.16 L1532.11 891.33 L1533.67 864.88 L1535.23 835.61 L1536.79 804.42 L1538.35 772.25 L1541.86 701.36 L1545.38 641.26 L1548.89 601.10 L1552.40 584.00 L1555.89 601.10 L1559.38 641.26 L1562.86 701.36 L1566.35 772.25 L1567.90 804.42 L1569.45 835.61 L1571.00 864.88 L1572.55 891.33 L1574.10 914.16 L1575.65 932.68 L1577.20 946.33 L1578.75 954.69 L1580.30 957.50 L1581.91 954.55 L1583.52 945.79 L1585.13 931.48 L1586.74 912.05 L1588.36 888.11 L1589.97 860.38 L1591.58 829.69 L1593.19 796.98 L1594.80 763.25 L1598.42 688.91 L1602.05 625.89 L1605.67 583.79 L1609.30 566.00 L1612.79 583.79 L1616.28 625.89 L1619.76 688.91 L1623.25 763.25 L1624.80 796.98 L1626.35 829.69 L1627.90 860.38 L1629.45 888.11 L1631.00 912.05 L1632.55 931.48 L1634.10 945.79 L1635.65 954.55 L1637.20 957.50 L1638.79 954.53 L1640.38 945.69 L1641.97 931.27 L1643.56 911.70 L1645.14 887.58 L1646.73 859.62 L1648.32 828.70 L1649.91 795.74 L1651.50 761.75 L1655.08 686.84 L1658.65 623.33 L1662.22 580.90 L1665.80 562.50 L1669.34 580.90 L1672.88 623.33 L1676.41 686.84 L1679.95 761.75 L1681.52 795.74 L1683.09 828.70 L1684.67 859.62 L1686.24 887.58 L1687.81 911.70 L1689.38 931.27 L1690.96 945.69 L1692.53 954.53 L1694.10 957.50 L1695.69 954.62 L1697.29 946.09 L1698.88 932.15 L1700.48 913.22 L1702.07 889.90 L1703.67 862.88 L1705.26 832.98 L1706.86 801.11 L1708.45 768.25 L1712.04 695.83 L1715.62 634.43 L1719.21 593.41 L1722.80 576.00 L1726.33 593.42 L1729.85 634.50 L1733.38 695.98 L1736.90 768.50 L1738.47 801.41 L1740.03 833.31 L1741.60 863.25 L1743.17 890.31 L1744.73 913.67 L1746.30 932.61 L1747.87 946.57 L1748.00 947.30" fill="none" stroke="#111" stroke-width="2.70" stroke-linejoin="round"/>
<rect x="1224.90" y="17.40" width="504.10" height="410.40" fill="none" stroke="#2b2b2b" stroke-width="2.70"/>
<rect x="1243.70" y="549.20" width="504.30" height="410.80" fill="none" stroke="#2b2b2b" stroke-width="2.40"/>
<path d="M1224.90 389.00h7.5M1224.90 350.20h7.5M1224.90 311.40h7.5M1224.90 272.60h7.5M1224.90 233.80h7.5M1224.90 195.00h7.5M1224.90 156.20h7.5M1224.90 117.40h7.5M1224.90 78.60h7.5M1224.90 39.80h7.5M1256.41 427.80v-8M1319.42 427.80v-8M1382.43 427.80v-8M1445.44 427.80v-8M1508.46 427.80v-8M1571.47 427.80v-8M1634.48 427.80v-8M1697.49 427.80v-8M1287.91 427.80v-4.5M1350.93 427.80v-4.5M1413.94 427.80v-4.5M1476.95 427.80v-4.5M1539.96 427.80v-4.5M1602.98 427.80v-4.5M1665.99 427.80v-4.5" stroke="#1a1a1a" stroke-width="2.0" fill="none"/>
<path d="M1243.70 908.65h7.5M1243.70 857.30h7.5M1243.70 805.95h7.5M1243.70 754.60h7.5M1243.70 703.25h7.5M1243.70 651.90h7.5M1243.70 600.55h7.5M1306.74 960.00v-8M1369.78 960.00v-8M1432.81 960.00v-8M1495.85 960.00v-8M1558.89 960.00v-8M1621.93 960.00v-8M1684.96 960.00v-8M1275.22 960.00v-4.5M1338.26 960.00v-4.5M1401.29 960.00v-4.5M1464.33 960.00v-4.5M1527.37 960.00v-4.5M1590.41 960.00v-4.5M1653.44 960.00v-4.5M1716.48 960.00v-4.5" stroke="#1a1a1a" stroke-width="2.0" fill="none"/>
<g fill="#000"><text x="13.5" y="114.8" font-size="43" text-anchor="start" font-weight="bold" textLength="29.2" lengthAdjust="spacingAndGlyphs">A</text><text x="497.8" y="37.8" font-size="43" text-anchor="start" font-weight="bold" textLength="27.3" lengthAdjust="spacingAndGlyphs">B</text><text x="1125.3" y="40.3" font-size="43" text-anchor="start" font-weight="bold" textLength="32.6" lengthAdjust="spacingAndGlyphs">C</text><text x="495.5" y="563.8" font-size="43" text-anchor="start" font-weight="bold">D</text><text x="1126.5" y="563.9" font-size="43" text-anchor="start" font-weight="bold">E</text><text x="276" y="105.6" font-size="33" fill="#94bf22"><tspan font-style="italic">E</tspan> (<tspan font-style="italic">x</tspan>)</text><text x="131" y="231.1" font-size="33" fill="#379ada"><tspan font-style="italic">H</tspan> (<tspan font-style="italic">y</tspan>)</text><text x="579.8" y="27.8" font-size="34" text-anchor="end">0</text><text x="579.8" y="131.5" font-size="34" text-anchor="end">200</text><text x="579.8" y="237.0" font-size="34" text-anchor="end">400</text><text x="579.8" y="341.7" font-size="34" text-anchor="end">600</text><text x="579.8" y="445.6" font-size="34" text-anchor="end">800</text><text x="598.5" y="477.9" font-size="34" text-anchor="middle">0</text><text x="707.0" y="477.9" font-size="34" text-anchor="middle">200</text><text x="819.9" y="477.9" font-size="34" text-anchor="middle">400</text><text x="928.9" y="477.9" font-size="34" text-anchor="middle">600</text><text x="1035.3" y="477.9" font-size="34" text-anchor="middle">800</text><text x="823.5" y="511.7" font-size="33" text-anchor="middle"><tspan font-style="italic">x</tspan> (nm)</text><text transform="translate(515.5 227.4) rotate(-90)" font-size="33" text-anchor="middle"><tspan font-style="italic">y</tspan> (nm)</text><text x="1075.0" y="49.2" font-size="34" text-anchor="middle">1.2</text><text x="1075.6" y="451.3" font-size="34" text-anchor="middle">0</text><text x="580.0" y="557.4" font-size="34" text-anchor="end">0</text><text x="580.0" y="659.5" font-size="34" text-anchor="end">200</text><text x="580.0" y="764.5" font-size="34" text-anchor="end">400</text><text x="580.0" y="871.2" font-size="34" text-anchor="end">600</text><text x="580.0" y="978.0" font-size="34" text-anchor="end">800</text><text x="594.4" y="1007.2" font-size="34" text-anchor="middle">0</text><text x="703.2" y="1007.2" font-size="34" text-anchor="middle">200</text><text x="816.8" y="1007.2" font-size="34" text-anchor="middle">400</text><text x="925.4" y="1007.2" font-size="34" text-anchor="middle">600</text><text x="1031.4" y="1007.2" font-size="34" text-anchor="middle">800</text><text x="820.5" y="1041.5" font-size="33" text-anchor="middle"><tspan font-style="italic">x</tspan> (nm)</text><text transform="translate(519.2 755.1) rotate(-90)" font-size="33" text-anchor="middle"><tspan font-style="italic">y</tspan> (nm)</text><text x="1073.1" y="576.8" font-size="34" text-anchor="middle">0.09</text><text x="1071.3" y="981.4" font-size="34" text-anchor="middle">0</text><text x="1218.5" y="48.9" font-size="34" text-anchor="end">1.0</text><text x="1217.6" y="242.8" font-size="34" text-anchor="end">0.5</text><text x="1218.3" y="432.2" font-size="34" text-anchor="end">0</text><text x="1228.6" y="464.5" font-size="34" text-anchor="middle">0</text><text x="1352.4" y="464.5" font-size="34" text-anchor="middle">200</text><text x="1479.6" y="464.5" font-size="34" text-anchor="middle">400</text><text x="1605.3" y="464.5" font-size="34" text-anchor="middle">600</text><text x="1723.8" y="464.5" font-size="34" text-anchor="middle">800</text><text x="1478.8" y="501.5" font-size="33" text-anchor="middle"><tspan font-style="italic">x</tspan> (nm)</text><text transform="translate(1152.1 226.3) rotate(-90)" font-size="33" text-anchor="middle">Intensity (a. u.)</text><text x="1238.0" y="563.8" font-size="34" text-anchor="end">0.08</text><text x="1237.8" y="765.8" font-size="34" text-anchor="end">0.04</text><text x="1230.0" y="979.2" font-size="34" text-anchor="end">0</text><text x="1243.5" y="995.1" font-size="34" text-anchor="middle">0</text><text x="1369.4" y="995.1" font-size="34" text-anchor="middle">200</text><text x="1499.9" y="995.1" font-size="34" text-anchor="middle">400</text><text x="1625.2" y="995.1" font-size="34" text-anchor="middle">600</text><text x="1745.5" y="995.1" font-size="34" text-anchor="middle">800</text><text x="1501.4" y="1028.5" font-size="33" text-anchor="middle"><tspan font-style="italic">x</tspan> (nm)</text><text transform="translate(1152.8 754.2) rotate(-90)" font-size="33" text-anchor="middle">Intensity (a. u.)</text></g>
</svg></body></html>
